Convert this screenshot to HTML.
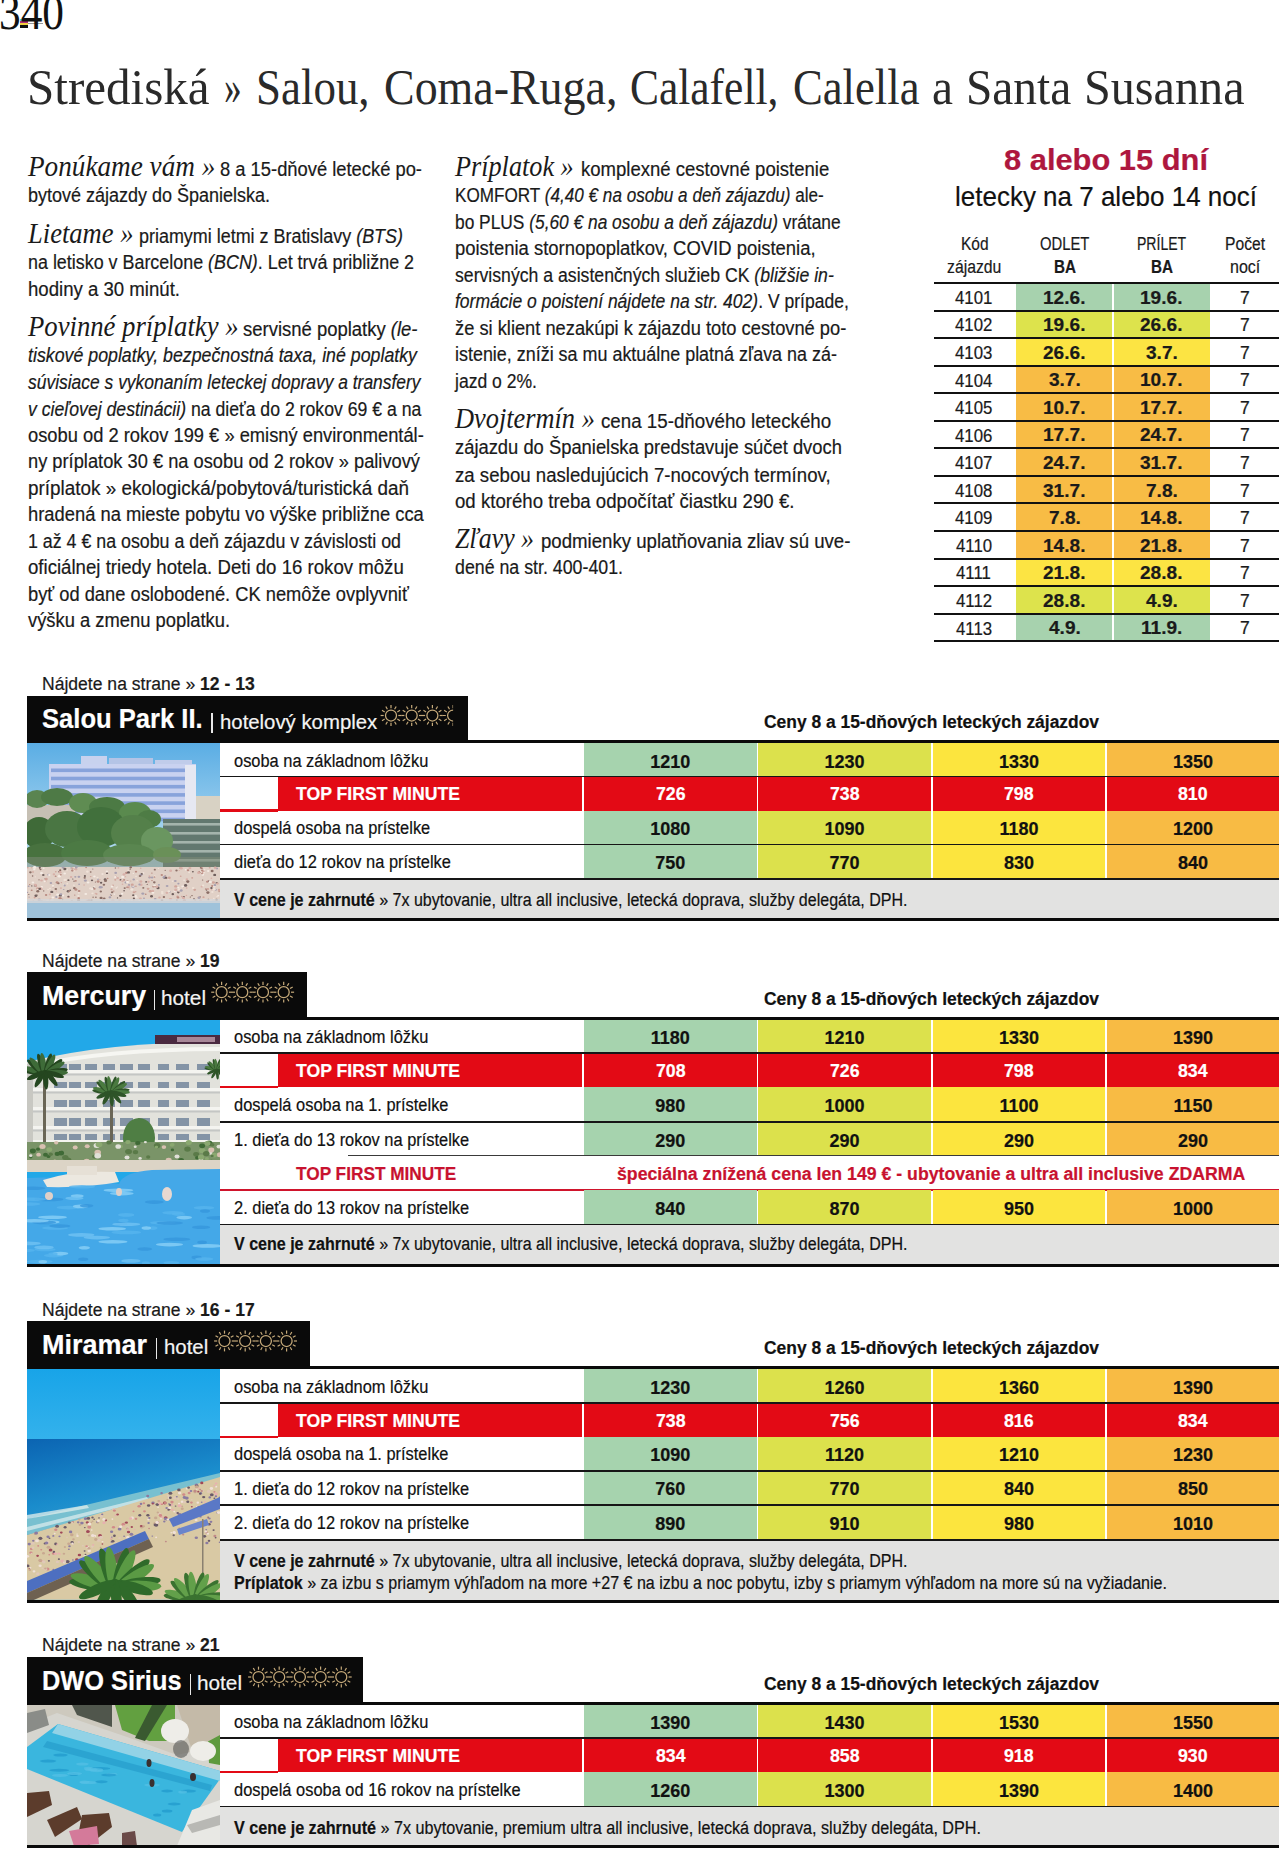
<!DOCTYPE html>
<html><head><meta charset="utf-8"><title>Strediská</title>
<style>
html,body{margin:0;padding:0;background:#fff;overflow:hidden;}
body{width:1280px;height:1849px;position:relative;overflow:hidden;}
.t{position:absolute;white-space:nowrap;line-height:0;-webkit-text-stroke:0.2px currentColor;}
.hd{font-family:"Liberation Serif",serif;font-style:italic;font-size:30px;-webkit-text-stroke:0;}
i{font-style:italic;}
</style></head><body>
<div style="position:absolute;left:20px;top:19px;width:8px;height:2px;background:#5ac8f0;"></div>
<div style="position:absolute;left:20px;top:21px;width:8px;height:2px;background:#b0307a;"></div>
<div style="position:absolute;left:20px;top:23px;width:8px;height:2px;background:#f0d040;"></div>
<div style="position:absolute;left:20px;top:25px;width:8px;height:3px;background:#111;"></div>
<div style="position:absolute;left:28px;top:23px;width:15px;height:1px;background:#999;"></div>
<div style="position:absolute;left:1016px;top:283.0px;width:96px;height:27.55px;background:#a7d2ae;"></div>
<div style="position:absolute;left:1114px;top:283.0px;width:96px;height:27.55px;background:#a7d2ae;"></div>
<div style="position:absolute;left:1016px;top:310.55px;width:96px;height:27.55px;background:#dde34c;"></div>
<div style="position:absolute;left:1114px;top:310.55px;width:96px;height:27.55px;background:#dde34c;"></div>
<div style="position:absolute;left:1016px;top:338.1px;width:96px;height:27.55px;background:#fce443;"></div>
<div style="position:absolute;left:1114px;top:338.1px;width:96px;height:27.55px;background:#fce443;"></div>
<div style="position:absolute;left:1016px;top:365.65px;width:96px;height:27.55px;background:#f8bc45;"></div>
<div style="position:absolute;left:1114px;top:365.65px;width:96px;height:27.55px;background:#f8bc45;"></div>
<div style="position:absolute;left:1016px;top:393.2px;width:96px;height:27.55px;background:#f8bc45;"></div>
<div style="position:absolute;left:1114px;top:393.2px;width:96px;height:27.55px;background:#f8bc45;"></div>
<div style="position:absolute;left:1016px;top:420.75px;width:96px;height:27.55px;background:#f8bc45;"></div>
<div style="position:absolute;left:1114px;top:420.75px;width:96px;height:27.55px;background:#f8bc45;"></div>
<div style="position:absolute;left:1016px;top:448.3px;width:96px;height:27.55px;background:#f8bc45;"></div>
<div style="position:absolute;left:1114px;top:448.3px;width:96px;height:27.55px;background:#f8bc45;"></div>
<div style="position:absolute;left:1016px;top:475.85px;width:96px;height:27.55px;background:#f8bc45;"></div>
<div style="position:absolute;left:1114px;top:475.85px;width:96px;height:27.55px;background:#f8bc45;"></div>
<div style="position:absolute;left:1016px;top:503.4px;width:96px;height:27.55px;background:#f8bc45;"></div>
<div style="position:absolute;left:1114px;top:503.4px;width:96px;height:27.55px;background:#f8bc45;"></div>
<div style="position:absolute;left:1016px;top:530.95px;width:96px;height:27.55px;background:#f8bc45;"></div>
<div style="position:absolute;left:1114px;top:530.95px;width:96px;height:27.55px;background:#f8bc45;"></div>
<div style="position:absolute;left:1016px;top:558.5px;width:96px;height:27.55px;background:#fce443;"></div>
<div style="position:absolute;left:1114px;top:558.5px;width:96px;height:27.55px;background:#fce443;"></div>
<div style="position:absolute;left:1016px;top:586.05px;width:96px;height:27.55px;background:#dde34c;"></div>
<div style="position:absolute;left:1114px;top:586.05px;width:96px;height:27.55px;background:#dde34c;"></div>
<div style="position:absolute;left:1016px;top:613.6px;width:96px;height:27.55px;background:#a7d2ae;"></div>
<div style="position:absolute;left:1114px;top:613.6px;width:96px;height:27.55px;background:#a7d2ae;"></div>
<div style="position:absolute;left:934px;top:282.0px;width:345px;height:2px;background:#111;"></div>
<div style="position:absolute;left:934px;top:309.55px;width:345px;height:2px;background:#111;"></div>
<div style="position:absolute;left:934px;top:337.1px;width:345px;height:2px;background:#111;"></div>
<div style="position:absolute;left:934px;top:364.65px;width:345px;height:2px;background:#111;"></div>
<div style="position:absolute;left:934px;top:392.2px;width:345px;height:2px;background:#111;"></div>
<div style="position:absolute;left:934px;top:419.75px;width:345px;height:2px;background:#111;"></div>
<div style="position:absolute;left:934px;top:447.3px;width:345px;height:2px;background:#111;"></div>
<div style="position:absolute;left:934px;top:474.85px;width:345px;height:2px;background:#111;"></div>
<div style="position:absolute;left:934px;top:502.4px;width:345px;height:2px;background:#111;"></div>
<div style="position:absolute;left:934px;top:529.95px;width:345px;height:2px;background:#111;"></div>
<div style="position:absolute;left:934px;top:557.5px;width:345px;height:2px;background:#111;"></div>
<div style="position:absolute;left:934px;top:585.05px;width:345px;height:2px;background:#111;"></div>
<div style="position:absolute;left:934px;top:612.6px;width:345px;height:2px;background:#111;"></div>
<div style="position:absolute;left:934px;top:640.1500000000001px;width:345px;height:2px;background:#111;"></div>
<div style="position:absolute;left:27px;top:695.5px;width:441.4px;height:47.5px;background:#0a0a0a;"></div>
<div style="position:absolute;left:27px;top:740px;width:1252px;height:3px;background:#0a0a0a;"></div>
<div style="position:absolute;left:211.3px;top:712.9px;width:1.4px;height:20.6px;background:#e8e8e8;"></div>
<svg style="position:absolute;left:0;top:0;overflow:visible" width="1" height="1"><circle cx="391.0" cy="715.5" r="5.5" fill="none" stroke="#c6aa7a" stroke-width="1.25"/><line x1="398.3" y1="715.5" x2="401.4" y2="715.5" stroke="#c6aa7a" stroke-width="1.2" stroke-linecap="butt"/><line x1="397.3" y1="719.1" x2="400.0" y2="720.7" stroke="#c6aa7a" stroke-width="1.2" stroke-linecap="butt"/><line x1="394.6" y1="721.8" x2="396.2" y2="724.5" stroke="#c6aa7a" stroke-width="1.2" stroke-linecap="butt"/><line x1="391.0" y1="722.8" x2="391.0" y2="725.9" stroke="#c6aa7a" stroke-width="1.2" stroke-linecap="butt"/><line x1="387.4" y1="721.8" x2="385.8" y2="724.5" stroke="#c6aa7a" stroke-width="1.2" stroke-linecap="butt"/><line x1="384.7" y1="719.1" x2="382.0" y2="720.7" stroke="#c6aa7a" stroke-width="1.2" stroke-linecap="butt"/><line x1="383.7" y1="715.5" x2="380.6" y2="715.5" stroke="#c6aa7a" stroke-width="1.2" stroke-linecap="butt"/><line x1="384.7" y1="711.9" x2="382.0" y2="710.3" stroke="#c6aa7a" stroke-width="1.2" stroke-linecap="butt"/><line x1="387.4" y1="709.2" x2="385.8" y2="706.5" stroke="#c6aa7a" stroke-width="1.2" stroke-linecap="butt"/><line x1="391.0" y1="708.2" x2="391.0" y2="705.1" stroke="#c6aa7a" stroke-width="1.2" stroke-linecap="butt"/><line x1="394.6" y1="709.2" x2="396.2" y2="706.5" stroke="#c6aa7a" stroke-width="1.2" stroke-linecap="butt"/><line x1="397.3" y1="711.9" x2="400.0" y2="710.3" stroke="#c6aa7a" stroke-width="1.2" stroke-linecap="butt"/><circle cx="411.7" cy="715.5" r="5.5" fill="none" stroke="#c6aa7a" stroke-width="1.25"/><line x1="419.0" y1="715.5" x2="422.1" y2="715.5" stroke="#c6aa7a" stroke-width="1.2" stroke-linecap="butt"/><line x1="418.0" y1="719.1" x2="420.7" y2="720.7" stroke="#c6aa7a" stroke-width="1.2" stroke-linecap="butt"/><line x1="415.3" y1="721.8" x2="416.9" y2="724.5" stroke="#c6aa7a" stroke-width="1.2" stroke-linecap="butt"/><line x1="411.7" y1="722.8" x2="411.7" y2="725.9" stroke="#c6aa7a" stroke-width="1.2" stroke-linecap="butt"/><line x1="408.1" y1="721.8" x2="406.5" y2="724.5" stroke="#c6aa7a" stroke-width="1.2" stroke-linecap="butt"/><line x1="405.4" y1="719.1" x2="402.7" y2="720.7" stroke="#c6aa7a" stroke-width="1.2" stroke-linecap="butt"/><line x1="404.4" y1="715.5" x2="401.3" y2="715.5" stroke="#c6aa7a" stroke-width="1.2" stroke-linecap="butt"/><line x1="405.4" y1="711.9" x2="402.7" y2="710.3" stroke="#c6aa7a" stroke-width="1.2" stroke-linecap="butt"/><line x1="408.1" y1="709.2" x2="406.5" y2="706.5" stroke="#c6aa7a" stroke-width="1.2" stroke-linecap="butt"/><line x1="411.7" y1="708.2" x2="411.7" y2="705.1" stroke="#c6aa7a" stroke-width="1.2" stroke-linecap="butt"/><line x1="415.3" y1="709.2" x2="416.9" y2="706.5" stroke="#c6aa7a" stroke-width="1.2" stroke-linecap="butt"/><line x1="418.0" y1="711.9" x2="420.7" y2="710.3" stroke="#c6aa7a" stroke-width="1.2" stroke-linecap="butt"/><circle cx="432.4" cy="715.5" r="5.5" fill="none" stroke="#c6aa7a" stroke-width="1.25"/><line x1="439.7" y1="715.5" x2="442.8" y2="715.5" stroke="#c6aa7a" stroke-width="1.2" stroke-linecap="butt"/><line x1="438.7" y1="719.1" x2="441.4" y2="720.7" stroke="#c6aa7a" stroke-width="1.2" stroke-linecap="butt"/><line x1="436.0" y1="721.8" x2="437.6" y2="724.5" stroke="#c6aa7a" stroke-width="1.2" stroke-linecap="butt"/><line x1="432.4" y1="722.8" x2="432.4" y2="725.9" stroke="#c6aa7a" stroke-width="1.2" stroke-linecap="butt"/><line x1="428.8" y1="721.8" x2="427.2" y2="724.5" stroke="#c6aa7a" stroke-width="1.2" stroke-linecap="butt"/><line x1="426.1" y1="719.1" x2="423.4" y2="720.7" stroke="#c6aa7a" stroke-width="1.2" stroke-linecap="butt"/><line x1="425.1" y1="715.5" x2="422.0" y2="715.5" stroke="#c6aa7a" stroke-width="1.2" stroke-linecap="butt"/><line x1="426.1" y1="711.9" x2="423.4" y2="710.3" stroke="#c6aa7a" stroke-width="1.2" stroke-linecap="butt"/><line x1="428.8" y1="709.2" x2="427.2" y2="706.5" stroke="#c6aa7a" stroke-width="1.2" stroke-linecap="butt"/><line x1="432.4" y1="708.2" x2="432.4" y2="705.1" stroke="#c6aa7a" stroke-width="1.2" stroke-linecap="butt"/><line x1="436.0" y1="709.2" x2="437.6" y2="706.5" stroke="#c6aa7a" stroke-width="1.2" stroke-linecap="butt"/><line x1="438.7" y1="711.9" x2="441.4" y2="710.3" stroke="#c6aa7a" stroke-width="1.2" stroke-linecap="butt"/><clipPath id="hc715"><rect x="442.1" y="704.5" width="11" height="22"/></clipPath><g clip-path="url(#hc715)"><circle cx="453.1" cy="715.5" r="5.5" fill="none" stroke="#c6aa7a" stroke-width="1.25"/><line x1="460.4" y1="715.5" x2="463.5" y2="715.5" stroke="#c6aa7a" stroke-width="1.2" stroke-linecap="butt"/><line x1="459.4" y1="719.1" x2="462.1" y2="720.7" stroke="#c6aa7a" stroke-width="1.2" stroke-linecap="butt"/><line x1="456.8" y1="721.8" x2="458.3" y2="724.5" stroke="#c6aa7a" stroke-width="1.2" stroke-linecap="butt"/><line x1="453.1" y1="722.8" x2="453.1" y2="725.9" stroke="#c6aa7a" stroke-width="1.2" stroke-linecap="butt"/><line x1="449.5" y1="721.8" x2="447.9" y2="724.5" stroke="#c6aa7a" stroke-width="1.2" stroke-linecap="butt"/><line x1="446.8" y1="719.1" x2="444.1" y2="720.7" stroke="#c6aa7a" stroke-width="1.2" stroke-linecap="butt"/><line x1="445.8" y1="715.5" x2="442.7" y2="715.5" stroke="#c6aa7a" stroke-width="1.2" stroke-linecap="butt"/><line x1="446.8" y1="711.9" x2="444.1" y2="710.3" stroke="#c6aa7a" stroke-width="1.2" stroke-linecap="butt"/><line x1="449.5" y1="709.2" x2="447.9" y2="706.5" stroke="#c6aa7a" stroke-width="1.2" stroke-linecap="butt"/><line x1="453.1" y1="708.2" x2="453.1" y2="705.1" stroke="#c6aa7a" stroke-width="1.2" stroke-linecap="butt"/><line x1="456.8" y1="709.2" x2="458.3" y2="706.5" stroke="#c6aa7a" stroke-width="1.2" stroke-linecap="butt"/><line x1="459.4" y1="711.9" x2="462.1" y2="710.3" stroke="#c6aa7a" stroke-width="1.2" stroke-linecap="butt"/></g></svg>
<svg style="position:absolute;left:27px;top:743px" width="193" height="175" viewBox="0 0 193 175" preserveAspectRatio="none"><defs><linearGradient id="sk1" x1="0" y1="0" x2="0" y2="1"><stop offset="0" stop-color="#5aade4"/><stop offset="0.45" stop-color="#9ccfee"/><stop offset="0.8" stop-color="#c4e2f2"/></linearGradient></defs><rect width="193" height="175" fill="url(#sk1)"/><rect x="169" y="53" width="24" height="24" fill="#d8d2c4"/><rect x="54" y="13" width="26" height="9" fill="#c8d2ee"/><rect x="82" y="15" width="44" height="7" fill="#b4c4e6"/><rect x="128" y="17" width="37" height="5" fill="#c0ccea"/><rect x="22" y="21" width="147" height="56" fill="#c9d2f0"/><rect x="24" y="25.5" width="140" height="3.6" fill="#6c8fd2" opacity="0.7"/><rect x="24" y="33.7" width="140" height="3.6" fill="#6c8fd2" opacity="0.7"/><rect x="24" y="41.9" width="140" height="3.6" fill="#6c8fd2" opacity="0.7"/><rect x="24" y="50.1" width="140" height="3.6" fill="#6c8fd2" opacity="0.7"/><rect x="24" y="58.3" width="140" height="3.6" fill="#6c8fd2" opacity="0.7"/><rect x="24" y="66.5" width="140" height="3.6" fill="#6c8fd2" opacity="0.7"/><rect x="24" y="74.7" width="140" height="3.6" fill="#6c8fd2" opacity="0.7"/><rect x="158" y="22" width="11" height="55" fill="#e6e8f2"/><rect x="136" y="76" width="57" height="50" fill="#62786f"/><rect x="136" y="80.0" width="57" height="2.6" fill="#a4b4ac"/><rect x="136" y="89.0" width="57" height="2.6" fill="#a4b4ac"/><rect x="136" y="98.0" width="57" height="2.6" fill="#a4b4ac"/><rect x="136" y="107.0" width="57" height="2.6" fill="#a4b4ac"/><rect x="136" y="116.0" width="57" height="2.6" fill="#a4b4ac"/><rect x="0" y="62" width="48" height="22" fill="#c6c0b4"/><ellipse cx="10" cy="56" rx="12" ry="9" fill="#5a8450"/><ellipse cx="30" cy="54" rx="16" ry="9" fill="#4e7a46"/><ellipse cx="56" cy="60" rx="14" ry="10" fill="#5f8c52"/><ellipse cx="80" cy="64" rx="18" ry="10" fill="#4c7a44"/><ellipse cx="108" cy="70" rx="16" ry="11" fill="#5a8a4e"/><ellipse cx="122" cy="76" rx="12" ry="9" fill="#4e7c45"/><ellipse cx="12" cy="90" rx="16" ry="16" fill="#3f6a38"/><ellipse cx="40" cy="86" rx="22" ry="18" fill="#4a7643"/><ellipse cx="74" cy="84" rx="24" ry="20" fill="#41703c"/><ellipse cx="106" cy="90" rx="22" ry="18" fill="#54804a"/><ellipse cx="130" cy="98" rx="16" ry="14" fill="#6a9660"/><ellipse cx="18" cy="112" rx="22" ry="12" fill="#48723f"/><ellipse cx="60" cy="110" rx="26" ry="13" fill="#4c7a44"/><ellipse cx="102" cy="112" rx="26" ry="11" fill="#5a8650"/><ellipse cx="140" cy="112" rx="14" ry="8" fill="#6a9058"/><rect x="0" y="114" width="193" height="11" fill="#7c8874" opacity="0.55"/><rect x="0" y="124" width="193" height="36" fill="#e0d0c6"/><ellipse cx="25.9" cy="154.5" rx="1.4" ry="1.1" fill="#f4ebe4" opacity="1.0"/><ellipse cx="22.8" cy="151.4" rx="1.1" ry="0.9" fill="#d8b0a8" opacity="1.0"/><ellipse cx="152.2" cy="127.4" rx="0.6" ry="0.5" fill="#d8b0a8" opacity="1.0"/><ellipse cx="83.5" cy="151.4" rx="0.6" ry="0.5" fill="#a8a0b0" opacity="1.0"/><ellipse cx="51.4" cy="152.9" rx="1.2" ry="1.0" fill="#efe2d8" opacity="1.0"/><ellipse cx="174.0" cy="125.1" rx="0.6" ry="0.5" fill="#b88a80" opacity="1.0"/><ellipse cx="181.3" cy="137.7" rx="0.8" ry="0.7" fill="#d8b0a8" opacity="1.0"/><ellipse cx="140.1" cy="143.0" rx="1.4" ry="1.1" fill="#a8a0b0" opacity="1.0"/><ellipse cx="106.7" cy="136.4" rx="1.3" ry="1.0" fill="#a8a0b0" opacity="1.0"/><ellipse cx="183.8" cy="157.4" rx="1.0" ry="0.8" fill="#efe2d8" opacity="1.0"/><ellipse cx="35.9" cy="159.7" rx="1.5" ry="1.2" fill="#efe2d8" opacity="1.0"/><ellipse cx="143.4" cy="156.2" rx="1.6" ry="1.3" fill="#d8b0a8" opacity="1.0"/><ellipse cx="98.0" cy="156.8" rx="0.8" ry="0.6" fill="#f4ebe4" opacity="1.0"/><ellipse cx="113.4" cy="155.8" rx="1.4" ry="1.2" fill="#d8b0a8" opacity="1.0"/><ellipse cx="113.7" cy="125.2" rx="0.8" ry="0.7" fill="#d8b0a8" opacity="1.0"/><ellipse cx="80.0" cy="130.2" rx="1.1" ry="0.9" fill="#6e5e5c" opacity="1.0"/><ellipse cx="16.7" cy="147.9" rx="0.7" ry="0.6" fill="#8a6e66" opacity="1.0"/><ellipse cx="100.5" cy="138.2" rx="1.1" ry="0.9" fill="#b88a80" opacity="1.0"/><ellipse cx="90.6" cy="135.1" rx="1.4" ry="1.2" fill="#d8b0a8" opacity="1.0"/><ellipse cx="124.9" cy="130.1" rx="0.8" ry="0.7" fill="#b88a80" opacity="1.0"/><ellipse cx="148.7" cy="143.4" rx="1.5" ry="1.2" fill="#cfa49a" opacity="1.0"/><ellipse cx="78.1" cy="136.4" rx="1.4" ry="1.2" fill="#6e5e5c" opacity="1.0"/><ellipse cx="88.6" cy="133.7" rx="1.1" ry="0.9" fill="#b88a80" opacity="1.0"/><ellipse cx="74.1" cy="154.9" rx="1.6" ry="1.2" fill="#8a6e66" opacity="1.0"/><ellipse cx="100.1" cy="144.2" rx="1.0" ry="0.8" fill="#b88a80" opacity="1.0"/><ellipse cx="92.9" cy="137.1" rx="1.2" ry="0.9" fill="#d8b0a8" opacity="1.0"/><ellipse cx="93.6" cy="136.8" rx="0.9" ry="0.8" fill="#6e5e5c" opacity="1.0"/><ellipse cx="88.4" cy="125.0" rx="0.8" ry="0.7" fill="#8a6e66" opacity="1.0"/><ellipse cx="106.3" cy="130.5" rx="0.7" ry="0.6" fill="#f4ebe4" opacity="1.0"/><ellipse cx="6.3" cy="158.0" rx="0.7" ry="0.5" fill="#b88a80" opacity="1.0"/><ellipse cx="87.4" cy="151.1" rx="0.9" ry="0.7" fill="#f4ebe4" opacity="1.0"/><ellipse cx="21.1" cy="146.5" rx="0.9" ry="0.8" fill="#efe2d8" opacity="1.0"/><ellipse cx="32.3" cy="133.2" rx="1.6" ry="1.2" fill="#f4ebe4" opacity="1.0"/><ellipse cx="125.1" cy="134.6" rx="1.3" ry="1.0" fill="#a8a0b0" opacity="1.0"/><ellipse cx="91.4" cy="124.9" rx="1.0" ry="0.8" fill="#d8b0a8" opacity="1.0"/><ellipse cx="153.7" cy="133.3" rx="0.9" ry="0.7" fill="#cfa49a" opacity="1.0"/><ellipse cx="186.4" cy="139.5" rx="1.6" ry="1.3" fill="#cfa49a" opacity="1.0"/><ellipse cx="3.4" cy="129.3" rx="1.3" ry="1.1" fill="#8a6e66" opacity="1.0"/><ellipse cx="86.0" cy="142.2" rx="1.0" ry="0.8" fill="#cfa49a" opacity="1.0"/><ellipse cx="188.6" cy="146.7" rx="1.3" ry="1.0" fill="#a8a0b0" opacity="1.0"/><ellipse cx="43.1" cy="147.3" rx="1.0" ry="0.8" fill="#6e5e5c" opacity="1.0"/><ellipse cx="127.3" cy="139.3" rx="1.3" ry="1.1" fill="#8a6e66" opacity="1.0"/><ellipse cx="186.8" cy="155.5" rx="0.9" ry="0.7" fill="#efe2d8" opacity="1.0"/><ellipse cx="59.9" cy="157.8" rx="1.3" ry="1.1" fill="#d8b0a8" opacity="1.0"/><ellipse cx="109.0" cy="128.7" rx="1.2" ry="0.9" fill="#b88a80" opacity="1.0"/><ellipse cx="114.0" cy="131.8" rx="1.5" ry="1.2" fill="#a8a0b0" opacity="1.0"/><ellipse cx="33.1" cy="155.2" rx="1.6" ry="1.3" fill="#b88a80" opacity="1.0"/><ellipse cx="72.9" cy="136.5" rx="0.8" ry="0.6" fill="#d8b0a8" opacity="1.0"/><ellipse cx="114.1" cy="141.7" rx="1.5" ry="1.2" fill="#d8b0a8" opacity="1.0"/><ellipse cx="57.1" cy="142.0" rx="0.9" ry="0.7" fill="#d8b0a8" opacity="1.0"/><ellipse cx="173.6" cy="124.7" rx="0.8" ry="0.6" fill="#6e5e5c" opacity="1.0"/><ellipse cx="156.5" cy="144.3" rx="0.7" ry="0.6" fill="#d8b0a8" opacity="1.0"/><ellipse cx="41.1" cy="148.3" rx="1.4" ry="1.2" fill="#6e5e5c" opacity="1.0"/><ellipse cx="176.5" cy="154.2" rx="1.1" ry="0.9" fill="#cfa49a" opacity="1.0"/><ellipse cx="12.6" cy="125.5" rx="0.7" ry="0.6" fill="#8a6e66" opacity="1.0"/><ellipse cx="175.8" cy="131.7" rx="1.4" ry="1.1" fill="#f4ebe4" opacity="1.0"/><ellipse cx="71.0" cy="136.3" rx="0.9" ry="0.7" fill="#a8a0b0" opacity="1.0"/><ellipse cx="26.1" cy="143.8" rx="0.7" ry="0.6" fill="#b88a80" opacity="1.0"/><ellipse cx="78.5" cy="137.7" rx="1.6" ry="1.3" fill="#8a6e66" opacity="1.0"/><ellipse cx="159.9" cy="136.3" rx="1.2" ry="1.0" fill="#d8b0a8" opacity="1.0"/><ellipse cx="14.8" cy="143.8" rx="1.2" ry="0.9" fill="#f4ebe4" opacity="1.0"/><ellipse cx="70.4" cy="134.6" rx="1.1" ry="0.9" fill="#efe2d8" opacity="1.0"/><ellipse cx="88.3" cy="134.0" rx="1.4" ry="1.1" fill="#f4ebe4" opacity="1.0"/><ellipse cx="2.4" cy="148.1" rx="0.7" ry="0.6" fill="#efe2d8" opacity="1.0"/><ellipse cx="159.4" cy="152.4" rx="0.8" ry="0.6" fill="#d8b0a8" opacity="1.0"/><ellipse cx="31.3" cy="140.2" rx="1.3" ry="1.0" fill="#8a6e66" opacity="1.0"/><ellipse cx="143.6" cy="127.7" rx="1.5" ry="1.2" fill="#d8b0a8" opacity="1.0"/><ellipse cx="155.7" cy="143.5" rx="1.4" ry="1.1" fill="#f4ebe4" opacity="1.0"/><ellipse cx="137.3" cy="135.3" rx="0.8" ry="0.6" fill="#6e5e5c" opacity="1.0"/><ellipse cx="7.6" cy="124.4" rx="1.6" ry="1.3" fill="#f4ebe4" opacity="1.0"/><ellipse cx="140.2" cy="135.5" rx="1.0" ry="0.8" fill="#d8b0a8" opacity="1.0"/><ellipse cx="12.2" cy="156.9" rx="1.6" ry="1.3" fill="#a8a0b0" opacity="1.0"/><ellipse cx="21.5" cy="131.7" rx="1.2" ry="1.0" fill="#a8a0b0" opacity="1.0"/><ellipse cx="127.7" cy="133.3" rx="1.1" ry="0.9" fill="#f4ebe4" opacity="1.0"/><ellipse cx="38.4" cy="137.0" rx="1.4" ry="1.1" fill="#efe2d8" opacity="1.0"/><ellipse cx="189.8" cy="140.1" rx="1.3" ry="1.0" fill="#6e5e5c" opacity="1.0"/><ellipse cx="181.6" cy="138.1" rx="0.9" ry="0.7" fill="#6e5e5c" opacity="1.0"/><ellipse cx="36.1" cy="152.5" rx="1.2" ry="0.9" fill="#f4ebe4" opacity="1.0"/><ellipse cx="47.4" cy="127.6" rx="1.2" ry="1.0" fill="#efe2d8" opacity="1.0"/><ellipse cx="47.3" cy="124.7" rx="0.8" ry="0.7" fill="#efe2d8" opacity="1.0"/><ellipse cx="51.7" cy="155.2" rx="1.3" ry="1.1" fill="#b88a80" opacity="1.0"/><ellipse cx="122.6" cy="134.5" rx="1.4" ry="1.1" fill="#a8a0b0" opacity="1.0"/><ellipse cx="90.5" cy="154.9" rx="0.7" ry="0.6" fill="#6e5e5c" opacity="1.0"/><ellipse cx="14.9" cy="158.2" rx="0.8" ry="0.6" fill="#8a6e66" opacity="1.0"/><ellipse cx="190.1" cy="153.6" rx="0.9" ry="0.7" fill="#efe2d8" opacity="1.0"/><ellipse cx="136.9" cy="154.0" rx="1.2" ry="1.0" fill="#8a6e66" opacity="1.0"/><ellipse cx="172.5" cy="129.1" rx="1.5" ry="1.2" fill="#b88a80" opacity="1.0"/><ellipse cx="150.5" cy="153.6" rx="1.2" ry="1.0" fill="#cfa49a" opacity="1.0"/><ellipse cx="34.4" cy="139.6" rx="0.8" ry="0.6" fill="#cfa49a" opacity="1.0"/><ellipse cx="48.7" cy="126.3" rx="1.6" ry="1.3" fill="#d8b0a8" opacity="1.0"/><ellipse cx="106.0" cy="143.5" rx="1.5" ry="1.2" fill="#a8a0b0" opacity="1.0"/><ellipse cx="2.1" cy="154.1" rx="0.8" ry="0.6" fill="#a8a0b0" opacity="1.0"/><ellipse cx="4.7" cy="147.3" rx="1.0" ry="0.8" fill="#b88a80" opacity="1.0"/><ellipse cx="12.0" cy="136.8" rx="0.7" ry="0.6" fill="#8a6e66" opacity="1.0"/><ellipse cx="26.7" cy="159.4" rx="0.9" ry="0.7" fill="#d8b0a8" opacity="1.0"/><ellipse cx="33.2" cy="127.2" rx="1.1" ry="0.9" fill="#8a6e66" opacity="1.0"/><ellipse cx="102.0" cy="142.0" rx="1.2" ry="1.0" fill="#a8a0b0" opacity="1.0"/><ellipse cx="179.5" cy="147.0" rx="0.8" ry="0.7" fill="#6e5e5c" opacity="1.0"/><ellipse cx="95.5" cy="141.2" rx="0.8" ry="0.7" fill="#d8b0a8" opacity="1.0"/><ellipse cx="65.0" cy="146.0" rx="1.3" ry="1.1" fill="#f4ebe4" opacity="1.0"/><ellipse cx="187.7" cy="131.9" rx="1.5" ry="1.2" fill="#6e5e5c" opacity="1.0"/><ellipse cx="30.8" cy="151.6" rx="1.5" ry="1.2" fill="#f4ebe4" opacity="1.0"/><ellipse cx="57.7" cy="134.8" rx="1.2" ry="0.9" fill="#8a6e66" opacity="1.0"/><ellipse cx="135.3" cy="150.5" rx="1.2" ry="1.0" fill="#efe2d8" opacity="1.0"/><ellipse cx="173.0" cy="158.6" rx="1.2" ry="0.9" fill="#8a6e66" opacity="1.0"/><ellipse cx="30.1" cy="139.4" rx="1.5" ry="1.2" fill="#b88a80" opacity="1.0"/><ellipse cx="95.5" cy="138.2" rx="1.2" ry="1.0" fill="#d8b0a8" opacity="1.0"/><ellipse cx="99.4" cy="129.9" rx="1.3" ry="1.1" fill="#b88a80" opacity="1.0"/><ellipse cx="101.2" cy="127.3" rx="0.9" ry="0.7" fill="#efe2d8" opacity="1.0"/><ellipse cx="51.6" cy="156.9" rx="1.6" ry="1.2" fill="#8a6e66" opacity="1.0"/><ellipse cx="187.1" cy="146.2" rx="1.6" ry="1.3" fill="#efe2d8" opacity="1.0"/><ellipse cx="85.9" cy="157.3" rx="1.6" ry="1.3" fill="#d8b0a8" opacity="1.0"/><ellipse cx="181.4" cy="156.5" rx="1.0" ry="0.8" fill="#6e5e5c" opacity="1.0"/><ellipse cx="84.6" cy="146.4" rx="1.1" ry="0.9" fill="#cfa49a" opacity="1.0"/><ellipse cx="23.0" cy="145.6" rx="1.0" ry="0.8" fill="#efe2d8" opacity="1.0"/><ellipse cx="127.5" cy="134.0" rx="1.0" ry="0.8" fill="#b88a80" opacity="1.0"/><ellipse cx="185.2" cy="143.0" rx="1.2" ry="0.9" fill="#b88a80" opacity="1.0"/><ellipse cx="121.1" cy="145.8" rx="1.4" ry="1.1" fill="#cfa49a" opacity="1.0"/><ellipse cx="33.4" cy="129.3" rx="0.8" ry="0.6" fill="#f4ebe4" opacity="1.0"/><ellipse cx="113.0" cy="133.0" rx="1.3" ry="1.0" fill="#8a6e66" opacity="1.0"/><ellipse cx="105.3" cy="141.7" rx="1.5" ry="1.2" fill="#cfa49a" opacity="1.0"/><ellipse cx="110.1" cy="137.8" rx="0.9" ry="0.7" fill="#efe2d8" opacity="1.0"/><ellipse cx="174.5" cy="124.9" rx="1.2" ry="0.9" fill="#b88a80" opacity="1.0"/><ellipse cx="105.2" cy="158.7" rx="1.4" ry="1.1" fill="#8a6e66" opacity="1.0"/><ellipse cx="14.5" cy="137.5" rx="1.4" ry="1.1" fill="#d8b0a8" opacity="1.0"/><ellipse cx="97.1" cy="136.8" rx="1.1" ry="0.9" fill="#b88a80" opacity="1.0"/><ellipse cx="23.9" cy="149.8" rx="1.0" ry="0.8" fill="#d8b0a8" opacity="1.0"/><ellipse cx="65.5" cy="150.3" rx="1.2" ry="0.9" fill="#efe2d8" opacity="1.0"/><ellipse cx="125.0" cy="137.6" rx="0.8" ry="0.6" fill="#b88a80" opacity="1.0"/><ellipse cx="192.0" cy="146.9" rx="1.3" ry="1.1" fill="#cfa49a" opacity="1.0"/><ellipse cx="190.5" cy="140.6" rx="1.4" ry="1.1" fill="#d8b0a8" opacity="1.0"/><ellipse cx="180.9" cy="149.6" rx="1.6" ry="1.3" fill="#8a6e66" opacity="1.0"/><ellipse cx="86.7" cy="148.1" rx="0.8" ry="0.6" fill="#b88a80" opacity="1.0"/><ellipse cx="131.0" cy="144.9" rx="1.6" ry="1.3" fill="#6e5e5c" opacity="1.0"/><ellipse cx="166.2" cy="145.0" rx="1.3" ry="1.1" fill="#efe2d8" opacity="1.0"/><ellipse cx="95.1" cy="150.8" rx="1.2" ry="1.0" fill="#f4ebe4" opacity="1.0"/><ellipse cx="121.5" cy="138.7" rx="1.2" ry="1.0" fill="#d8b0a8" opacity="1.0"/><ellipse cx="151.0" cy="154.5" rx="1.4" ry="1.1" fill="#b88a80" opacity="1.0"/><ellipse cx="67.4" cy="133.5" rx="1.3" ry="1.0" fill="#f4ebe4" opacity="1.0"/><ellipse cx="29.3" cy="154.0" rx="1.1" ry="0.9" fill="#a8a0b0" opacity="1.0"/><ellipse cx="98.5" cy="133.7" rx="0.7" ry="0.6" fill="#d8b0a8" opacity="1.0"/><ellipse cx="13.5" cy="126.4" rx="1.0" ry="0.8" fill="#8a6e66" opacity="1.0"/><ellipse cx="97.9" cy="158.1" rx="1.3" ry="1.0" fill="#d8b0a8" opacity="1.0"/><ellipse cx="122.7" cy="133.9" rx="0.9" ry="0.7" fill="#cfa49a" opacity="1.0"/><ellipse cx="45.8" cy="136.0" rx="0.7" ry="0.5" fill="#6e5e5c" opacity="1.0"/><ellipse cx="90.3" cy="144.1" rx="0.6" ry="0.5" fill="#f4ebe4" opacity="1.0"/><ellipse cx="126.0" cy="149.7" rx="1.4" ry="1.1" fill="#f4ebe4" opacity="1.0"/><ellipse cx="68.7" cy="150.6" rx="1.0" ry="0.8" fill="#d8b0a8" opacity="1.0"/><ellipse cx="33.3" cy="152.4" rx="1.5" ry="1.2" fill="#6e5e5c" opacity="1.0"/><ellipse cx="138.2" cy="133.3" rx="1.2" ry="1.0" fill="#cfa49a" opacity="1.0"/><ellipse cx="162.9" cy="125.1" rx="1.5" ry="1.2" fill="#d8b0a8" opacity="1.0"/><ellipse cx="61.1" cy="139.5" rx="1.4" ry="1.1" fill="#f4ebe4" opacity="1.0"/><ellipse cx="36.7" cy="146.5" rx="0.8" ry="0.6" fill="#a8a0b0" opacity="1.0"/><ellipse cx="112.2" cy="157.6" rx="0.7" ry="0.6" fill="#f4ebe4" opacity="1.0"/><ellipse cx="88.7" cy="129.9" rx="1.4" ry="1.1" fill="#a8a0b0" opacity="1.0"/><ellipse cx="69.7" cy="151.0" rx="0.8" ry="0.7" fill="#cfa49a" opacity="1.0"/><ellipse cx="138.7" cy="135.0" rx="0.7" ry="0.6" fill="#d8b0a8" opacity="1.0"/><ellipse cx="62.0" cy="157.4" rx="1.6" ry="1.2" fill="#b88a80" opacity="1.0"/><ellipse cx="10.7" cy="145.5" rx="1.5" ry="1.2" fill="#cfa49a" opacity="1.0"/><ellipse cx="131.9" cy="141.8" rx="1.1" ry="0.9" fill="#a8a0b0" opacity="1.0"/><ellipse cx="66.1" cy="154.2" rx="0.7" ry="0.6" fill="#8a6e66" opacity="1.0"/><ellipse cx="18.4" cy="138.4" rx="1.1" ry="0.9" fill="#d8b0a8" opacity="1.0"/><ellipse cx="144.9" cy="159.0" rx="0.8" ry="0.7" fill="#f4ebe4" opacity="1.0"/><ellipse cx="89.3" cy="144.9" rx="0.8" ry="0.6" fill="#f4ebe4" opacity="1.0"/><ellipse cx="63.7" cy="145.4" rx="1.5" ry="1.2" fill="#efe2d8" opacity="1.0"/><ellipse cx="8.9" cy="152.7" rx="1.5" ry="1.2" fill="#6e5e5c" opacity="1.0"/><ellipse cx="171.5" cy="154.5" rx="0.9" ry="0.7" fill="#cfa49a" opacity="1.0"/><ellipse cx="77.2" cy="155.7" rx="1.4" ry="1.1" fill="#8a6e66" opacity="1.0"/><ellipse cx="153.2" cy="125.1" rx="1.0" ry="0.8" fill="#b88a80" opacity="1.0"/><ellipse cx="109.0" cy="133.2" rx="0.7" ry="0.5" fill="#f4ebe4" opacity="1.0"/><ellipse cx="174.9" cy="125.3" rx="0.7" ry="0.5" fill="#8a6e66" opacity="1.0"/><ellipse cx="8.3" cy="133.8" rx="0.7" ry="0.6" fill="#efe2d8" opacity="1.0"/><ellipse cx="36.7" cy="142.0" rx="0.7" ry="0.6" fill="#f4ebe4" opacity="1.0"/><ellipse cx="132.5" cy="154.4" rx="1.3" ry="1.0" fill="#d8b0a8" opacity="1.0"/><ellipse cx="63.7" cy="133.6" rx="0.9" ry="0.7" fill="#cfa49a" opacity="1.0"/><ellipse cx="47.4" cy="145.2" rx="1.4" ry="1.1" fill="#8a6e66" opacity="1.0"/><ellipse cx="67.5" cy="145.8" rx="1.2" ry="0.9" fill="#b88a80" opacity="1.0"/><ellipse cx="174.7" cy="143.7" rx="1.1" ry="0.9" fill="#d8b0a8" opacity="1.0"/><ellipse cx="177.5" cy="126.5" rx="0.9" ry="0.7" fill="#efe2d8" opacity="1.0"/><ellipse cx="48.6" cy="159.2" rx="0.8" ry="0.6" fill="#cfa49a" opacity="1.0"/><ellipse cx="164.9" cy="154.7" rx="0.7" ry="0.5" fill="#efe2d8" opacity="1.0"/><ellipse cx="176.1" cy="142.5" rx="1.1" ry="0.9" fill="#efe2d8" opacity="1.0"/><ellipse cx="190.0" cy="125.4" rx="1.1" ry="0.9" fill="#a8a0b0" opacity="1.0"/><ellipse cx="128.2" cy="156.2" rx="1.4" ry="1.1" fill="#a8a0b0" opacity="1.0"/><ellipse cx="4.8" cy="142.9" rx="0.7" ry="0.6" fill="#6e5e5c" opacity="1.0"/><ellipse cx="16.6" cy="125.2" rx="1.0" ry="0.8" fill="#f4ebe4" opacity="1.0"/><ellipse cx="60.4" cy="128.7" rx="1.4" ry="1.1" fill="#efe2d8" opacity="1.0"/><ellipse cx="165.2" cy="134.9" rx="1.0" ry="0.8" fill="#cfa49a" opacity="1.0"/><ellipse cx="97.0" cy="131.4" rx="1.5" ry="1.2" fill="#d8b0a8" opacity="1.0"/><ellipse cx="184.6" cy="145.0" rx="0.7" ry="0.6" fill="#a8a0b0" opacity="1.0"/><ellipse cx="101.1" cy="144.1" rx="1.4" ry="1.2" fill="#b88a80" opacity="1.0"/><ellipse cx="173.1" cy="153.9" rx="0.9" ry="0.7" fill="#8a6e66" opacity="1.0"/><ellipse cx="38.6" cy="138.0" rx="0.9" ry="0.7" fill="#d8b0a8" opacity="1.0"/><ellipse cx="66.7" cy="144.7" rx="0.6" ry="0.5" fill="#6e5e5c" opacity="1.0"/><ellipse cx="80.6" cy="135.5" rx="0.9" ry="0.7" fill="#b88a80" opacity="1.0"/><ellipse cx="101.5" cy="129.4" rx="1.5" ry="1.2" fill="#6e5e5c" opacity="1.0"/><ellipse cx="151.4" cy="144.6" rx="1.1" ry="0.8" fill="#f4ebe4" opacity="1.0"/><ellipse cx="92.6" cy="156.9" rx="1.5" ry="1.2" fill="#d8b0a8" opacity="1.0"/><ellipse cx="157.4" cy="157.3" rx="1.5" ry="1.2" fill="#b88a80" opacity="1.0"/><ellipse cx="26.0" cy="142.9" rx="1.2" ry="0.9" fill="#f4ebe4" opacity="1.0"/><ellipse cx="151.3" cy="149.3" rx="1.3" ry="1.1" fill="#6e5e5c" opacity="1.0"/><ellipse cx="191.2" cy="152.7" rx="1.0" ry="0.8" fill="#f4ebe4" opacity="1.0"/><ellipse cx="89.7" cy="159.3" rx="1.1" ry="0.9" fill="#8a6e66" opacity="1.0"/><ellipse cx="5.6" cy="133.0" rx="0.8" ry="0.7" fill="#8a6e66" opacity="1.0"/><ellipse cx="175.0" cy="130.6" rx="1.0" ry="0.8" fill="#b88a80" opacity="1.0"/><ellipse cx="156.7" cy="159.2" rx="1.3" ry="1.0" fill="#efe2d8" opacity="1.0"/><ellipse cx="39.4" cy="126.4" rx="1.2" ry="0.9" fill="#efe2d8" opacity="1.0"/><ellipse cx="165.0" cy="152.6" rx="0.8" ry="0.7" fill="#8a6e66" opacity="1.0"/><ellipse cx="98.7" cy="139.6" rx="1.2" ry="1.0" fill="#a8a0b0" opacity="1.0"/><ellipse cx="137.1" cy="134.2" rx="1.5" ry="1.2" fill="#a8a0b0" opacity="1.0"/><ellipse cx="167.0" cy="156.1" rx="1.0" ry="0.8" fill="#6e5e5c" opacity="1.0"/><ellipse cx="105.1" cy="158.0" rx="1.4" ry="1.1" fill="#efe2d8" opacity="1.0"/><ellipse cx="157.1" cy="159.9" rx="0.9" ry="0.7" fill="#cfa49a" opacity="1.0"/><ellipse cx="1.6" cy="143.2" rx="1.0" ry="0.8" fill="#a8a0b0" opacity="1.0"/><ellipse cx="14.7" cy="146.2" rx="1.1" ry="0.9" fill="#d8b0a8" opacity="1.0"/><ellipse cx="7.7" cy="154.6" rx="1.1" ry="0.8" fill="#cfa49a" opacity="1.0"/><ellipse cx="185.4" cy="149.1" rx="1.2" ry="1.0" fill="#efe2d8" opacity="1.0"/><ellipse cx="158.6" cy="142.4" rx="1.6" ry="1.3" fill="#6e5e5c" opacity="1.0"/><ellipse cx="187.4" cy="143.5" rx="1.2" ry="0.9" fill="#f4ebe4" opacity="1.0"/><ellipse cx="101.4" cy="143.5" rx="1.4" ry="1.1" fill="#d8b0a8" opacity="1.0"/><ellipse cx="116.3" cy="144.9" rx="1.1" ry="0.8" fill="#8a6e66" opacity="1.0"/><ellipse cx="97.7" cy="145.1" rx="1.1" ry="0.9" fill="#8a6e66" opacity="1.0"/><ellipse cx="48.8" cy="124.3" rx="1.0" ry="0.8" fill="#b88a80" opacity="1.0"/><ellipse cx="71.1" cy="138.5" rx="1.5" ry="1.2" fill="#b88a80" opacity="1.0"/><ellipse cx="173.5" cy="157.3" rx="1.4" ry="1.2" fill="#d8b0a8" opacity="1.0"/><ellipse cx="51.9" cy="133.8" rx="1.4" ry="1.1" fill="#a8a0b0" opacity="1.0"/><ellipse cx="148.3" cy="138.0" rx="1.4" ry="1.1" fill="#a8a0b0" opacity="1.0"/><ellipse cx="68.4" cy="138.9" rx="0.6" ry="0.5" fill="#8a6e66" opacity="1.0"/><ellipse cx="157.1" cy="137.2" rx="0.7" ry="0.6" fill="#f4ebe4" opacity="1.0"/><ellipse cx="183.3" cy="138.9" rx="1.5" ry="1.2" fill="#f4ebe4" opacity="1.0"/><ellipse cx="142.7" cy="148.9" rx="1.0" ry="0.8" fill="#a8a0b0" opacity="1.0"/><ellipse cx="41.6" cy="153.9" rx="1.5" ry="1.2" fill="#d8b0a8" opacity="1.0"/><ellipse cx="138.2" cy="127.3" rx="0.7" ry="0.6" fill="#8a6e66" opacity="1.0"/><ellipse cx="44.2" cy="124.9" rx="0.9" ry="0.7" fill="#a8a0b0" opacity="1.0"/><ellipse cx="149.5" cy="127.6" rx="1.2" ry="1.0" fill="#8a6e66" opacity="1.0"/><ellipse cx="161.0" cy="127.2" rx="1.2" ry="1.0" fill="#b88a80" opacity="1.0"/><ellipse cx="106.1" cy="143.2" rx="0.9" ry="0.8" fill="#efe2d8" opacity="1.0"/><ellipse cx="141.8" cy="148.4" rx="1.4" ry="1.1" fill="#efe2d8" opacity="1.0"/><ellipse cx="192.1" cy="148.6" rx="0.8" ry="0.6" fill="#b88a80" opacity="1.0"/><ellipse cx="151.8" cy="148.4" rx="0.7" ry="0.5" fill="#d8b0a8" opacity="1.0"/><ellipse cx="23.9" cy="140.1" rx="1.3" ry="1.0" fill="#a8a0b0" opacity="1.0"/><ellipse cx="174.7" cy="128.2" rx="1.5" ry="1.2" fill="#efe2d8" opacity="1.0"/><ellipse cx="28.8" cy="146.1" rx="1.3" ry="1.0" fill="#8a6e66" opacity="1.0"/><ellipse cx="100.5" cy="139.0" rx="1.5" ry="1.2" fill="#f4ebe4" opacity="1.0"/><ellipse cx="167.7" cy="146.8" rx="1.4" ry="1.1" fill="#cfa49a" opacity="1.0"/><ellipse cx="152.2" cy="146.4" rx="1.5" ry="1.2" fill="#efe2d8" opacity="1.0"/><ellipse cx="1.7" cy="159.6" rx="1.3" ry="1.0" fill="#f4ebe4" opacity="1.0"/><ellipse cx="10.9" cy="146.5" rx="0.9" ry="0.7" fill="#efe2d8" opacity="1.0"/><ellipse cx="44.1" cy="133.9" rx="1.3" ry="1.0" fill="#d8b0a8" opacity="1.0"/><ellipse cx="28.6" cy="133.2" rx="1.0" ry="0.8" fill="#b88a80" opacity="1.0"/><ellipse cx="102.8" cy="145.9" rx="0.7" ry="0.6" fill="#d8b0a8" opacity="1.0"/><ellipse cx="52.1" cy="141.3" rx="0.9" ry="0.7" fill="#a8a0b0" opacity="1.0"/><ellipse cx="41.4" cy="137.2" rx="1.1" ry="0.9" fill="#6e5e5c" opacity="1.0"/><ellipse cx="34.0" cy="151.3" rx="1.3" ry="1.1" fill="#a8a0b0" opacity="1.0"/><ellipse cx="103.2" cy="126.1" rx="0.9" ry="0.7" fill="#8a6e66" opacity="1.0"/><ellipse cx="124.5" cy="153.2" rx="1.5" ry="1.2" fill="#6e5e5c" opacity="1.0"/><ellipse cx="120.2" cy="141.3" rx="0.7" ry="0.6" fill="#8a6e66" opacity="1.0"/><ellipse cx="134.8" cy="132.1" rx="1.2" ry="1.0" fill="#b88a80" opacity="1.0"/><ellipse cx="108.7" cy="148.7" rx="0.8" ry="0.7" fill="#cfa49a" opacity="1.0"/><ellipse cx="97.1" cy="147.8" rx="0.9" ry="0.7" fill="#6e5e5c" opacity="1.0"/><ellipse cx="0.8" cy="124.7" rx="0.9" ry="0.7" fill="#cfa49a" opacity="1.0"/><ellipse cx="16.3" cy="132.1" rx="1.3" ry="1.0" fill="#6e5e5c" opacity="1.0"/><ellipse cx="51.9" cy="149.9" rx="1.0" ry="0.8" fill="#efe2d8" opacity="1.0"/><ellipse cx="63.7" cy="129.0" rx="0.9" ry="0.7" fill="#8a6e66" opacity="1.0"/><ellipse cx="131.5" cy="125.5" rx="0.7" ry="0.5" fill="#efe2d8" opacity="1.0"/><ellipse cx="57.9" cy="133.0" rx="1.1" ry="0.9" fill="#6e5e5c" opacity="1.0"/><ellipse cx="6.0" cy="129.0" rx="1.0" ry="0.8" fill="#cfa49a" opacity="1.0"/><ellipse cx="18.1" cy="135.8" rx="0.6" ry="0.5" fill="#6e5e5c" opacity="1.0"/><ellipse cx="185.1" cy="128.0" rx="1.5" ry="1.2" fill="#8a6e66" opacity="1.0"/><ellipse cx="117.0" cy="155.3" rx="1.0" ry="0.8" fill="#a8a0b0" opacity="1.0"/><ellipse cx="108.9" cy="143.3" rx="1.0" ry="0.8" fill="#cfa49a" opacity="1.0"/><ellipse cx="122.1" cy="143.8" rx="0.7" ry="0.5" fill="#efe2d8" opacity="1.0"/><ellipse cx="33.8" cy="131.7" rx="1.0" ry="0.8" fill="#b88a80" opacity="1.0"/><ellipse cx="48.3" cy="133.8" rx="1.1" ry="0.9" fill="#a8a0b0" opacity="1.0"/><ellipse cx="24.3" cy="149.5" rx="1.3" ry="1.1" fill="#efe2d8" opacity="1.0"/><ellipse cx="126.3" cy="143.6" rx="1.1" ry="0.9" fill="#b88a80" opacity="1.0"/><ellipse cx="119.5" cy="140.0" rx="0.7" ry="0.6" fill="#efe2d8" opacity="1.0"/><ellipse cx="176.3" cy="129.1" rx="1.5" ry="1.2" fill="#cfa49a" opacity="1.0"/><ellipse cx="93.4" cy="152.8" rx="1.4" ry="1.1" fill="#6e5e5c" opacity="1.0"/><ellipse cx="171.5" cy="129.8" rx="1.4" ry="1.2" fill="#d8b0a8" opacity="1.0"/><ellipse cx="160.8" cy="138.6" rx="1.6" ry="1.3" fill="#8a6e66" opacity="1.0"/><ellipse cx="52.1" cy="148.0" rx="1.4" ry="1.1" fill="#b88a80" opacity="1.0"/><ellipse cx="103.7" cy="124.3" rx="1.4" ry="1.1" fill="#8a6e66" opacity="1.0"/><ellipse cx="73.2" cy="144.2" rx="1.5" ry="1.2" fill="#a8a0b0" opacity="1.0"/><ellipse cx="5.9" cy="139.6" rx="1.3" ry="1.0" fill="#f4ebe4" opacity="1.0"/><ellipse cx="180.2" cy="138.7" rx="1.2" ry="1.0" fill="#b88a80" opacity="1.0"/><ellipse cx="19.1" cy="152.0" rx="1.2" ry="1.0" fill="#b88a80" opacity="1.0"/><ellipse cx="156.8" cy="153.9" rx="1.2" ry="0.9" fill="#6e5e5c" opacity="1.0"/><ellipse cx="106.3" cy="152.2" rx="1.2" ry="0.9" fill="#6e5e5c" opacity="1.0"/><ellipse cx="154.8" cy="153.5" rx="0.8" ry="0.7" fill="#cfa49a" opacity="1.0"/><ellipse cx="20.4" cy="158.3" rx="1.5" ry="1.2" fill="#efe2d8" opacity="1.0"/><ellipse cx="149.9" cy="157.0" rx="0.9" ry="0.7" fill="#6e5e5c" opacity="1.0"/><ellipse cx="48.9" cy="146.5" rx="1.5" ry="1.2" fill="#b88a80" opacity="1.0"/><ellipse cx="119.1" cy="138.9" rx="1.0" ry="0.8" fill="#6e5e5c" opacity="1.0"/><ellipse cx="85.1" cy="149.2" rx="1.2" ry="1.0" fill="#8a6e66" opacity="1.0"/><ellipse cx="10.8" cy="148.2" rx="1.5" ry="1.2" fill="#8a6e66" opacity="1.0"/><ellipse cx="104.8" cy="146.5" rx="1.5" ry="1.2" fill="#efe2d8" opacity="1.0"/><ellipse cx="188.2" cy="124.8" rx="1.5" ry="1.2" fill="#d8b0a8" opacity="1.0"/><ellipse cx="121.9" cy="158.3" rx="1.0" ry="0.8" fill="#cfa49a" opacity="1.0"/><ellipse cx="19.2" cy="136.1" rx="1.6" ry="1.3" fill="#cfa49a" opacity="1.0"/><ellipse cx="151.4" cy="140.6" rx="1.1" ry="0.9" fill="#a8a0b0" opacity="1.0"/><ellipse cx="125.7" cy="147.9" rx="1.5" ry="1.2" fill="#d8b0a8" opacity="1.0"/><ellipse cx="85.0" cy="143.5" rx="1.2" ry="0.9" fill="#f4ebe4" opacity="1.0"/><ellipse cx="162.1" cy="129.4" rx="1.0" ry="0.8" fill="#efe2d8" opacity="1.0"/><ellipse cx="154.2" cy="147.5" rx="1.5" ry="1.2" fill="#a8a0b0" opacity="1.0"/><ellipse cx="147.9" cy="148.0" rx="1.4" ry="1.1" fill="#f4ebe4" opacity="1.0"/><ellipse cx="177.2" cy="129.6" rx="1.1" ry="0.9" fill="#efe2d8" opacity="1.0"/><ellipse cx="182.7" cy="124.7" rx="1.0" ry="0.8" fill="#cfa49a" opacity="1.0"/><ellipse cx="103.8" cy="138.1" rx="0.6" ry="0.5" fill="#cfa49a" opacity="1.0"/><ellipse cx="189.6" cy="156.7" rx="1.3" ry="1.0" fill="#6e5e5c" opacity="1.0"/><ellipse cx="127.8" cy="126.7" rx="1.1" ry="0.9" fill="#8a6e66" opacity="1.0"/><ellipse cx="33.9" cy="145.1" rx="1.1" ry="0.9" fill="#d8b0a8" opacity="1.0"/><ellipse cx="45.5" cy="125.5" rx="1.1" ry="0.9" fill="#cfa49a" opacity="1.0"/><ellipse cx="135.2" cy="148.9" rx="1.3" ry="1.0" fill="#efe2d8" opacity="1.0"/><ellipse cx="47.8" cy="152.1" rx="0.7" ry="0.6" fill="#b88a80" opacity="1.0"/><ellipse cx="74.7" cy="144.2" rx="1.2" ry="1.0" fill="#a8a0b0" opacity="1.0"/><ellipse cx="8.7" cy="142.7" rx="1.4" ry="1.1" fill="#b88a80" opacity="1.0"/><ellipse cx="184.4" cy="135.2" rx="0.9" ry="0.7" fill="#d8b0a8" opacity="1.0"/><ellipse cx="32.2" cy="128.8" rx="1.2" ry="0.9" fill="#6e5e5c" opacity="1.0"/><ellipse cx="148.7" cy="146.9" rx="1.6" ry="1.3" fill="#d8b0a8" opacity="1.0"/><ellipse cx="106.9" cy="149.2" rx="1.3" ry="1.0" fill="#cfa49a" opacity="1.0"/><ellipse cx="95.6" cy="134.0" rx="1.5" ry="1.2" fill="#f4ebe4" opacity="1.0"/><ellipse cx="109.4" cy="154.4" rx="1.4" ry="1.1" fill="#efe2d8" opacity="1.0"/><ellipse cx="141.1" cy="136.1" rx="0.7" ry="0.6" fill="#f4ebe4" opacity="1.0"/><ellipse cx="48.7" cy="137.8" rx="1.2" ry="0.9" fill="#b88a80" opacity="1.0"/><ellipse cx="28.8" cy="128.7" rx="0.9" ry="0.7" fill="#cfa49a" opacity="1.0"/><ellipse cx="13.6" cy="144.9" rx="1.2" ry="1.0" fill="#d8b0a8" opacity="1.0"/><ellipse cx="138.2" cy="132.6" rx="0.7" ry="0.6" fill="#a8a0b0" opacity="1.0"/><ellipse cx="75.5" cy="131.1" rx="1.2" ry="1.0" fill="#efe2d8" opacity="1.0"/><ellipse cx="29.5" cy="148.0" rx="0.6" ry="0.5" fill="#d8b0a8" opacity="1.0"/><ellipse cx="73.8" cy="148.6" rx="1.2" ry="1.0" fill="#8a6e66" opacity="1.0"/><ellipse cx="129.8" cy="143.7" rx="1.5" ry="1.2" fill="#d8b0a8" opacity="1.0"/><ellipse cx="26.9" cy="131.3" rx="1.3" ry="1.1" fill="#d8b0a8" opacity="1.0"/><ellipse cx="68.9" cy="154.2" rx="0.8" ry="0.7" fill="#8a6e66" opacity="1.0"/><ellipse cx="67.1" cy="143.3" rx="0.7" ry="0.6" fill="#f4ebe4" opacity="1.0"/><ellipse cx="40.3" cy="140.7" rx="0.9" ry="0.7" fill="#efe2d8" opacity="1.0"/><ellipse cx="118.7" cy="151.2" rx="0.9" ry="0.7" fill="#b88a80" opacity="1.0"/><ellipse cx="10.0" cy="152.1" rx="0.8" ry="0.6" fill="#8a6e66" opacity="1.0"/><ellipse cx="184.6" cy="146.7" rx="0.7" ry="0.6" fill="#d8b0a8" opacity="1.0"/><ellipse cx="122.3" cy="132.9" rx="0.8" ry="0.6" fill="#d8b0a8" opacity="1.0"/><ellipse cx="23.5" cy="156.6" rx="1.3" ry="1.0" fill="#d8b0a8" opacity="1.0"/><ellipse cx="127.5" cy="142.6" rx="1.4" ry="1.1" fill="#f4ebe4" opacity="1.0"/><ellipse cx="139.9" cy="149.8" rx="1.4" ry="1.1" fill="#d8b0a8" opacity="1.0"/><ellipse cx="128.0" cy="143.6" rx="0.8" ry="0.7" fill="#b88a80" opacity="1.0"/><ellipse cx="123.2" cy="148.2" rx="1.5" ry="1.2" fill="#cfa49a" opacity="1.0"/><ellipse cx="165.1" cy="158.8" rx="1.4" ry="1.1" fill="#d8b0a8" opacity="1.0"/><ellipse cx="76.9" cy="141.8" rx="1.3" ry="1.0" fill="#8a6e66" opacity="1.0"/><ellipse cx="36.0" cy="124.6" rx="1.4" ry="1.1" fill="#a8a0b0" opacity="1.0"/><ellipse cx="41.4" cy="153.6" rx="1.1" ry="0.9" fill="#6e5e5c" opacity="1.0"/><ellipse cx="175.2" cy="127.4" rx="1.3" ry="1.0" fill="#b88a80" opacity="1.0"/><ellipse cx="163.4" cy="154.0" rx="0.8" ry="0.6" fill="#8a6e66" opacity="1.0"/><ellipse cx="114.9" cy="130.8" rx="1.1" ry="0.9" fill="#6e5e5c" opacity="1.0"/><ellipse cx="38.0" cy="137.0" rx="1.5" ry="1.2" fill="#efe2d8" opacity="1.0"/><ellipse cx="65.8" cy="125.9" rx="0.6" ry="0.5" fill="#8a6e66" opacity="1.0"/><ellipse cx="172.0" cy="154.7" rx="1.5" ry="1.2" fill="#a8a0b0" opacity="1.0"/><ellipse cx="8.3" cy="142.0" rx="1.6" ry="1.3" fill="#d8b0a8" opacity="1.0"/><ellipse cx="17.8" cy="138.4" rx="1.1" ry="0.9" fill="#f4ebe4" opacity="1.0"/><ellipse cx="76.1" cy="156.6" rx="1.1" ry="0.9" fill="#b88a80" opacity="1.0"/><ellipse cx="106.6" cy="156.8" rx="1.1" ry="0.9" fill="#d8b0a8" opacity="1.0"/><ellipse cx="58.8" cy="151.0" rx="1.4" ry="1.1" fill="#f4ebe4" opacity="1.0"/><ellipse cx="12.7" cy="145.9" rx="1.4" ry="1.1" fill="#6e5e5c" opacity="1.0"/><ellipse cx="80.1" cy="160.0" rx="1.4" ry="1.1" fill="#efe2d8" opacity="1.0"/><ellipse cx="7.1" cy="143.1" rx="0.7" ry="0.6" fill="#6e5e5c" opacity="1.0"/><ellipse cx="65.0" cy="137.3" rx="1.2" ry="0.9" fill="#6e5e5c" opacity="1.0"/><ellipse cx="112.5" cy="141.5" rx="1.2" ry="1.0" fill="#a8a0b0" opacity="1.0"/><ellipse cx="64.6" cy="157.1" rx="1.1" ry="0.9" fill="#8a6e66" opacity="1.0"/><ellipse cx="175.6" cy="137.0" rx="0.7" ry="0.6" fill="#8a6e66" opacity="1.0"/><ellipse cx="113.8" cy="138.5" rx="1.5" ry="1.2" fill="#d8b0a8" opacity="1.0"/><ellipse cx="158.5" cy="159.8" rx="1.5" ry="1.2" fill="#6e5e5c" opacity="1.0"/><ellipse cx="7.3" cy="126.3" rx="1.2" ry="1.0" fill="#f4ebe4" opacity="1.0"/><ellipse cx="145.6" cy="138.3" rx="0.9" ry="0.7" fill="#efe2d8" opacity="1.0"/><ellipse cx="14.5" cy="130.1" rx="1.5" ry="1.2" fill="#f4ebe4" opacity="1.0"/><ellipse cx="79.9" cy="128.5" rx="1.2" ry="0.9" fill="#f4ebe4" opacity="1.0"/><ellipse cx="45.3" cy="127.6" rx="1.3" ry="1.1" fill="#b88a80" opacity="1.0"/><ellipse cx="142.3" cy="134.8" rx="1.5" ry="1.2" fill="#cfa49a" opacity="1.0"/><ellipse cx="158.6" cy="126.7" rx="0.9" ry="0.7" fill="#f4ebe4" opacity="1.0"/><ellipse cx="165.9" cy="128.8" rx="1.0" ry="0.8" fill="#6e5e5c" opacity="1.0"/><ellipse cx="154.2" cy="125.3" rx="1.6" ry="1.3" fill="#d8b0a8" opacity="1.0"/><ellipse cx="144.7" cy="155.9" rx="0.6" ry="0.5" fill="#d8b0a8" opacity="1.0"/><ellipse cx="35.6" cy="156.5" rx="0.8" ry="0.7" fill="#8a6e66" opacity="1.0"/><ellipse cx="187.9" cy="142.2" rx="1.3" ry="1.1" fill="#a8a0b0" opacity="1.0"/><ellipse cx="37.9" cy="126.0" rx="1.6" ry="1.2" fill="#6e5e5c" opacity="1.0"/><ellipse cx="178.9" cy="146.1" rx="1.0" ry="0.8" fill="#b88a80" opacity="1.0"/><ellipse cx="2.7" cy="141.6" rx="0.8" ry="0.6" fill="#b88a80" opacity="1.0"/><ellipse cx="1.8" cy="151.5" rx="0.7" ry="0.5" fill="#8a6e66" opacity="1.0"/><ellipse cx="6.8" cy="143.0" rx="0.8" ry="0.6" fill="#f4ebe4" opacity="1.0"/><ellipse cx="46.9" cy="142.2" rx="0.9" ry="0.7" fill="#efe2d8" opacity="1.0"/><ellipse cx="37.7" cy="130.5" rx="1.3" ry="1.0" fill="#f4ebe4" opacity="1.0"/><ellipse cx="184.4" cy="144.9" rx="1.2" ry="1.0" fill="#6e5e5c" opacity="1.0"/><ellipse cx="4.5" cy="124.7" rx="0.7" ry="0.6" fill="#d8b0a8" opacity="1.0"/><ellipse cx="159.7" cy="145.0" rx="0.9" ry="0.8" fill="#d8b0a8" opacity="1.0"/><ellipse cx="37.7" cy="142.5" rx="1.1" ry="0.9" fill="#a8a0b0" opacity="1.0"/><ellipse cx="115.8" cy="150.6" rx="1.5" ry="1.2" fill="#a8a0b0" opacity="1.0"/><ellipse cx="116.5" cy="130.0" rx="0.9" ry="0.7" fill="#f4ebe4" opacity="1.0"/><ellipse cx="108.7" cy="153.0" rx="1.2" ry="1.0" fill="#f4ebe4" opacity="1.0"/><ellipse cx="49.3" cy="124.5" rx="1.4" ry="1.1" fill="#a8a0b0" opacity="1.0"/><ellipse cx="88.3" cy="136.8" rx="1.1" ry="0.9" fill="#cfa49a" opacity="1.0"/><ellipse cx="135.0" cy="157.3" rx="1.3" ry="1.0" fill="#8a6e66" opacity="1.0"/><ellipse cx="74.1" cy="139.7" rx="1.2" ry="1.0" fill="#6e5e5c" opacity="1.0"/><ellipse cx="168.2" cy="157.0" rx="0.9" ry="0.7" fill="#b88a80" opacity="1.0"/><ellipse cx="59.1" cy="124.5" rx="0.9" ry="0.8" fill="#b88a80" opacity="1.0"/><ellipse cx="40.3" cy="126.9" rx="0.7" ry="0.6" fill="#efe2d8" opacity="1.0"/><ellipse cx="24.8" cy="148.9" rx="1.6" ry="1.2" fill="#6e5e5c" opacity="1.0"/><ellipse cx="44.9" cy="158.6" rx="1.3" ry="1.0" fill="#8a6e66" opacity="1.0"/><ellipse cx="145.8" cy="151.2" rx="1.3" ry="1.1" fill="#6e5e5c" opacity="1.0"/><ellipse cx="58.4" cy="137.6" rx="1.5" ry="1.2" fill="#a8a0b0" opacity="1.0"/><ellipse cx="156.5" cy="154.9" rx="1.5" ry="1.2" fill="#d8b0a8" opacity="1.0"/><ellipse cx="180.9" cy="145.9" rx="1.2" ry="1.0" fill="#cfa49a" opacity="1.0"/><ellipse cx="47.0" cy="138.2" rx="0.8" ry="0.6" fill="#8a6e66" opacity="1.0"/><ellipse cx="139.0" cy="134.8" rx="1.3" ry="1.1" fill="#6e5e5c" opacity="1.0"/><ellipse cx="0.3" cy="149.4" rx="0.9" ry="0.7" fill="#a8a0b0" opacity="1.0"/><ellipse cx="33.0" cy="129.3" rx="1.6" ry="1.3" fill="#d8b0a8" opacity="1.0"/><ellipse cx="106.9" cy="155.5" rx="1.1" ry="0.9" fill="#6e5e5c" opacity="1.0"/><ellipse cx="181.2" cy="128.0" rx="1.2" ry="1.0" fill="#f4ebe4" opacity="1.0"/><ellipse cx="82.9" cy="154.3" rx="1.4" ry="1.1" fill="#a8a0b0" opacity="1.0"/><ellipse cx="22.2" cy="131.9" rx="1.2" ry="1.0" fill="#f4ebe4" opacity="1.0"/><ellipse cx="84.3" cy="152.2" rx="0.7" ry="0.5" fill="#8a6e66" opacity="1.0"/><ellipse cx="25.0" cy="157.2" rx="1.6" ry="1.3" fill="#efe2d8" opacity="1.0"/><ellipse cx="42.1" cy="148.2" rx="1.0" ry="0.8" fill="#b88a80" opacity="1.0"/><ellipse cx="12.8" cy="124.3" rx="1.1" ry="0.9" fill="#6e5e5c" opacity="1.0"/><rect x="0" y="158" width="193" height="17" fill="#9fc2da"/><rect x="0" y="156" width="193" height="4" fill="#d4d6d8" opacity="0.8"/></svg>
<div style="position:absolute;left:584px;top:743px;width:172.5px;height:33.5px;background:#a6d3ae;"></div>
<div style="position:absolute;left:758px;top:743px;width:173px;height:33.5px;background:#dce14c;"></div>
<div style="position:absolute;left:933px;top:743px;width:172px;height:33.5px;background:#fce53e;"></div>
<div style="position:absolute;left:1107px;top:743px;width:172px;height:33.5px;background:#f8bb44;"></div>
<div style="position:absolute;left:277.5px;top:776.5px;width:304.5px;height:34.0px;background:#e30a15;"></div>
<div style="position:absolute;left:584px;top:776.5px;width:172.5px;height:34.0px;background:#e30a15;"></div>
<div style="position:absolute;left:758px;top:776.5px;width:173px;height:34.0px;background:#e30a15;"></div>
<div style="position:absolute;left:933px;top:776.5px;width:172px;height:34.0px;background:#e30a15;"></div>
<div style="position:absolute;left:1107px;top:776.5px;width:172px;height:34.0px;background:#e30a15;"></div>
<div style="position:absolute;left:220px;top:809.4px;width:58px;height:2.2px;background:#e30a15;"></div>
<div style="position:absolute;left:584px;top:810.5px;width:172.5px;height:34.0px;background:#a6d3ae;"></div>
<div style="position:absolute;left:758px;top:810.5px;width:173px;height:34.0px;background:#dce14c;"></div>
<div style="position:absolute;left:933px;top:810.5px;width:172px;height:34.0px;background:#fce53e;"></div>
<div style="position:absolute;left:1107px;top:810.5px;width:172px;height:34.0px;background:#f8bb44;"></div>
<div style="position:absolute;left:584px;top:844.5px;width:172.5px;height:34.700000000000045px;background:#a6d3ae;"></div>
<div style="position:absolute;left:758px;top:844.5px;width:173px;height:34.700000000000045px;background:#dce14c;"></div>
<div style="position:absolute;left:933px;top:844.5px;width:172px;height:34.700000000000045px;background:#fce53e;"></div>
<div style="position:absolute;left:1107px;top:844.5px;width:172px;height:34.700000000000045px;background:#f8bb44;"></div>
<div style="position:absolute;left:220px;top:775.6px;width:1059px;height:1.8px;background:#161616;"></div>
<div style="position:absolute;left:584px;top:810.5px;width:695px;height:0.01px;background:#000;"></div>
<div style="position:absolute;left:220px;top:843.6px;width:1059px;height:1.8px;background:#161616;"></div>
<div style="position:absolute;left:220px;top:878.3px;width:1059px;height:1.8px;background:#161616;"></div>
<div style="position:absolute;left:220px;top:880.1px;width:1059px;height:37.899999999999956px;background:#e2e2e1;"></div>
<div style="position:absolute;left:27px;top:918px;width:1252px;height:2.5px;background:#0a0a0a;"></div>
<div style="position:absolute;left:27px;top:972.2px;width:279.8px;height:47.299999999999955px;background:#0a0a0a;"></div>
<div style="position:absolute;left:27px;top:1016.5px;width:1252px;height:3px;background:#0a0a0a;"></div>
<div style="position:absolute;left:154px;top:989.6px;width:1.4px;height:20.6px;background:#e8e8e8;"></div>
<svg style="position:absolute;left:0;top:0;overflow:visible" width="1" height="1"><circle cx="221.6" cy="992.2" r="5.5" fill="none" stroke="#c6aa7a" stroke-width="1.25"/><line x1="228.9" y1="992.2" x2="232.0" y2="992.2" stroke="#c6aa7a" stroke-width="1.2" stroke-linecap="butt"/><line x1="227.9" y1="995.9" x2="230.6" y2="997.4" stroke="#c6aa7a" stroke-width="1.2" stroke-linecap="butt"/><line x1="225.2" y1="998.5" x2="226.8" y2="1001.2" stroke="#c6aa7a" stroke-width="1.2" stroke-linecap="butt"/><line x1="221.6" y1="999.5" x2="221.6" y2="1002.6" stroke="#c6aa7a" stroke-width="1.2" stroke-linecap="butt"/><line x1="217.9" y1="998.5" x2="216.4" y2="1001.2" stroke="#c6aa7a" stroke-width="1.2" stroke-linecap="butt"/><line x1="215.3" y1="995.9" x2="212.6" y2="997.4" stroke="#c6aa7a" stroke-width="1.2" stroke-linecap="butt"/><line x1="214.3" y1="992.2" x2="211.2" y2="992.2" stroke="#c6aa7a" stroke-width="1.2" stroke-linecap="butt"/><line x1="215.3" y1="988.6" x2="212.6" y2="987.0" stroke="#c6aa7a" stroke-width="1.2" stroke-linecap="butt"/><line x1="217.9" y1="985.9" x2="216.4" y2="983.2" stroke="#c6aa7a" stroke-width="1.2" stroke-linecap="butt"/><line x1="221.6" y1="984.9" x2="221.6" y2="981.8" stroke="#c6aa7a" stroke-width="1.2" stroke-linecap="butt"/><line x1="225.2" y1="985.9" x2="226.8" y2="983.2" stroke="#c6aa7a" stroke-width="1.2" stroke-linecap="butt"/><line x1="227.9" y1="988.6" x2="230.6" y2="987.0" stroke="#c6aa7a" stroke-width="1.2" stroke-linecap="butt"/><circle cx="242.3" cy="992.2" r="5.5" fill="none" stroke="#c6aa7a" stroke-width="1.25"/><line x1="249.6" y1="992.2" x2="252.7" y2="992.2" stroke="#c6aa7a" stroke-width="1.2" stroke-linecap="butt"/><line x1="248.6" y1="995.9" x2="251.3" y2="997.4" stroke="#c6aa7a" stroke-width="1.2" stroke-linecap="butt"/><line x1="245.9" y1="998.5" x2="247.5" y2="1001.2" stroke="#c6aa7a" stroke-width="1.2" stroke-linecap="butt"/><line x1="242.3" y1="999.5" x2="242.3" y2="1002.6" stroke="#c6aa7a" stroke-width="1.2" stroke-linecap="butt"/><line x1="238.6" y1="998.5" x2="237.1" y2="1001.2" stroke="#c6aa7a" stroke-width="1.2" stroke-linecap="butt"/><line x1="236.0" y1="995.9" x2="233.3" y2="997.4" stroke="#c6aa7a" stroke-width="1.2" stroke-linecap="butt"/><line x1="235.0" y1="992.2" x2="231.9" y2="992.2" stroke="#c6aa7a" stroke-width="1.2" stroke-linecap="butt"/><line x1="236.0" y1="988.6" x2="233.3" y2="987.0" stroke="#c6aa7a" stroke-width="1.2" stroke-linecap="butt"/><line x1="238.6" y1="985.9" x2="237.1" y2="983.2" stroke="#c6aa7a" stroke-width="1.2" stroke-linecap="butt"/><line x1="242.3" y1="984.9" x2="242.3" y2="981.8" stroke="#c6aa7a" stroke-width="1.2" stroke-linecap="butt"/><line x1="245.9" y1="985.9" x2="247.5" y2="983.2" stroke="#c6aa7a" stroke-width="1.2" stroke-linecap="butt"/><line x1="248.6" y1="988.6" x2="251.3" y2="987.0" stroke="#c6aa7a" stroke-width="1.2" stroke-linecap="butt"/><circle cx="263.0" cy="992.2" r="5.5" fill="none" stroke="#c6aa7a" stroke-width="1.25"/><line x1="270.3" y1="992.2" x2="273.4" y2="992.2" stroke="#c6aa7a" stroke-width="1.2" stroke-linecap="butt"/><line x1="269.3" y1="995.9" x2="272.0" y2="997.4" stroke="#c6aa7a" stroke-width="1.2" stroke-linecap="butt"/><line x1="266.6" y1="998.5" x2="268.2" y2="1001.2" stroke="#c6aa7a" stroke-width="1.2" stroke-linecap="butt"/><line x1="263.0" y1="999.5" x2="263.0" y2="1002.6" stroke="#c6aa7a" stroke-width="1.2" stroke-linecap="butt"/><line x1="259.4" y1="998.5" x2="257.8" y2="1001.2" stroke="#c6aa7a" stroke-width="1.2" stroke-linecap="butt"/><line x1="256.7" y1="995.9" x2="254.0" y2="997.4" stroke="#c6aa7a" stroke-width="1.2" stroke-linecap="butt"/><line x1="255.7" y1="992.2" x2="252.6" y2="992.2" stroke="#c6aa7a" stroke-width="1.2" stroke-linecap="butt"/><line x1="256.7" y1="988.6" x2="254.0" y2="987.0" stroke="#c6aa7a" stroke-width="1.2" stroke-linecap="butt"/><line x1="259.4" y1="985.9" x2="257.8" y2="983.2" stroke="#c6aa7a" stroke-width="1.2" stroke-linecap="butt"/><line x1="263.0" y1="984.9" x2="263.0" y2="981.8" stroke="#c6aa7a" stroke-width="1.2" stroke-linecap="butt"/><line x1="266.6" y1="985.9" x2="268.2" y2="983.2" stroke="#c6aa7a" stroke-width="1.2" stroke-linecap="butt"/><line x1="269.3" y1="988.6" x2="272.0" y2="987.0" stroke="#c6aa7a" stroke-width="1.2" stroke-linecap="butt"/><circle cx="283.7" cy="992.2" r="5.5" fill="none" stroke="#c6aa7a" stroke-width="1.25"/><line x1="291.0" y1="992.2" x2="294.1" y2="992.2" stroke="#c6aa7a" stroke-width="1.2" stroke-linecap="butt"/><line x1="290.0" y1="995.9" x2="292.7" y2="997.4" stroke="#c6aa7a" stroke-width="1.2" stroke-linecap="butt"/><line x1="287.3" y1="998.5" x2="288.9" y2="1001.2" stroke="#c6aa7a" stroke-width="1.2" stroke-linecap="butt"/><line x1="283.7" y1="999.5" x2="283.7" y2="1002.6" stroke="#c6aa7a" stroke-width="1.2" stroke-linecap="butt"/><line x1="280.1" y1="998.5" x2="278.5" y2="1001.2" stroke="#c6aa7a" stroke-width="1.2" stroke-linecap="butt"/><line x1="277.4" y1="995.9" x2="274.7" y2="997.4" stroke="#c6aa7a" stroke-width="1.2" stroke-linecap="butt"/><line x1="276.4" y1="992.2" x2="273.3" y2="992.2" stroke="#c6aa7a" stroke-width="1.2" stroke-linecap="butt"/><line x1="277.4" y1="988.6" x2="274.7" y2="987.0" stroke="#c6aa7a" stroke-width="1.2" stroke-linecap="butt"/><line x1="280.1" y1="985.9" x2="278.5" y2="983.2" stroke="#c6aa7a" stroke-width="1.2" stroke-linecap="butt"/><line x1="283.7" y1="984.9" x2="283.7" y2="981.8" stroke="#c6aa7a" stroke-width="1.2" stroke-linecap="butt"/><line x1="287.3" y1="985.9" x2="288.9" y2="983.2" stroke="#c6aa7a" stroke-width="1.2" stroke-linecap="butt"/><line x1="290.0" y1="988.6" x2="292.7" y2="987.0" stroke="#c6aa7a" stroke-width="1.2" stroke-linecap="butt"/></svg>
<svg style="position:absolute;left:27px;top:1019.5px" width="193" height="244.9000000000001" viewBox="0 0 193 244.9000000000001" preserveAspectRatio="none"><rect width="193" height="244.9000000000001" fill="#22a8e8"/><path d="M0 42 Q80 22 193 22 L193 145 L0 145 Z" fill="#e2e2dc"/><path d="M0 45 Q80 27 193 27 L193 31 Q80 31 0 49 Z" fill="#f6f6f2"/><rect x="27" y="44" width="13" height="6" fill="#8494a6"/><rect x="27" y="62" width="13" height="6" fill="#8494a6"/><rect x="27" y="80" width="13" height="7" fill="#8494a6"/><rect x="27" y="98" width="13" height="8" fill="#8494a6"/><rect x="27" y="114" width="13" height="6" fill="#8494a6"/><rect x="42" y="44" width="12" height="6" fill="#8494a6"/><rect x="42" y="62" width="12" height="6" fill="#8494a6"/><rect x="42" y="80" width="12" height="7" fill="#8494a6"/><rect x="42" y="98" width="12" height="8" fill="#8494a6"/><rect x="42" y="114" width="12" height="6" fill="#8494a6"/><rect x="58" y="44" width="12" height="6" fill="#8494a6"/><rect x="58" y="62" width="12" height="6" fill="#8494a6"/><rect x="58" y="80" width="12" height="7" fill="#8494a6"/><rect x="58" y="98" width="12" height="8" fill="#8494a6"/><rect x="58" y="114" width="12" height="6" fill="#8494a6"/><rect x="76" y="44" width="12" height="6" fill="#8494a6"/><rect x="76" y="62" width="12" height="6" fill="#8494a6"/><rect x="76" y="80" width="12" height="7" fill="#8494a6"/><rect x="76" y="98" width="12" height="8" fill="#8494a6"/><rect x="76" y="114" width="12" height="6" fill="#8494a6"/><rect x="93" y="44" width="13" height="6" fill="#8494a6"/><rect x="93" y="62" width="13" height="6" fill="#8494a6"/><rect x="93" y="80" width="13" height="7" fill="#8494a6"/><rect x="93" y="98" width="13" height="8" fill="#8494a6"/><rect x="93" y="114" width="13" height="6" fill="#8494a6"/><rect x="111" y="44" width="12" height="6" fill="#8494a6"/><rect x="111" y="62" width="12" height="6" fill="#8494a6"/><rect x="111" y="80" width="12" height="7" fill="#8494a6"/><rect x="111" y="98" width="12" height="8" fill="#8494a6"/><rect x="111" y="114" width="12" height="6" fill="#8494a6"/><rect x="131" y="44" width="11" height="6" fill="#8494a6"/><rect x="131" y="62" width="11" height="6" fill="#8494a6"/><rect x="131" y="80" width="11" height="7" fill="#8494a6"/><rect x="131" y="98" width="11" height="8" fill="#8494a6"/><rect x="131" y="114" width="11" height="6" fill="#8494a6"/><rect x="149" y="44" width="13" height="6" fill="#8494a6"/><rect x="149" y="62" width="13" height="6" fill="#8494a6"/><rect x="149" y="80" width="13" height="7" fill="#8494a6"/><rect x="149" y="98" width="13" height="8" fill="#8494a6"/><rect x="149" y="114" width="13" height="6" fill="#8494a6"/><rect x="170" y="44" width="13" height="6" fill="#8494a6"/><rect x="170" y="62" width="13" height="6" fill="#8494a6"/><rect x="170" y="80" width="13" height="7" fill="#8494a6"/><rect x="170" y="98" width="13" height="8" fill="#8494a6"/><rect x="170" y="114" width="13" height="6" fill="#8494a6"/><rect x="0" y="50" width="193" height="3.5" fill="#f4f4f0"/><rect x="0" y="53.5" width="193" height="2" fill="#c4c6c4"/><rect x="0" y="68" width="193" height="3.5" fill="#f4f4f0"/><rect x="0" y="71.5" width="193" height="2" fill="#c4c6c4"/><rect x="0" y="87" width="193" height="3.5" fill="#f4f4f0"/><rect x="0" y="90.5" width="193" height="2" fill="#c4c6c4"/><rect x="0" y="106" width="193" height="3.5" fill="#f4f4f0"/><rect x="0" y="109.5" width="193" height="2" fill="#c4c6c4"/><rect x="0" y="120" width="193" height="3.5" fill="#f4f4f0"/><rect x="0" y="123.5" width="193" height="2" fill="#c4c6c4"/><rect x="0" y="44" width="6" height="100" fill="#c8c8c2"/><rect x="128" y="15" width="65" height="9" fill="#4a2a40"/><rect x="150" y="17" width="38" height="5" fill="#a88898"/><rect x="16" y="50" width="3" height="78" fill="#6a6656"/><ellipse cx="7.1" cy="51.7" rx="12.1" ry="2.9" transform="rotate(-173 7.1 51.7)" fill="#24461f"/><ellipse cx="7.4" cy="50.5" rx="12.1" ry="2.9" transform="rotate(-164 7.4 50.5)" fill="#3e6b38"/><ellipse cx="9.5" cy="47.7" rx="12.1" ry="2.9" transform="rotate(-140 9.5 47.7)" fill="#24461f"/><ellipse cx="10.8" cy="46.8" rx="12.1" ry="2.9" transform="rotate(-131 10.8 46.8)" fill="#3e6b38"/><ellipse cx="14.7" cy="45.3" rx="12.1" ry="2.9" transform="rotate(-108 14.7 45.3)" fill="#24461f"/><ellipse cx="16.4" cy="45.0" rx="12.1" ry="2.9" transform="rotate(-98 16.4 45.0)" fill="#3e6b38"/><ellipse cx="20.9" cy="45.2" rx="12.1" ry="2.9" transform="rotate(-75 20.9 45.2)" fill="#24461f"/><ellipse cx="22.6" cy="45.6" rx="12.1" ry="2.9" transform="rotate(-65 22.6 45.6)" fill="#3e6b38"/><ellipse cx="26.1" cy="47.5" rx="12.1" ry="2.9" transform="rotate(-42 26.1 47.5)" fill="#24461f"/><ellipse cx="27.3" cy="48.5" rx="12.1" ry="2.9" transform="rotate(-33 27.3 48.5)" fill="#3e6b38"/><ellipse cx="28.8" cy="51.4" rx="12.1" ry="2.9" transform="rotate(-9 28.8 51.4)" fill="#24461f"/><ellipse cx="29.0" cy="52.6" rx="12.1" ry="2.9" transform="rotate(-0 29.0 52.6)" fill="#3e6b38"/><ellipse cx="27.5" cy="54.3" rx="9.9" ry="2.6" transform="rotate(17 27.5 54.3)" fill="#24461f"/><ellipse cx="24.2" cy="58.0" rx="9.9" ry="2.6" transform="rotate(52 24.2 58.0)" fill="#24461f"/><ellipse cx="18.7" cy="59.7" rx="9.9" ry="2.6" transform="rotate(86 18.7 59.7)" fill="#24461f"/><ellipse cx="13.0" cy="58.6" rx="9.9" ry="2.6" transform="rotate(120 13.0 58.6)" fill="#24461f"/><ellipse cx="9.0" cy="55.3" rx="9.9" ry="2.6" transform="rotate(155 9.0 55.3)" fill="#24461f"/><rect x="83" y="72" width="3" height="55" fill="#6a6656"/><ellipse cx="75.1" cy="71.4" rx="9.9" ry="2.3" transform="rotate(-173 75.1 71.4)" fill="#2e5428"/><ellipse cx="75.4" cy="70.4" rx="9.9" ry="2.3" transform="rotate(-164 75.4 70.4)" fill="#4a7a40"/><ellipse cx="77.1" cy="68.1" rx="9.9" ry="2.3" transform="rotate(-140 77.1 68.1)" fill="#2e5428"/><ellipse cx="78.1" cy="67.4" rx="9.9" ry="2.3" transform="rotate(-131 78.1 67.4)" fill="#4a7a40"/><ellipse cx="81.3" cy="66.2" rx="9.9" ry="2.3" transform="rotate(-108 81.3 66.2)" fill="#2e5428"/><ellipse cx="82.7" cy="65.9" rx="9.9" ry="2.3" transform="rotate(-98 82.7 65.9)" fill="#4a7a40"/><ellipse cx="86.3" cy="66.1" rx="9.9" ry="2.3" transform="rotate(-75 86.3 66.1)" fill="#2e5428"/><ellipse cx="87.7" cy="66.4" rx="9.9" ry="2.3" transform="rotate(-65 87.7 66.4)" fill="#4a7a40"/><ellipse cx="90.7" cy="67.9" rx="9.9" ry="2.3" transform="rotate(-42 90.7 67.9)" fill="#2e5428"/><ellipse cx="91.6" cy="68.8" rx="9.9" ry="2.3" transform="rotate(-33 91.6 68.8)" fill="#4a7a40"/><ellipse cx="92.9" cy="71.1" rx="9.9" ry="2.3" transform="rotate(-9 92.9 71.1)" fill="#2e5428"/><ellipse cx="93.0" cy="72.2" rx="9.9" ry="2.3" transform="rotate(-0 93.0 72.2)" fill="#4a7a40"/><ellipse cx="91.7" cy="73.9" rx="8.1" ry="2.2" transform="rotate(17 91.7 73.9)" fill="#2e5428"/><ellipse cx="89.0" cy="76.9" rx="8.1" ry="2.2" transform="rotate(52 89.0 76.9)" fill="#2e5428"/><ellipse cx="84.6" cy="78.3" rx="8.1" ry="2.2" transform="rotate(86 84.6 78.3)" fill="#2e5428"/><ellipse cx="79.9" cy="77.4" rx="8.1" ry="2.2" transform="rotate(120 79.9 77.4)" fill="#2e5428"/><ellipse cx="76.7" cy="74.7" rx="8.1" ry="2.2" transform="rotate(155 76.7 74.7)" fill="#2e5428"/><ellipse cx="112" cy="118" rx="16" ry="20" fill="#4f7e44"/><ellipse cx="184.0" cy="48.9" rx="6.6" ry="1.6" transform="rotate(-173 184.0 48.9)" fill="#2e5428"/><ellipse cx="184.2" cy="48.3" rx="6.6" ry="1.6" transform="rotate(-164 184.2 48.3)" fill="#4a7a40"/><ellipse cx="185.4" cy="46.8" rx="6.6" ry="1.6" transform="rotate(-140 185.4 46.8)" fill="#2e5428"/><ellipse cx="186.1" cy="46.3" rx="6.6" ry="1.6" transform="rotate(-131 186.1 46.3)" fill="#4a7a40"/><ellipse cx="188.2" cy="45.4" rx="6.6" ry="1.6" transform="rotate(-108 188.2 45.4)" fill="#2e5428"/><ellipse cx="189.1" cy="45.3" rx="6.6" ry="1.6" transform="rotate(-98 189.1 45.3)" fill="#4a7a40"/><ellipse cx="191.6" cy="45.4" rx="6.6" ry="1.6" transform="rotate(-75 191.6 45.4)" fill="#2e5428"/><ellipse cx="192.5" cy="45.6" rx="6.6" ry="1.6" transform="rotate(-65 192.5 45.6)" fill="#4a7a40"/><ellipse cx="194.4" cy="46.6" rx="6.6" ry="1.6" transform="rotate(-42 194.4 46.6)" fill="#2e5428"/><ellipse cx="195.0" cy="47.2" rx="6.6" ry="1.6" transform="rotate(-33 195.0 47.2)" fill="#4a7a40"/><ellipse cx="195.9" cy="48.7" rx="6.6" ry="1.6" transform="rotate(-9 195.9 48.7)" fill="#2e5428"/><ellipse cx="196.0" cy="49.4" rx="6.6" ry="1.6" transform="rotate(-0 196.0 49.4)" fill="#4a7a40"/><ellipse cx="195.2" cy="51.2" rx="5.4" ry="1.4" transform="rotate(17 195.2 51.2)" fill="#2e5428"/><ellipse cx="193.4" cy="53.3" rx="5.4" ry="1.4" transform="rotate(52 193.4 53.3)" fill="#2e5428"/><ellipse cx="190.4" cy="54.2" rx="5.4" ry="1.4" transform="rotate(86 190.4 54.2)" fill="#2e5428"/><ellipse cx="187.3" cy="53.6" rx="5.4" ry="1.4" transform="rotate(120 187.3 53.6)" fill="#2e5428"/><ellipse cx="185.1" cy="51.8" rx="5.4" ry="1.4" transform="rotate(155 185.1 51.8)" fill="#2e5428"/><rect x="0" y="122" width="193" height="20" fill="#7a9468"/><ellipse cx="184.5" cy="141.0" rx="1.6" ry="1.3" fill="#3f6a36" opacity="1.0"/><ellipse cx="69.7" cy="125.4" rx="3.1" ry="2.5" fill="#e0e0d8" opacity="1.0"/><ellipse cx="48.6" cy="126.2" rx="1.6" ry="1.3" fill="#8aa870" opacity="1.0"/><ellipse cx="192.9" cy="134.8" rx="3.1" ry="2.5" fill="#d8c0b0" opacity="1.0"/><ellipse cx="183.2" cy="132.9" rx="2.4" ry="1.9" fill="#e0e0d8" opacity="1.0"/><ellipse cx="173.9" cy="139.4" rx="2.2" ry="1.8" fill="#e0e0d8" opacity="1.0"/><ellipse cx="175.2" cy="130.5" rx="3.3" ry="2.6" fill="#8aa870" opacity="1.0"/><ellipse cx="108.2" cy="126.7" rx="1.5" ry="1.2" fill="#e0e0d8" opacity="1.0"/><ellipse cx="33.5" cy="132.2" rx="2.2" ry="1.8" fill="#d8c0b0" opacity="1.0"/><ellipse cx="130.2" cy="125.6" rx="3.3" ry="2.6" fill="#5a7a48" opacity="1.0"/><ellipse cx="141.7" cy="140.1" rx="3.0" ry="2.4" fill="#d8c0b0" opacity="1.0"/><ellipse cx="68.3" cy="141.6" rx="3.4" ry="2.7" fill="#8aa870" opacity="1.0"/><ellipse cx="184.3" cy="130.0" rx="3.0" ry="2.4" fill="#d8c0b0" opacity="1.0"/><ellipse cx="48.2" cy="127.6" rx="2.5" ry="2.0" fill="#d8c0b0" opacity="1.0"/><ellipse cx="160.5" cy="129.1" rx="3.3" ry="2.6" fill="#5a7a48" opacity="1.0"/><ellipse cx="67.7" cy="136.5" rx="2.6" ry="2.1" fill="#5a7a48" opacity="1.0"/><ellipse cx="93.9" cy="126.4" rx="2.1" ry="1.7" fill="#8aa870" opacity="1.0"/><ellipse cx="169.2" cy="134.3" rx="3.0" ry="2.4" fill="#5a7a48" opacity="1.0"/><ellipse cx="59.7" cy="141.1" rx="2.9" ry="2.3" fill="#d8c0b0" opacity="1.0"/><ellipse cx="108.5" cy="132.1" rx="2.7" ry="2.2" fill="#5a7a48" opacity="1.0"/><ellipse cx="60.2" cy="126.2" rx="2.5" ry="2.0" fill="#d8c0b0" opacity="1.0"/><ellipse cx="170.2" cy="137.7" rx="2.2" ry="1.7" fill="#3f6a36" opacity="1.0"/><ellipse cx="175.2" cy="125.8" rx="3.0" ry="2.4" fill="#3f6a36" opacity="1.0"/><ellipse cx="110.9" cy="123.0" rx="2.7" ry="2.1" fill="#3f6a36" opacity="1.0"/><ellipse cx="145.6" cy="124.7" rx="2.0" ry="1.6" fill="#8aa870" opacity="1.0"/><ellipse cx="182.1" cy="123.2" rx="3.3" ry="2.6" fill="#3f6a36" opacity="1.0"/><ellipse cx="11.0" cy="129.2" rx="2.0" ry="1.6" fill="#3f6a36" opacity="1.0"/><ellipse cx="16.0" cy="141.1" rx="1.6" ry="1.2" fill="#3f6a36" opacity="1.0"/><ellipse cx="72.0" cy="124.6" rx="3.4" ry="2.7" fill="#8aa870" opacity="1.0"/><ellipse cx="101.0" cy="122.0" rx="2.7" ry="2.1" fill="#8aa870" opacity="1.0"/><ellipse cx="29.2" cy="122.7" rx="2.2" ry="1.8" fill="#d8c0b0" opacity="1.0"/><ellipse cx="121.2" cy="137.0" rx="2.1" ry="1.7" fill="#5a7a48" opacity="1.0"/><ellipse cx="5.9" cy="131.0" rx="3.0" ry="2.4" fill="#3f6a36" opacity="1.0"/><ellipse cx="174.1" cy="137.1" rx="3.2" ry="2.6" fill="#8aa870" opacity="1.0"/><ellipse cx="91.2" cy="126.5" rx="2.8" ry="2.3" fill="#e0e0d8" opacity="1.0"/><ellipse cx="161.8" cy="122.5" rx="3.1" ry="2.5" fill="#8aa870" opacity="1.0"/><ellipse cx="100.0" cy="137.6" rx="2.5" ry="2.0" fill="#e0e0d8" opacity="1.0"/><ellipse cx="27.8" cy="141.2" rx="2.0" ry="1.6" fill="#d8c0b0" opacity="1.0"/><ellipse cx="187.3" cy="135.1" rx="2.9" ry="2.3" fill="#8aa870" opacity="1.0"/><ellipse cx="129.4" cy="127.1" rx="1.8" ry="1.4" fill="#8aa870" opacity="1.0"/><ellipse cx="18.5" cy="134.7" rx="2.5" ry="2.0" fill="#3f6a36" opacity="1.0"/><ellipse cx="191.9" cy="126.6" rx="2.4" ry="1.9" fill="#e0e0d8" opacity="1.0"/><ellipse cx="15.5" cy="126.6" rx="3.1" ry="2.5" fill="#d8c0b0" opacity="1.0"/><ellipse cx="136.9" cy="127.1" rx="2.3" ry="1.9" fill="#d8c0b0" opacity="1.0"/><ellipse cx="144.9" cy="125.0" rx="2.3" ry="1.8" fill="#8aa870" opacity="1.0"/><ellipse cx="21.5" cy="136.5" rx="2.0" ry="1.6" fill="#3f6a36" opacity="1.0"/><ellipse cx="3.8" cy="137.0" rx="1.7" ry="1.4" fill="#3f6a36" opacity="1.0"/><ellipse cx="100.5" cy="131.3" rx="2.1" ry="1.7" fill="#5a7a48" opacity="1.0"/><ellipse cx="41.0" cy="140.1" rx="3.4" ry="2.7" fill="#5a7a48" opacity="1.0"/><ellipse cx="82.1" cy="122.4" rx="2.7" ry="2.1" fill="#5a7a48" opacity="1.0"/><ellipse cx="179.3" cy="133.6" rx="3.3" ry="2.7" fill="#5a7a48" opacity="1.0"/><ellipse cx="70.7" cy="132.4" rx="3.3" ry="2.7" fill="#d8c0b0" opacity="1.0"/><ellipse cx="70.7" cy="135.8" rx="3.4" ry="2.7" fill="#e0e0d8" opacity="1.0"/><ellipse cx="3.7" cy="135.7" rx="1.7" ry="1.4" fill="#e0e0d8" opacity="1.0"/><ellipse cx="38.3" cy="137.5" rx="3.2" ry="2.5" fill="#5a7a48" opacity="1.0"/><ellipse cx="11.6" cy="134.7" rx="2.4" ry="1.9" fill="#d8c0b0" opacity="1.0"/><ellipse cx="118.4" cy="122.1" rx="1.5" ry="1.2" fill="#e0e0d8" opacity="1.0"/><ellipse cx="180.5" cy="123.5" rx="3.0" ry="2.4" fill="#8aa870" opacity="1.0"/><ellipse cx="22.3" cy="129.5" rx="2.9" ry="2.3" fill="#8aa870" opacity="1.0"/><ellipse cx="145.4" cy="129.9" rx="1.7" ry="1.4" fill="#3f6a36" opacity="1.0"/><ellipse cx="23.7" cy="134.3" rx="2.2" ry="1.7" fill="#5a7a48" opacity="1.0"/><ellipse cx="185.2" cy="135.9" rx="1.5" ry="1.2" fill="#5a7a48" opacity="1.0"/><ellipse cx="150.0" cy="136.5" rx="2.5" ry="2.0" fill="#e0e0d8" opacity="1.0"/><ellipse cx="185.2" cy="124.8" rx="2.2" ry="1.8" fill="#5a7a48" opacity="1.0"/><ellipse cx="101.6" cy="131.6" rx="3.4" ry="2.7" fill="#5a7a48" opacity="1.0"/><ellipse cx="179.9" cy="138.7" rx="2.1" ry="1.7" fill="#8aa870" opacity="1.0"/><ellipse cx="30.2" cy="133.9" rx="2.6" ry="2.1" fill="#3f6a36" opacity="1.0"/><ellipse cx="113.1" cy="138.4" rx="1.7" ry="1.4" fill="#e0e0d8" opacity="1.0"/><ellipse cx="34.0" cy="132.9" rx="3.1" ry="2.5" fill="#3f6a36" opacity="1.0"/><ellipse cx="154.1" cy="140.2" rx="2.9" ry="2.3" fill="#3f6a36" opacity="1.0"/><rect x="0" y="140" width="193" height="12" fill="#dcd4c6"/><path d="M0 158 Q40 156 92 164 Q96 152 125 150 L193 149 L193 244.9000000000001 L0 244.9000000000001 Z" fill="#44a8e8"/><path d="M16 160 Q45 150 88 152 L92 162 Q60 168 20 167 Z" fill="#ece8e0"/><rect x="40" y="146" width="30" height="9" fill="#e6e0d6"/><ellipse cx="50.2" cy="176.1" rx="6.5" ry="1.8" fill="#8ad0f6" opacity="0.8"/><ellipse cx="96.4" cy="200.6" rx="5.2" ry="1.8" fill="#56b4ee" opacity="0.8"/><ellipse cx="94.8" cy="173.6" rx="11.9" ry="1.8" fill="#8ad0f6" opacity="0.8"/><ellipse cx="22.0" cy="179.4" rx="14.4" ry="1.8" fill="#3696dc" opacity="0.8"/><ellipse cx="192.0" cy="197.9" rx="12.6" ry="1.8" fill="#3696dc" opacity="0.8"/><ellipse cx="135.9" cy="202.8" rx="12.9" ry="1.8" fill="#56b4ee" opacity="0.8"/><ellipse cx="26.6" cy="235.6" rx="9.6" ry="1.8" fill="#56b4ee" opacity="0.8"/><ellipse cx="41.5" cy="187.6" rx="12.0" ry="1.8" fill="#56b4ee" opacity="0.8"/><ellipse cx="85.9" cy="221.7" rx="14.6" ry="1.8" fill="#8ad0f6" opacity="0.8"/><ellipse cx="175.1" cy="222.3" rx="4.9" ry="1.8" fill="#3696dc" opacity="0.8"/><ellipse cx="28.1" cy="208.0" rx="13.0" ry="1.8" fill="#56b4ee" opacity="0.8"/><ellipse cx="118.9" cy="243.1" rx="4.1" ry="1.8" fill="#56b4ee" opacity="0.8"/><ellipse cx="174.1" cy="207.3" rx="9.1" ry="1.8" fill="#3696dc" opacity="0.8"/><ellipse cx="-6.5" cy="230.4" rx="14.4" ry="1.8" fill="#56b4ee" opacity="0.8"/><ellipse cx="169.6" cy="237.4" rx="5.1" ry="1.8" fill="#3696dc" opacity="0.8"/><ellipse cx="177.0" cy="187.7" rx="10.4" ry="1.8" fill="#56b4ee" opacity="0.8"/><ellipse cx="18.0" cy="229.5" rx="10.7" ry="1.8" fill="#56b4ee" opacity="0.8"/><ellipse cx="94.2" cy="204.0" rx="5.9" ry="1.8" fill="#3696dc" opacity="0.8"/><ellipse cx="144.3" cy="242.7" rx="7.9" ry="1.8" fill="#56b4ee" opacity="0.8"/><ellipse cx="125.8" cy="208.1" rx="4.7" ry="1.8" fill="#56b4ee" opacity="0.8"/><ellipse cx="177.2" cy="239.0" rx="9.1" ry="1.8" fill="#56b4ee" opacity="0.8"/><ellipse cx="6.2" cy="168.2" rx="12.3" ry="1.8" fill="#3696dc" opacity="0.8"/><ellipse cx="180.5" cy="225.9" rx="15.0" ry="1.8" fill="#8ad0f6" opacity="0.8"/><ellipse cx="149.8" cy="219.3" rx="13.5" ry="1.8" fill="#3696dc" opacity="0.8"/><ellipse cx="91.4" cy="170.3" rx="14.9" ry="1.8" fill="#8ad0f6" opacity="0.8"/><ellipse cx="47.4" cy="178.3" rx="9.1" ry="1.8" fill="#70c2f2" opacity="0.8"/><ellipse cx="99.2" cy="194.9" rx="8.2" ry="1.8" fill="#56b4ee" opacity="0.8"/><ellipse cx="127.3" cy="182.1" rx="9.5" ry="1.8" fill="#3696dc" opacity="0.8"/><ellipse cx="99.3" cy="204.2" rx="14.1" ry="1.8" fill="#70c2f2" opacity="0.8"/><ellipse cx="53.6" cy="186.4" rx="7.7" ry="1.8" fill="#8ad0f6" opacity="0.8"/><ellipse cx="69.8" cy="217.6" rx="13.2" ry="1.8" fill="#70c2f2" opacity="0.8"/><ellipse cx="32.8" cy="206.1" rx="10.6" ry="1.8" fill="#3696dc" opacity="0.8"/><ellipse cx="117.7" cy="229.0" rx="7.4" ry="1.8" fill="#3696dc" opacity="0.8"/><ellipse cx="103.9" cy="240.9" rx="9.7" ry="1.8" fill="#70c2f2" opacity="0.8"/><ellipse cx="12.7" cy="241.6" rx="13.0" ry="1.8" fill="#56b4ee" opacity="0.8"/><ellipse cx="33.4" cy="233.6" rx="7.9" ry="1.8" fill="#8ad0f6" opacity="0.8"/><ellipse cx="23.8" cy="202.1" rx="8.9" ry="1.8" fill="#8ad0f6" opacity="0.8"/><ellipse cx="17.2" cy="202.4" rx="11.9" ry="1.8" fill="#3696dc" opacity="0.8"/><ellipse cx="56.2" cy="239.3" rx="5.1" ry="1.8" fill="#3696dc" opacity="0.8"/><ellipse cx="142.7" cy="203.0" rx="13.3" ry="1.8" fill="#3696dc" opacity="0.8"/><ellipse cx="151.4" cy="194.1" rx="6.6" ry="1.8" fill="#56b4ee" opacity="0.8"/><ellipse cx="157.2" cy="197.6" rx="7.8" ry="1.8" fill="#8ad0f6" opacity="0.8"/><ellipse cx="142.5" cy="224.6" rx="13.6" ry="1.8" fill="#8ad0f6" opacity="0.8"/><ellipse cx="119.3" cy="208.0" rx="4.8" ry="1.8" fill="#8ad0f6" opacity="0.8"/><ellipse cx="25.5" cy="197.2" rx="14.5" ry="1.8" fill="#8ad0f6" opacity="0.8"/><ellipse cx="7.8" cy="200.8" rx="14.2" ry="1.8" fill="#8ad0f6" opacity="0.8"/><ellipse cx="15.8" cy="241.8" rx="4.3" ry="1.8" fill="#8ad0f6" opacity="0.8"/><ellipse cx="5.6" cy="179.2" rx="13.7" ry="1.8" fill="#56b4ee" opacity="0.8"/><ellipse cx="55.0" cy="166.7" rx="13.1" ry="1.8" fill="#56b4ee" opacity="0.8"/><ellipse cx="85.2" cy="208.7" rx="13.9" ry="1.8" fill="#8ad0f6" opacity="0.8"/><ellipse cx="178.0" cy="191.0" rx="5.0" ry="1.8" fill="#3696dc" opacity="0.8"/><ellipse cx="57.3" cy="227.8" rx="5.6" ry="1.8" fill="#8ad0f6" opacity="0.8"/><ellipse cx="59.6" cy="185.7" rx="6.7" ry="1.8" fill="#3696dc" opacity="0.8"/><ellipse cx="-0.5" cy="223.4" rx="14.3" ry="1.8" fill="#70c2f2" opacity="0.8"/><ellipse cx="26.0" cy="234.0" rx="4.7" ry="1.8" fill="#56b4ee" opacity="0.8"/><ellipse cx="17.0" cy="227.4" rx="9.8" ry="1.8" fill="#70c2f2" opacity="0.8"/><ellipse cx="145.9" cy="192.7" rx="10.7" ry="1.8" fill="#56b4ee" opacity="0.8"/><ellipse cx="1.0" cy="184.0" rx="12.4" ry="1.8" fill="#56b4ee" opacity="0.8"/><ellipse cx="54.3" cy="214.9" rx="13.2" ry="1.8" fill="#70c2f2" opacity="0.8"/><ellipse cx="99.3" cy="212.4" rx="14.8" ry="1.8" fill="#56b4ee" opacity="0.8"/><ellipse cx="140" cy="174" rx="5" ry="7" fill="#e8d8d0"/><ellipse cx="92" cy="172" rx="3" ry="4" fill="#e0d0c8"/><ellipse cx="22" cy="176" rx="4" ry="4" fill="#e0d0c8"/></svg>
<div style="position:absolute;left:584px;top:1019.5px;width:172.5px;height:33.5px;background:#a6d3ae;"></div>
<div style="position:absolute;left:758px;top:1019.5px;width:173px;height:33.5px;background:#dce14c;"></div>
<div style="position:absolute;left:933px;top:1019.5px;width:172px;height:33.5px;background:#fce53e;"></div>
<div style="position:absolute;left:1107px;top:1019.5px;width:172px;height:33.5px;background:#f8bb44;"></div>
<div style="position:absolute;left:277.5px;top:1053px;width:304.5px;height:34px;background:#e30a15;"></div>
<div style="position:absolute;left:584px;top:1053px;width:172.5px;height:34px;background:#e30a15;"></div>
<div style="position:absolute;left:758px;top:1053px;width:173px;height:34px;background:#e30a15;"></div>
<div style="position:absolute;left:933px;top:1053px;width:172px;height:34px;background:#e30a15;"></div>
<div style="position:absolute;left:1107px;top:1053px;width:172px;height:34px;background:#e30a15;"></div>
<div style="position:absolute;left:220px;top:1085.9px;width:58px;height:2.2px;background:#e30a15;"></div>
<div style="position:absolute;left:584px;top:1087px;width:172.5px;height:35px;background:#a6d3ae;"></div>
<div style="position:absolute;left:758px;top:1087px;width:173px;height:35px;background:#dce14c;"></div>
<div style="position:absolute;left:933px;top:1087px;width:172px;height:35px;background:#fce53e;"></div>
<div style="position:absolute;left:1107px;top:1087px;width:172px;height:35px;background:#f8bb44;"></div>
<div style="position:absolute;left:584px;top:1122px;width:172.5px;height:33.700000000000045px;background:#a6d3ae;"></div>
<div style="position:absolute;left:758px;top:1122px;width:173px;height:33.700000000000045px;background:#dce14c;"></div>
<div style="position:absolute;left:933px;top:1122px;width:172px;height:33.700000000000045px;background:#fce53e;"></div>
<div style="position:absolute;left:1107px;top:1122px;width:172px;height:33.700000000000045px;background:#f8bb44;"></div>
<div style="position:absolute;left:220px;top:1188.7px;width:1059px;height:2.6px;background:#d0142c;"></div>
<div style="position:absolute;left:584px;top:1190px;width:172.5px;height:34.40000000000009px;background:#a6d3ae;"></div>
<div style="position:absolute;left:758px;top:1190px;width:173px;height:34.40000000000009px;background:#dce14c;"></div>
<div style="position:absolute;left:933px;top:1190px;width:172px;height:34.40000000000009px;background:#fce53e;"></div>
<div style="position:absolute;left:1107px;top:1190px;width:172px;height:34.40000000000009px;background:#f8bb44;"></div>
<div style="position:absolute;left:220px;top:1052.1px;width:1059px;height:1.8px;background:#161616;"></div>
<div style="position:absolute;left:584px;top:1087.0px;width:695px;height:0.01px;background:#000;"></div>
<div style="position:absolute;left:220px;top:1121.1px;width:1059px;height:1.8px;background:#161616;"></div>
<div style="position:absolute;left:348px;top:1155.1px;width:931px;height:1.2px;background:#3a3a3a;"></div>
<div style="position:absolute;left:220px;top:1223.5px;width:1059px;height:1.8px;background:#161616;"></div>
<div style="position:absolute;left:220px;top:1225.3000000000002px;width:1059px;height:39.1px;background:#e2e2e1;"></div>
<div style="position:absolute;left:27px;top:1264.4px;width:1252px;height:2.5px;background:#0a0a0a;"></div>
<div style="position:absolute;left:27px;top:1321px;width:282.5px;height:48.200000000000045px;background:#0a0a0a;"></div>
<div style="position:absolute;left:27px;top:1366.2px;width:1252px;height:3px;background:#0a0a0a;"></div>
<div style="position:absolute;left:156px;top:1338.4px;width:1.4px;height:20.6px;background:#e8e8e8;"></div>
<svg style="position:absolute;left:0;top:0;overflow:visible" width="1" height="1"><circle cx="224.5" cy="1341.0" r="5.5" fill="none" stroke="#c6aa7a" stroke-width="1.25"/><line x1="231.8" y1="1341.0" x2="234.9" y2="1341.0" stroke="#c6aa7a" stroke-width="1.2" stroke-linecap="butt"/><line x1="230.8" y1="1344.7" x2="233.5" y2="1346.2" stroke="#c6aa7a" stroke-width="1.2" stroke-linecap="butt"/><line x1="228.2" y1="1347.3" x2="229.7" y2="1350.0" stroke="#c6aa7a" stroke-width="1.2" stroke-linecap="butt"/><line x1="224.5" y1="1348.3" x2="224.5" y2="1351.4" stroke="#c6aa7a" stroke-width="1.2" stroke-linecap="butt"/><line x1="220.8" y1="1347.3" x2="219.3" y2="1350.0" stroke="#c6aa7a" stroke-width="1.2" stroke-linecap="butt"/><line x1="218.2" y1="1344.7" x2="215.5" y2="1346.2" stroke="#c6aa7a" stroke-width="1.2" stroke-linecap="butt"/><line x1="217.2" y1="1341.0" x2="214.1" y2="1341.0" stroke="#c6aa7a" stroke-width="1.2" stroke-linecap="butt"/><line x1="218.2" y1="1337.3" x2="215.5" y2="1335.8" stroke="#c6aa7a" stroke-width="1.2" stroke-linecap="butt"/><line x1="220.8" y1="1334.7" x2="219.3" y2="1332.0" stroke="#c6aa7a" stroke-width="1.2" stroke-linecap="butt"/><line x1="224.5" y1="1333.7" x2="224.5" y2="1330.6" stroke="#c6aa7a" stroke-width="1.2" stroke-linecap="butt"/><line x1="228.2" y1="1334.7" x2="229.7" y2="1332.0" stroke="#c6aa7a" stroke-width="1.2" stroke-linecap="butt"/><line x1="230.8" y1="1337.3" x2="233.5" y2="1335.8" stroke="#c6aa7a" stroke-width="1.2" stroke-linecap="butt"/><circle cx="245.2" cy="1341.0" r="5.5" fill="none" stroke="#c6aa7a" stroke-width="1.25"/><line x1="252.5" y1="1341.0" x2="255.6" y2="1341.0" stroke="#c6aa7a" stroke-width="1.2" stroke-linecap="butt"/><line x1="251.5" y1="1344.7" x2="254.2" y2="1346.2" stroke="#c6aa7a" stroke-width="1.2" stroke-linecap="butt"/><line x1="248.8" y1="1347.3" x2="250.4" y2="1350.0" stroke="#c6aa7a" stroke-width="1.2" stroke-linecap="butt"/><line x1="245.2" y1="1348.3" x2="245.2" y2="1351.4" stroke="#c6aa7a" stroke-width="1.2" stroke-linecap="butt"/><line x1="241.5" y1="1347.3" x2="240.0" y2="1350.0" stroke="#c6aa7a" stroke-width="1.2" stroke-linecap="butt"/><line x1="238.9" y1="1344.7" x2="236.2" y2="1346.2" stroke="#c6aa7a" stroke-width="1.2" stroke-linecap="butt"/><line x1="237.9" y1="1341.0" x2="234.8" y2="1341.0" stroke="#c6aa7a" stroke-width="1.2" stroke-linecap="butt"/><line x1="238.9" y1="1337.3" x2="236.2" y2="1335.8" stroke="#c6aa7a" stroke-width="1.2" stroke-linecap="butt"/><line x1="241.5" y1="1334.7" x2="240.0" y2="1332.0" stroke="#c6aa7a" stroke-width="1.2" stroke-linecap="butt"/><line x1="245.2" y1="1333.7" x2="245.2" y2="1330.6" stroke="#c6aa7a" stroke-width="1.2" stroke-linecap="butt"/><line x1="248.8" y1="1334.7" x2="250.4" y2="1332.0" stroke="#c6aa7a" stroke-width="1.2" stroke-linecap="butt"/><line x1="251.5" y1="1337.3" x2="254.2" y2="1335.8" stroke="#c6aa7a" stroke-width="1.2" stroke-linecap="butt"/><circle cx="265.9" cy="1341.0" r="5.5" fill="none" stroke="#c6aa7a" stroke-width="1.25"/><line x1="273.2" y1="1341.0" x2="276.3" y2="1341.0" stroke="#c6aa7a" stroke-width="1.2" stroke-linecap="butt"/><line x1="272.2" y1="1344.7" x2="274.9" y2="1346.2" stroke="#c6aa7a" stroke-width="1.2" stroke-linecap="butt"/><line x1="269.5" y1="1347.3" x2="271.1" y2="1350.0" stroke="#c6aa7a" stroke-width="1.2" stroke-linecap="butt"/><line x1="265.9" y1="1348.3" x2="265.9" y2="1351.4" stroke="#c6aa7a" stroke-width="1.2" stroke-linecap="butt"/><line x1="262.2" y1="1347.3" x2="260.7" y2="1350.0" stroke="#c6aa7a" stroke-width="1.2" stroke-linecap="butt"/><line x1="259.6" y1="1344.7" x2="256.9" y2="1346.2" stroke="#c6aa7a" stroke-width="1.2" stroke-linecap="butt"/><line x1="258.6" y1="1341.0" x2="255.5" y2="1341.0" stroke="#c6aa7a" stroke-width="1.2" stroke-linecap="butt"/><line x1="259.6" y1="1337.3" x2="256.9" y2="1335.8" stroke="#c6aa7a" stroke-width="1.2" stroke-linecap="butt"/><line x1="262.2" y1="1334.7" x2="260.7" y2="1332.0" stroke="#c6aa7a" stroke-width="1.2" stroke-linecap="butt"/><line x1="265.9" y1="1333.7" x2="265.9" y2="1330.6" stroke="#c6aa7a" stroke-width="1.2" stroke-linecap="butt"/><line x1="269.5" y1="1334.7" x2="271.1" y2="1332.0" stroke="#c6aa7a" stroke-width="1.2" stroke-linecap="butt"/><line x1="272.2" y1="1337.3" x2="274.9" y2="1335.8" stroke="#c6aa7a" stroke-width="1.2" stroke-linecap="butt"/><circle cx="286.6" cy="1341.0" r="5.5" fill="none" stroke="#c6aa7a" stroke-width="1.25"/><line x1="293.9" y1="1341.0" x2="297.0" y2="1341.0" stroke="#c6aa7a" stroke-width="1.2" stroke-linecap="butt"/><line x1="292.9" y1="1344.7" x2="295.6" y2="1346.2" stroke="#c6aa7a" stroke-width="1.2" stroke-linecap="butt"/><line x1="290.2" y1="1347.3" x2="291.8" y2="1350.0" stroke="#c6aa7a" stroke-width="1.2" stroke-linecap="butt"/><line x1="286.6" y1="1348.3" x2="286.6" y2="1351.4" stroke="#c6aa7a" stroke-width="1.2" stroke-linecap="butt"/><line x1="283.0" y1="1347.3" x2="281.4" y2="1350.0" stroke="#c6aa7a" stroke-width="1.2" stroke-linecap="butt"/><line x1="280.3" y1="1344.7" x2="277.6" y2="1346.2" stroke="#c6aa7a" stroke-width="1.2" stroke-linecap="butt"/><line x1="279.3" y1="1341.0" x2="276.2" y2="1341.0" stroke="#c6aa7a" stroke-width="1.2" stroke-linecap="butt"/><line x1="280.3" y1="1337.3" x2="277.6" y2="1335.8" stroke="#c6aa7a" stroke-width="1.2" stroke-linecap="butt"/><line x1="283.0" y1="1334.7" x2="281.4" y2="1332.0" stroke="#c6aa7a" stroke-width="1.2" stroke-linecap="butt"/><line x1="286.6" y1="1333.7" x2="286.6" y2="1330.6" stroke="#c6aa7a" stroke-width="1.2" stroke-linecap="butt"/><line x1="290.2" y1="1334.7" x2="291.8" y2="1332.0" stroke="#c6aa7a" stroke-width="1.2" stroke-linecap="butt"/><line x1="292.9" y1="1337.3" x2="295.6" y2="1335.8" stroke="#c6aa7a" stroke-width="1.2" stroke-linecap="butt"/></svg>
<svg style="position:absolute;left:27px;top:1369.2px" width="193" height="230.79999999999995" viewBox="0 0 193 230.79999999999995" preserveAspectRatio="none"><defs><linearGradient id="sea3" x1="0" y1="0" x2="0.25" y2="1"><stop offset="0" stop-color="#0b64b2"/><stop offset="0.4" stop-color="#1a8ccc"/><stop offset="1" stop-color="#5ab6d6"/></linearGradient></defs><defs><linearGradient id="sky3" x1="0" y1="0" x2="0" y2="1"><stop offset="0" stop-color="#18a4e8"/><stop offset="1" stop-color="#34b2ec"/></linearGradient></defs><rect width="193" height="71" fill="url(#sky3)"/><rect y="70" width="193" height="160.79999999999995" fill="url(#sea3)"/><path d="M0 150 L193 104 L193 110 L0 166 Z" fill="#78c0d0"/><path d="M0 146 L60 136 L62 139 L0 150 Z" fill="#d8eaea" opacity="0.8"/><path d="M0 158 L120 128 L122 131 L0 162 Z" fill="#e0eeee" opacity="0.7"/><path d="M0 166 L193 108 L193 230.79999999999995 L0 230.79999999999995 Z" fill="#d9c9a4"/><ellipse cx="45.9" cy="174.9" rx="1.2" ry="1.0" fill="#e0c8b8" opacity="1.0"/><ellipse cx="169.6" cy="120.0" rx="1.0" ry="0.8" fill="#f0e0d8" opacity="1.0"/><ellipse cx="49.8" cy="190.7" rx="1.7" ry="1.4" fill="#a04858" opacity="1.0"/><ellipse cx="134.8" cy="148.1" rx="1.5" ry="1.2" fill="#e8b0b0" opacity="1.0"/><ellipse cx="137.8" cy="134.0" rx="1.8" ry="1.4" fill="#a04858" opacity="1.0"/><ellipse cx="138.7" cy="148.7" rx="1.9" ry="1.5" fill="#a04858" opacity="1.0"/><ellipse cx="38.1" cy="158.2" rx="1.5" ry="1.2" fill="#6a5a68" opacity="1.0"/><ellipse cx="65.6" cy="152.3" rx="1.0" ry="0.8" fill="#c8a890" opacity="1.0"/><ellipse cx="52.4" cy="186.0" rx="1.7" ry="1.3" fill="#a04858" opacity="1.0"/><ellipse cx="58.5" cy="149.7" rx="1.7" ry="1.4" fill="#8a7aa0" opacity="1.0"/><ellipse cx="3.9" cy="183.7" rx="1.6" ry="1.2" fill="#d08a88" opacity="1.0"/><ellipse cx="122.3" cy="148.9" rx="1.2" ry="1.0" fill="#8a7aa0" opacity="1.0"/><ellipse cx="117.5" cy="142.3" rx="1.4" ry="1.1" fill="#d08a88" opacity="1.0"/><ellipse cx="57.6" cy="182.0" rx="1.0" ry="0.8" fill="#6a5a68" opacity="1.0"/><ellipse cx="60.3" cy="153.4" rx="1.5" ry="1.2" fill="#a04858" opacity="1.0"/><ellipse cx="151.9" cy="120.9" rx="1.8" ry="1.4" fill="#6a5a68" opacity="1.0"/><ellipse cx="155.1" cy="137.4" rx="1.0" ry="0.8" fill="#c8a890" opacity="1.0"/><ellipse cx="130.3" cy="135.6" rx="1.8" ry="1.4" fill="#6a5a68" opacity="1.0"/><ellipse cx="15.4" cy="199.3" rx="1.1" ry="0.8" fill="#e0c8b8" opacity="1.0"/><ellipse cx="16.5" cy="184.2" rx="1.5" ry="1.2" fill="#c8a890" opacity="1.0"/><ellipse cx="52.3" cy="150.6" rx="1.3" ry="1.0" fill="#c8a890" opacity="1.0"/><ellipse cx="187.4" cy="122.8" rx="1.1" ry="0.9" fill="#d08a88" opacity="1.0"/><ellipse cx="2.5" cy="199.7" rx="1.0" ry="0.8" fill="#a04858" opacity="1.0"/><ellipse cx="176.2" cy="122.0" rx="1.0" ry="0.8" fill="#e0c8b8" opacity="1.0"/><ellipse cx="171.3" cy="122.7" rx="1.1" ry="0.9" fill="#a04858" opacity="1.0"/><ellipse cx="51.8" cy="172.9" rx="1.3" ry="1.0" fill="#e0c8b8" opacity="1.0"/><ellipse cx="75.2" cy="145.4" rx="1.1" ry="0.9" fill="#8a7aa0" opacity="1.0"/><ellipse cx="0.7" cy="196.9" rx="1.8" ry="1.4" fill="#6a5a68" opacity="1.0"/><ellipse cx="8.3" cy="164.7" rx="1.6" ry="1.3" fill="#c8a890" opacity="1.0"/><ellipse cx="168.0" cy="122.9" rx="1.6" ry="1.3" fill="#c8a890" opacity="1.0"/><ellipse cx="162.4" cy="122.9" rx="1.8" ry="1.5" fill="#e0c8b8" opacity="1.0"/><ellipse cx="7.0" cy="202.4" rx="1.4" ry="1.1" fill="#f0e0d8" opacity="1.0"/><ellipse cx="20.6" cy="200.1" rx="1.9" ry="1.5" fill="#d08a88" opacity="1.0"/><ellipse cx="30.1" cy="157.3" rx="1.9" ry="1.5" fill="#6a5a68" opacity="1.0"/><ellipse cx="18.5" cy="200.0" rx="1.9" ry="1.5" fill="#e0c8b8" opacity="1.0"/><ellipse cx="26.3" cy="200.5" rx="1.0" ry="0.8" fill="#8a7aa0" opacity="1.0"/><ellipse cx="155.2" cy="132.7" rx="1.5" ry="1.2" fill="#f0e0d8" opacity="1.0"/><ellipse cx="164.8" cy="137.8" rx="1.0" ry="0.8" fill="#a04858" opacity="1.0"/><ellipse cx="26.5" cy="184.5" rx="1.6" ry="1.3" fill="#d08a88" opacity="1.0"/><ellipse cx="160.9" cy="143.9" rx="1.2" ry="1.0" fill="#8a7aa0" opacity="1.0"/><ellipse cx="84.2" cy="167.8" rx="1.1" ry="0.8" fill="#e0c8b8" opacity="1.0"/><ellipse cx="75.4" cy="175.0" rx="0.9" ry="0.8" fill="#a04858" opacity="1.0"/><ellipse cx="84.6" cy="172.9" rx="1.1" ry="0.9" fill="#8a7aa0" opacity="1.0"/><ellipse cx="130.9" cy="153.3" rx="1.3" ry="1.1" fill="#a04858" opacity="1.0"/><ellipse cx="65.3" cy="177.6" rx="1.4" ry="1.1" fill="#e0c8b8" opacity="1.0"/><ellipse cx="140.9" cy="126.4" rx="1.2" ry="1.0" fill="#e0c8b8" opacity="1.0"/><ellipse cx="88.3" cy="146.4" rx="1.0" ry="0.8" fill="#e8b0b0" opacity="1.0"/><ellipse cx="26.3" cy="166.9" rx="1.1" ry="0.9" fill="#8a7aa0" opacity="1.0"/><ellipse cx="13.4" cy="169.3" rx="2.0" ry="1.6" fill="#6a5a68" opacity="1.0"/><ellipse cx="140.4" cy="130.7" rx="1.0" ry="0.8" fill="#c8a890" opacity="1.0"/><ellipse cx="129.3" cy="156.1" rx="2.0" ry="1.6" fill="#6a5a68" opacity="1.0"/><ellipse cx="132.5" cy="144.8" rx="1.8" ry="1.5" fill="#e0c8b8" opacity="1.0"/><ellipse cx="145.9" cy="136.8" rx="1.0" ry="0.8" fill="#e0c8b8" opacity="1.0"/><ellipse cx="65.5" cy="148.4" rx="1.2" ry="1.0" fill="#6a5a68" opacity="1.0"/><ellipse cx="134.9" cy="135.2" rx="1.2" ry="0.9" fill="#d08a88" opacity="1.0"/><ellipse cx="164.4" cy="133.6" rx="1.4" ry="1.1" fill="#d08a88" opacity="1.0"/><ellipse cx="70.8" cy="153.6" rx="1.4" ry="1.1" fill="#c8a890" opacity="1.0"/><ellipse cx="27.7" cy="164.6" rx="1.0" ry="0.8" fill="#f0e0d8" opacity="1.0"/><ellipse cx="4.3" cy="179.9" rx="1.4" ry="1.1" fill="#d08a88" opacity="1.0"/><ellipse cx="26.9" cy="182.9" rx="1.3" ry="1.1" fill="#6a5a68" opacity="1.0"/><ellipse cx="86.5" cy="158.2" rx="1.6" ry="1.3" fill="#d08a88" opacity="1.0"/><ellipse cx="170.4" cy="137.7" rx="1.3" ry="1.0" fill="#f0e0d8" opacity="1.0"/><ellipse cx="31.8" cy="184.6" rx="1.2" ry="1.0" fill="#e8b0b0" opacity="1.0"/><ellipse cx="97.1" cy="167.3" rx="1.0" ry="0.8" fill="#8a7aa0" opacity="1.0"/><ellipse cx="164.0" cy="122.1" rx="1.3" ry="1.0" fill="#8a7aa0" opacity="1.0"/><ellipse cx="84.6" cy="162.7" rx="1.6" ry="1.3" fill="#8a7aa0" opacity="1.0"/><ellipse cx="64.4" cy="153.5" rx="0.9" ry="0.7" fill="#c8a890" opacity="1.0"/><ellipse cx="40.6" cy="192.6" rx="2.0" ry="1.6" fill="#6a5a68" opacity="1.0"/><ellipse cx="42.5" cy="177.2" rx="1.3" ry="1.0" fill="#8a7aa0" opacity="1.0"/><ellipse cx="186.5" cy="132.5" rx="1.9" ry="1.5" fill="#e8b0b0" opacity="1.0"/><ellipse cx="21.0" cy="167.7" rx="1.6" ry="1.3" fill="#8a7aa0" opacity="1.0"/><ellipse cx="150.1" cy="143.9" rx="1.9" ry="1.5" fill="#e0c8b8" opacity="1.0"/><ellipse cx="157.3" cy="133.3" rx="1.4" ry="1.2" fill="#e0c8b8" opacity="1.0"/><ellipse cx="57.8" cy="187.0" rx="1.2" ry="1.0" fill="#f0e0d8" opacity="1.0"/><ellipse cx="116.9" cy="134.3" rx="1.2" ry="1.0" fill="#d08a88" opacity="1.0"/><ellipse cx="64.7" cy="161.0" rx="0.9" ry="0.7" fill="#f0e0d8" opacity="1.0"/><ellipse cx="36.9" cy="184.7" rx="1.3" ry="1.0" fill="#c8a890" opacity="1.0"/><ellipse cx="40.0" cy="168.5" rx="0.8" ry="0.7" fill="#e0c8b8" opacity="1.0"/><ellipse cx="57.8" cy="158.6" rx="0.9" ry="0.7" fill="#6a5a68" opacity="1.0"/><ellipse cx="54.9" cy="154.1" rx="1.8" ry="1.4" fill="#8a7aa0" opacity="1.0"/><ellipse cx="86.9" cy="140.2" rx="1.6" ry="1.3" fill="#e0c8b8" opacity="1.0"/><ellipse cx="106.5" cy="142.4" rx="1.0" ry="0.8" fill="#d08a88" opacity="1.0"/><ellipse cx="99.4" cy="153.6" rx="1.6" ry="1.2" fill="#a04858" opacity="1.0"/><ellipse cx="35.3" cy="192.1" rx="2.0" ry="1.6" fill="#e8b0b0" opacity="1.0"/><ellipse cx="78.8" cy="151.3" rx="1.3" ry="1.1" fill="#a04858" opacity="1.0"/><ellipse cx="100.7" cy="158.7" rx="1.8" ry="1.5" fill="#e0c8b8" opacity="1.0"/><ellipse cx="5.9" cy="178.7" rx="1.5" ry="1.2" fill="#e0c8b8" opacity="1.0"/><ellipse cx="145.5" cy="140.9" rx="1.3" ry="1.1" fill="#e8b0b0" opacity="1.0"/><ellipse cx="71.7" cy="171.3" rx="1.9" ry="1.5" fill="#e0c8b8" opacity="1.0"/><ellipse cx="189.2" cy="117.7" rx="1.1" ry="0.9" fill="#f0e0d8" opacity="1.0"/><ellipse cx="22.2" cy="185.8" rx="0.9" ry="0.8" fill="#d08a88" opacity="1.0"/><ellipse cx="55.9" cy="176.8" rx="1.0" ry="0.8" fill="#e0c8b8" opacity="1.0"/><ellipse cx="184.8" cy="125.7" rx="1.9" ry="1.5" fill="#6a5a68" opacity="1.0"/><ellipse cx="120.9" cy="146.3" rx="1.6" ry="1.3" fill="#6a5a68" opacity="1.0"/><ellipse cx="89.6" cy="174.2" rx="1.3" ry="1.1" fill="#e0c8b8" opacity="1.0"/><ellipse cx="160.8" cy="132.7" rx="1.5" ry="1.2" fill="#6a5a68" opacity="1.0"/><ellipse cx="162.1" cy="124.0" rx="1.5" ry="1.2" fill="#d08a88" opacity="1.0"/><ellipse cx="17.9" cy="174.5" rx="1.3" ry="1.1" fill="#6a5a68" opacity="1.0"/><ellipse cx="114.0" cy="134.9" rx="1.3" ry="1.1" fill="#8a7aa0" opacity="1.0"/><ellipse cx="139.6" cy="150.3" rx="1.6" ry="1.3" fill="#8a7aa0" opacity="1.0"/><ellipse cx="87.4" cy="166.8" rx="1.4" ry="1.2" fill="#6a5a68" opacity="1.0"/><ellipse cx="137.3" cy="152.5" rx="1.2" ry="0.9" fill="#8a7aa0" opacity="1.0"/><ellipse cx="77.0" cy="153.8" rx="1.6" ry="1.3" fill="#e8b0b0" opacity="1.0"/><ellipse cx="42.4" cy="153.6" rx="1.5" ry="1.2" fill="#6a5a68" opacity="1.0"/><ellipse cx="170.8" cy="133.7" rx="1.3" ry="1.1" fill="#f0e0d8" opacity="1.0"/><ellipse cx="5.7" cy="174.3" rx="1.9" ry="1.5" fill="#e0c8b8" opacity="1.0"/><ellipse cx="73.0" cy="166.5" rx="1.9" ry="1.5" fill="#a04858" opacity="1.0"/><ellipse cx="73.9" cy="168.3" rx="2.0" ry="1.6" fill="#e0c8b8" opacity="1.0"/><ellipse cx="52.9" cy="155.8" rx="1.4" ry="1.1" fill="#c8a890" opacity="1.0"/><ellipse cx="169.4" cy="115.9" rx="1.9" ry="1.5" fill="#8a7aa0" opacity="1.0"/><ellipse cx="92.6" cy="159.9" rx="1.9" ry="1.5" fill="#8a7aa0" opacity="1.0"/><ellipse cx="10.0" cy="171.7" rx="1.9" ry="1.5" fill="#f0e0d8" opacity="1.0"/><ellipse cx="44.8" cy="165.7" rx="1.8" ry="1.5" fill="#c8a890" opacity="1.0"/><ellipse cx="173.7" cy="124.3" rx="1.4" ry="1.2" fill="#8a7aa0" opacity="1.0"/><ellipse cx="101.5" cy="163.0" rx="1.7" ry="1.3" fill="#a04858" opacity="1.0"/><ellipse cx="164.8" cy="130.6" rx="0.9" ry="0.7" fill="#e0c8b8" opacity="1.0"/><ellipse cx="96.3" cy="155.3" rx="1.8" ry="1.5" fill="#d08a88" opacity="1.0"/><ellipse cx="45.7" cy="153.1" rx="1.1" ry="0.9" fill="#a04858" opacity="1.0"/><ellipse cx="134.0" cy="149.8" rx="0.9" ry="0.7" fill="#f0e0d8" opacity="1.0"/><ellipse cx="32.5" cy="167.4" rx="1.1" ry="0.8" fill="#8a7aa0" opacity="1.0"/><ellipse cx="10.8" cy="204.8" rx="1.8" ry="1.5" fill="#e0c8b8" opacity="1.0"/><ellipse cx="100.3" cy="159.6" rx="1.4" ry="1.1" fill="#c8a890" opacity="1.0"/><ellipse cx="138.4" cy="149.7" rx="1.7" ry="1.3" fill="#8a7aa0" opacity="1.0"/><ellipse cx="20.8" cy="173.0" rx="1.8" ry="1.5" fill="#e0c8b8" opacity="1.0"/><ellipse cx="130.8" cy="143.5" rx="1.2" ry="1.0" fill="#c8a890" opacity="1.0"/><ellipse cx="67.7" cy="166.9" rx="1.5" ry="1.2" fill="#f0e0d8" opacity="1.0"/><ellipse cx="104.4" cy="165.2" rx="1.9" ry="1.5" fill="#8a7aa0" opacity="1.0"/><ellipse cx="19.5" cy="174.1" rx="1.9" ry="1.5" fill="#8a7aa0" opacity="1.0"/><ellipse cx="181.7" cy="122.4" rx="1.9" ry="1.6" fill="#e0c8b8" opacity="1.0"/><ellipse cx="67.1" cy="150.2" rx="0.9" ry="0.7" fill="#6a5a68" opacity="1.0"/><ellipse cx="144.8" cy="135.7" rx="1.3" ry="1.1" fill="#e8b0b0" opacity="1.0"/><ellipse cx="31.9" cy="190.1" rx="1.1" ry="0.9" fill="#6a5a68" opacity="1.0"/><ellipse cx="155.2" cy="139.7" rx="1.5" ry="1.2" fill="#c8a890" opacity="1.0"/><ellipse cx="152.6" cy="124.1" rx="1.7" ry="1.3" fill="#f0e0d8" opacity="1.0"/><ellipse cx="177.8" cy="132.9" rx="1.0" ry="0.8" fill="#e8b0b0" opacity="1.0"/><ellipse cx="28.8" cy="174.9" rx="1.6" ry="1.3" fill="#6a5a68" opacity="1.0"/><ellipse cx="15.4" cy="191.7" rx="0.9" ry="0.7" fill="#e8b0b0" opacity="1.0"/><ellipse cx="13.5" cy="191.9" rx="1.3" ry="1.0" fill="#d08a88" opacity="1.0"/><ellipse cx="6.3" cy="171.7" rx="1.2" ry="1.0" fill="#8a7aa0" opacity="1.0"/><ellipse cx="60.9" cy="178.5" rx="1.5" ry="1.2" fill="#f0e0d8" opacity="1.0"/><ellipse cx="37.9" cy="178.0" rx="1.1" ry="0.9" fill="#c8a890" opacity="1.0"/><ellipse cx="100.7" cy="160.5" rx="1.2" ry="0.9" fill="#e8b0b0" opacity="1.0"/><ellipse cx="34.3" cy="163.6" rx="1.4" ry="1.1" fill="#a04858" opacity="1.0"/><ellipse cx="192.9" cy="123.0" rx="1.4" ry="1.1" fill="#e0c8b8" opacity="1.0"/><ellipse cx="4.4" cy="184.4" rx="0.9" ry="0.7" fill="#e0c8b8" opacity="1.0"/><ellipse cx="174.8" cy="113.9" rx="1.6" ry="1.3" fill="#a04858" opacity="1.0"/><ellipse cx="59.6" cy="177.3" rx="1.3" ry="1.0" fill="#d08a88" opacity="1.0"/><ellipse cx="21.9" cy="191.8" rx="1.1" ry="0.9" fill="#6a5a68" opacity="1.0"/><ellipse cx="13.2" cy="191.2" rx="1.9" ry="1.5" fill="#c8a890" opacity="1.0"/><ellipse cx="128.7" cy="148.9" rx="1.7" ry="1.4" fill="#c8a890" opacity="1.0"/><ellipse cx="142.4" cy="139.7" rx="1.4" ry="1.1" fill="#a04858" opacity="1.0"/><ellipse cx="50.5" cy="166.9" rx="1.3" ry="1.0" fill="#f0e0d8" opacity="1.0"/><ellipse cx="74.4" cy="147.3" rx="1.6" ry="1.3" fill="#e0c8b8" opacity="1.0"/><ellipse cx="109.0" cy="149.8" rx="1.3" ry="1.1" fill="#d08a88" opacity="1.0"/><ellipse cx="75.5" cy="172.7" rx="1.0" ry="0.8" fill="#f0e0d8" opacity="1.0"/><ellipse cx="116.7" cy="157.3" rx="1.4" ry="1.1" fill="#c8a890" opacity="1.0"/><ellipse cx="11.2" cy="176.9" rx="1.0" ry="0.8" fill="#d08a88" opacity="1.0"/><ellipse cx="189.0" cy="125.0" rx="1.7" ry="1.4" fill="#e8b0b0" opacity="1.0"/><ellipse cx="23.6" cy="181.1" rx="1.9" ry="1.5" fill="#a04858" opacity="1.0"/><ellipse cx="30.4" cy="192.9" rx="1.6" ry="1.2" fill="#e0c8b8" opacity="1.0"/><ellipse cx="60.9" cy="162.5" rx="1.9" ry="1.5" fill="#a04858" opacity="1.0"/><ellipse cx="66.2" cy="175.9" rx="1.1" ry="0.8" fill="#e8b0b0" opacity="1.0"/><ellipse cx="171.3" cy="138.0" rx="1.1" ry="0.9" fill="#8a7aa0" opacity="1.0"/><ellipse cx="41.7" cy="174.7" rx="1.5" ry="1.2" fill="#c8a890" opacity="1.0"/><ellipse cx="0.3" cy="187.3" rx="1.8" ry="1.4" fill="#f0e0d8" opacity="1.0"/><ellipse cx="76.9" cy="150.4" rx="1.6" ry="1.3" fill="#f0e0d8" opacity="1.0"/><ellipse cx="104.8" cy="158.0" rx="1.2" ry="1.0" fill="#a04858" opacity="1.0"/><ellipse cx="164.8" cy="142.2" rx="1.8" ry="1.5" fill="#f0e0d8" opacity="1.0"/><ellipse cx="69.8" cy="153.0" rx="0.8" ry="0.7" fill="#8a7aa0" opacity="1.0"/><ellipse cx="92.5" cy="169.0" rx="1.3" ry="1.1" fill="#e0c8b8" opacity="1.0"/><ellipse cx="45.1" cy="173.4" rx="1.6" ry="1.3" fill="#6a5a68" opacity="1.0"/><ellipse cx="189.1" cy="114.5" rx="1.3" ry="1.0" fill="#e8b0b0" opacity="1.0"/><ellipse cx="67.3" cy="167.6" rx="0.8" ry="0.6" fill="#e0c8b8" opacity="1.0"/><ellipse cx="172.0" cy="119.2" rx="0.9" ry="0.7" fill="#e8b0b0" opacity="1.0"/><ellipse cx="41.9" cy="180.2" rx="1.0" ry="0.8" fill="#8a7aa0" opacity="1.0"/><ellipse cx="85.9" cy="172.2" rx="1.6" ry="1.3" fill="#6a5a68" opacity="1.0"/><ellipse cx="58.5" cy="185.4" rx="0.9" ry="0.7" fill="#6a5a68" opacity="1.0"/><ellipse cx="105.1" cy="149.0" rx="1.8" ry="1.4" fill="#f0e0d8" opacity="1.0"/><ellipse cx="61.4" cy="149.4" rx="1.7" ry="1.4" fill="#6a5a68" opacity="1.0"/><ellipse cx="114.7" cy="157.8" rx="2.0" ry="1.6" fill="#c8a890" opacity="1.0"/><ellipse cx="10.6" cy="186.8" rx="1.4" ry="1.1" fill="#a04858" opacity="1.0"/><ellipse cx="100.9" cy="168.4" rx="1.8" ry="1.4" fill="#f0e0d8" opacity="1.0"/><ellipse cx="16.8" cy="193.0" rx="1.8" ry="1.4" fill="#e0c8b8" opacity="1.0"/><ellipse cx="45.9" cy="191.0" rx="0.9" ry="0.8" fill="#8a7aa0" opacity="1.0"/><ellipse cx="84.8" cy="168.1" rx="0.9" ry="0.7" fill="#8a7aa0" opacity="1.0"/><ellipse cx="151.1" cy="130.0" rx="1.4" ry="1.1" fill="#e0c8b8" opacity="1.0"/><ellipse cx="169.8" cy="117.1" rx="1.8" ry="1.4" fill="#6a5a68" opacity="1.0"/><ellipse cx="112.1" cy="137.3" rx="1.7" ry="1.3" fill="#d08a88" opacity="1.0"/><ellipse cx="2.2" cy="175.1" rx="1.6" ry="1.3" fill="#8a7aa0" opacity="1.0"/><ellipse cx="28.8" cy="160.7" rx="1.6" ry="1.3" fill="#d08a88" opacity="1.0"/><ellipse cx="89.5" cy="157.6" rx="0.8" ry="0.7" fill="#e8b0b0" opacity="1.0"/><ellipse cx="18.4" cy="199.5" rx="1.3" ry="1.0" fill="#c8a890" opacity="1.0"/><ellipse cx="51.2" cy="153.3" rx="1.3" ry="1.1" fill="#8a7aa0" opacity="1.0"/><ellipse cx="68.8" cy="170.5" rx="1.7" ry="1.4" fill="#c8a890" opacity="1.0"/><ellipse cx="71.4" cy="151.7" rx="1.5" ry="1.2" fill="#f0e0d8" opacity="1.0"/><ellipse cx="73.6" cy="178.5" rx="0.9" ry="0.7" fill="#c8a890" opacity="1.0"/><ellipse cx="126.0" cy="133.9" rx="1.7" ry="1.4" fill="#8a7aa0" opacity="1.0"/><ellipse cx="127.9" cy="154.5" rx="1.5" ry="1.2" fill="#c8a890" opacity="1.0"/><ellipse cx="62.2" cy="182.0" rx="1.8" ry="1.4" fill="#f0e0d8" opacity="1.0"/><ellipse cx="37.3" cy="193.4" rx="1.3" ry="1.0" fill="#f0e0d8" opacity="1.0"/><ellipse cx="125.8" cy="134.6" rx="1.1" ry="0.9" fill="#a04858" opacity="1.0"/><ellipse cx="21.5" cy="178.2" rx="1.9" ry="1.5" fill="#c8a890" opacity="1.0"/><ellipse cx="112.8" cy="146.2" rx="1.5" ry="1.2" fill="#6a5a68" opacity="1.0"/><ellipse cx="143.4" cy="124.2" rx="1.9" ry="1.5" fill="#6a5a68" opacity="1.0"/><ellipse cx="187.5" cy="116.7" rx="1.1" ry="0.9" fill="#e8b0b0" opacity="1.0"/><ellipse cx="45.3" cy="174.4" rx="1.1" ry="0.9" fill="#f0e0d8" opacity="1.0"/><ellipse cx="62.2" cy="158.1" rx="2.0" ry="1.6" fill="#d08a88" opacity="1.0"/><ellipse cx="28.5" cy="184.8" rx="1.6" ry="1.3" fill="#e8b0b0" opacity="1.0"/><ellipse cx="147.8" cy="128.8" rx="2.0" ry="1.6" fill="#e0c8b8" opacity="1.0"/><ellipse cx="62.5" cy="155.0" rx="1.9" ry="1.5" fill="#f0e0d8" opacity="1.0"/><ellipse cx="13.1" cy="196.7" rx="1.6" ry="1.3" fill="#f0e0d8" opacity="1.0"/><ellipse cx="93.6" cy="157.7" rx="1.6" ry="1.3" fill="#f0e0d8" opacity="1.0"/><ellipse cx="33.2" cy="185.1" rx="0.8" ry="0.7" fill="#e8b0b0" opacity="1.0"/><ellipse cx="148.6" cy="137.1" rx="0.9" ry="0.7" fill="#6a5a68" opacity="1.0"/><ellipse cx="107.6" cy="160.4" rx="0.8" ry="0.7" fill="#e8b0b0" opacity="1.0"/><ellipse cx="84.5" cy="169.8" rx="1.1" ry="0.9" fill="#c8a890" opacity="1.0"/><ellipse cx="30.1" cy="175.3" rx="1.0" ry="0.8" fill="#e8b0b0" opacity="1.0"/><ellipse cx="61.9" cy="179.2" rx="1.5" ry="1.2" fill="#c8a890" opacity="1.0"/><ellipse cx="132.9" cy="134.2" rx="1.6" ry="1.3" fill="#e8b0b0" opacity="1.0"/><ellipse cx="131.7" cy="132.0" rx="1.4" ry="1.1" fill="#c8a890" opacity="1.0"/><ellipse cx="156.8" cy="125.6" rx="1.6" ry="1.3" fill="#d08a88" opacity="1.0"/><ellipse cx="46.5" cy="170.3" rx="1.3" ry="1.1" fill="#c8a890" opacity="1.0"/><ellipse cx="114.2" cy="157.0" rx="1.3" ry="1.1" fill="#a04858" opacity="1.0"/><ellipse cx="152.5" cy="145.3" rx="1.7" ry="1.3" fill="#8a7aa0" opacity="1.0"/><ellipse cx="169.7" cy="117.8" rx="2.0" ry="1.6" fill="#c8a890" opacity="1.0"/><ellipse cx="50.1" cy="165.1" rx="0.9" ry="0.7" fill="#f0e0d8" opacity="1.0"/><ellipse cx="138.1" cy="134.0" rx="1.3" ry="1.1" fill="#d08a88" opacity="1.0"/><ellipse cx="14.2" cy="180.8" rx="1.0" ry="0.8" fill="#d08a88" opacity="1.0"/><ellipse cx="2.8" cy="200.9" rx="1.3" ry="1.0" fill="#c8a890" opacity="1.0"/><ellipse cx="142.1" cy="150.7" rx="0.8" ry="0.7" fill="#8a7aa0" opacity="1.0"/><ellipse cx="145.0" cy="133.1" rx="1.7" ry="1.3" fill="#d08a88" opacity="1.0"/><ellipse cx="62.1" cy="166.5" rx="1.4" ry="1.1" fill="#c8a890" opacity="1.0"/><ellipse cx="173.2" cy="124.8" rx="1.3" ry="1.0" fill="#6a5a68" opacity="1.0"/><ellipse cx="84.0" cy="169.5" rx="0.9" ry="0.7" fill="#e8b0b0" opacity="1.0"/><ellipse cx="133.4" cy="146.5" rx="1.7" ry="1.4" fill="#d08a88" opacity="1.0"/><ellipse cx="65.7" cy="166.5" rx="1.8" ry="1.5" fill="#f0e0d8" opacity="1.0"/><ellipse cx="159.8" cy="129.1" rx="1.9" ry="1.6" fill="#8a7aa0" opacity="1.0"/><ellipse cx="72.0" cy="148.9" rx="0.9" ry="0.7" fill="#6a5a68" opacity="1.0"/><ellipse cx="85.4" cy="150.1" rx="1.0" ry="0.8" fill="#f0e0d8" opacity="1.0"/><ellipse cx="90.6" cy="145.5" rx="1.4" ry="1.1" fill="#a04858" opacity="1.0"/><ellipse cx="97.0" cy="156.9" rx="1.0" ry="0.8" fill="#e8b0b0" opacity="1.0"/><ellipse cx="188.9" cy="127.2" rx="1.2" ry="1.0" fill="#8a7aa0" opacity="1.0"/><ellipse cx="9.2" cy="163.9" rx="1.9" ry="1.5" fill="#8a7aa0" opacity="1.0"/><ellipse cx="103.7" cy="149.4" rx="1.5" ry="1.2" fill="#e8b0b0" opacity="1.0"/><ellipse cx="37.6" cy="192.5" rx="1.5" ry="1.2" fill="#e0c8b8" opacity="1.0"/><ellipse cx="43.6" cy="162.9" rx="1.7" ry="1.3" fill="#8a7aa0" opacity="1.0"/><ellipse cx="22.5" cy="169.2" rx="1.0" ry="0.8" fill="#6a5a68" opacity="1.0"/><ellipse cx="45.4" cy="153.5" rx="1.1" ry="0.9" fill="#e0c8b8" opacity="1.0"/><ellipse cx="152.6" cy="136.7" rx="2.0" ry="1.6" fill="#e8b0b0" opacity="1.0"/><ellipse cx="87.4" cy="141.6" rx="1.5" ry="1.2" fill="#d08a88" opacity="1.0"/><ellipse cx="3.4" cy="198.9" rx="1.0" ry="0.8" fill="#f0e0d8" opacity="1.0"/><ellipse cx="179.4" cy="163.4" rx="1.4" ry="1.1" fill="#c08a88" opacity="1.0"/><ellipse cx="174.4" cy="154.8" rx="1.5" ry="1.2" fill="#6a5a68" opacity="1.0"/><ellipse cx="151.9" cy="149.6" rx="1.2" ry="0.9" fill="#c08a88" opacity="1.0"/><ellipse cx="122.1" cy="159.5" rx="0.9" ry="0.8" fill="#c08a88" opacity="1.0"/><ellipse cx="188.6" cy="168.7" rx="1.0" ry="0.8" fill="#6a5a68" opacity="1.0"/><ellipse cx="154.8" cy="160.1" rx="0.9" ry="0.7" fill="#c08a88" opacity="1.0"/><ellipse cx="121.6" cy="154.1" rx="1.2" ry="1.0" fill="#8a7aa0" opacity="1.0"/><ellipse cx="171.0" cy="143.9" rx="1.2" ry="0.9" fill="#c08a88" opacity="1.0"/><ellipse cx="181.1" cy="148.2" rx="0.9" ry="0.7" fill="#6a5a68" opacity="1.0"/><ellipse cx="131.1" cy="138.2" rx="0.9" ry="0.7" fill="#f0e0d8" opacity="1.0"/><ellipse cx="121.3" cy="150.6" rx="1.1" ry="0.9" fill="#f0e0d8" opacity="1.0"/><ellipse cx="180.6" cy="148.9" rx="0.9" ry="0.7" fill="#c08a88" opacity="1.0"/><ellipse cx="177.4" cy="167.3" rx="1.8" ry="1.4" fill="#6a5a68" opacity="1.0"/><ellipse cx="169.3" cy="168.7" rx="1.7" ry="1.3" fill="#8a7aa0" opacity="1.0"/><ellipse cx="142.2" cy="128.7" rx="1.3" ry="1.1" fill="#f0e0d8" opacity="1.0"/><ellipse cx="182.0" cy="171.8" rx="1.3" ry="1.1" fill="#6a5a68" opacity="1.0"/><ellipse cx="147.3" cy="142.6" rx="1.1" ry="0.9" fill="#f0e0d8" opacity="1.0"/><ellipse cx="173.5" cy="147.7" rx="1.2" ry="0.9" fill="#8a7aa0" opacity="1.0"/><ellipse cx="151.3" cy="149.6" rx="1.5" ry="1.2" fill="#8a7aa0" opacity="1.0"/><ellipse cx="140.8" cy="150.6" rx="1.3" ry="1.0" fill="#f0e0d8" opacity="1.0"/><ellipse cx="182.8" cy="128.4" rx="1.4" ry="1.1" fill="#8a7aa0" opacity="1.0"/><ellipse cx="147.5" cy="164.2" rx="1.1" ry="0.9" fill="#f0e0d8" opacity="1.0"/><ellipse cx="176.7" cy="128.1" rx="1.6" ry="1.2" fill="#6a5a68" opacity="1.0"/><ellipse cx="182.2" cy="155.3" rx="1.6" ry="1.3" fill="#6a5a68" opacity="1.0"/><ellipse cx="187.9" cy="133.7" rx="1.6" ry="1.3" fill="#f0e0d8" opacity="1.0"/><ellipse cx="168.0" cy="122.0" rx="1.6" ry="1.3" fill="#c08a88" opacity="1.0"/><ellipse cx="150.7" cy="144.0" rx="1.3" ry="1.0" fill="#6a5a68" opacity="1.0"/><ellipse cx="174.7" cy="122.0" rx="1.2" ry="0.9" fill="#c08a88" opacity="1.0"/><ellipse cx="179.9" cy="174.0" rx="1.6" ry="1.3" fill="#8a7aa0" opacity="1.0"/><ellipse cx="144.3" cy="163.8" rx="0.9" ry="0.7" fill="#f0e0d8" opacity="1.0"/><ellipse cx="165.9" cy="142.2" rx="1.7" ry="1.4" fill="#c08a88" opacity="1.0"/><ellipse cx="184.0" cy="152.8" rx="1.4" ry="1.1" fill="#8a7aa0" opacity="1.0"/><ellipse cx="187.9" cy="166.9" rx="1.5" ry="1.2" fill="#c08a88" opacity="1.0"/><ellipse cx="142.6" cy="139.0" rx="1.7" ry="1.3" fill="#f0e0d8" opacity="1.0"/><ellipse cx="142.0" cy="135.0" rx="1.0" ry="0.8" fill="#8a7aa0" opacity="1.0"/><ellipse cx="128.2" cy="155.9" rx="1.6" ry="1.3" fill="#6a5a68" opacity="1.0"/><ellipse cx="147.2" cy="163.3" rx="1.6" ry="1.3" fill="#f0e0d8" opacity="1.0"/><ellipse cx="178.5" cy="137.3" rx="1.7" ry="1.3" fill="#6a5a68" opacity="1.0"/><ellipse cx="157.1" cy="158.6" rx="0.9" ry="0.7" fill="#c08a88" opacity="1.0"/><ellipse cx="193.0" cy="128.5" rx="1.4" ry="1.1" fill="#8a7aa0" opacity="1.0"/><ellipse cx="167.5" cy="141.6" rx="1.0" ry="0.8" fill="#8a7aa0" opacity="1.0"/><ellipse cx="149.8" cy="127.8" rx="1.0" ry="0.8" fill="#8a7aa0" opacity="1.0"/><ellipse cx="143.3" cy="128.7" rx="1.5" ry="1.2" fill="#6a5a68" opacity="1.0"/><ellipse cx="139.6" cy="139.0" rx="1.2" ry="0.9" fill="#8a7aa0" opacity="1.0"/><ellipse cx="182.4" cy="149.4" rx="1.3" ry="1.0" fill="#8a7aa0" opacity="1.0"/><ellipse cx="190.3" cy="143.8" rx="1.1" ry="0.8" fill="#8a7aa0" opacity="1.0"/><ellipse cx="156.2" cy="165.6" rx="1.1" ry="0.9" fill="#c08a88" opacity="1.0"/><ellipse cx="152.2" cy="159.2" rx="0.9" ry="0.7" fill="#c08a88" opacity="1.0"/><ellipse cx="191.6" cy="143.6" rx="1.8" ry="1.4" fill="#f0e0d8" opacity="1.0"/><ellipse cx="179.2" cy="160.8" rx="0.9" ry="0.7" fill="#8a7aa0" opacity="1.0"/><ellipse cx="178.8" cy="162.6" rx="1.3" ry="1.1" fill="#f0e0d8" opacity="1.0"/><ellipse cx="172.3" cy="154.3" rx="1.7" ry="1.3" fill="#c08a88" opacity="1.0"/><ellipse cx="120.7" cy="127.0" rx="1.5" ry="1.2" fill="#8a7aa0" opacity="1.0"/><ellipse cx="146.7" cy="166.3" rx="1.2" ry="1.0" fill="#6a5a68" opacity="1.0"/><ellipse cx="143.0" cy="135.9" rx="1.2" ry="0.9" fill="#6a5a68" opacity="1.0"/><ellipse cx="185.8" cy="133.8" rx="1.3" ry="1.0" fill="#c08a88" opacity="1.0"/><ellipse cx="180.9" cy="164.7" rx="1.2" ry="1.0" fill="#f0e0d8" opacity="1.0"/><ellipse cx="138.9" cy="172.6" rx="1.0" ry="0.8" fill="#c08a88" opacity="1.0"/><ellipse cx="159.8" cy="119.7" rx="1.1" ry="0.9" fill="#f0e0d8" opacity="1.0"/><ellipse cx="184.4" cy="119.5" rx="1.7" ry="1.4" fill="#f0e0d8" opacity="1.0"/><ellipse cx="134.6" cy="124.2" rx="1.3" ry="1.1" fill="#8a7aa0" opacity="1.0"/><ellipse cx="125.3" cy="167.1" rx="0.9" ry="0.7" fill="#8a7aa0" opacity="1.0"/><ellipse cx="152.0" cy="134.6" rx="1.0" ry="0.8" fill="#f0e0d8" opacity="1.0"/><ellipse cx="169.1" cy="151.1" rx="1.5" ry="1.2" fill="#f0e0d8" opacity="1.0"/><ellipse cx="192.6" cy="173.3" rx="0.9" ry="0.7" fill="#8a7aa0" opacity="1.0"/><ellipse cx="161.6" cy="118.7" rx="1.4" ry="1.1" fill="#6a5a68" opacity="1.0"/><ellipse cx="130.2" cy="153.5" rx="1.8" ry="1.4" fill="#f0e0d8" opacity="1.0"/><ellipse cx="129.1" cy="168.4" rx="1.0" ry="0.8" fill="#f0e0d8" opacity="1.0"/><ellipse cx="121.6" cy="136.5" rx="1.7" ry="1.3" fill="#6a5a68" opacity="1.0"/><ellipse cx="174.7" cy="133.3" rx="0.9" ry="0.7" fill="#8a7aa0" opacity="1.0"/><ellipse cx="141.6" cy="140.7" rx="1.3" ry="1.0" fill="#6a5a68" opacity="1.0"/><ellipse cx="173.1" cy="120.5" rx="1.0" ry="0.8" fill="#c08a88" opacity="1.0"/><ellipse cx="157.4" cy="128.5" rx="1.7" ry="1.4" fill="#8a7aa0" opacity="1.0"/><ellipse cx="187.4" cy="129.3" rx="1.0" ry="0.8" fill="#6a5a68" opacity="1.0"/><ellipse cx="186.6" cy="161.1" rx="1.1" ry="0.9" fill="#6a5a68" opacity="1.0"/><path d="M0 212 L118 162 L122 170 L0 224 Z" fill="#4d6fc0"/><path d="M142 150 L193 128 L193 140 L146 158 Z" fill="#5a78c6"/><path d="M150 160 L180 150 L182 156 L152 166 Z" fill="#6a84cc"/><path d="M0 224 L122 170 L126 178 L0 234 Z" fill="#4a3e36" opacity="0.75"/><rect x="175" y="150" width="1.5" height="60" fill="#8a8070"/><ellipse cx="66.2" cy="215.4" rx="24.2" ry="5.7" transform="rotate(-173 66.2 215.4)" fill="#2f6a2a"/><ellipse cx="66.9" cy="212.9" rx="24.2" ry="5.7" transform="rotate(-164 66.9 212.9)" fill="#5a9a44"/><ellipse cx="71.0" cy="207.5" rx="24.2" ry="5.7" transform="rotate(-140 71.0 207.5)" fill="#2f6a2a"/><ellipse cx="73.6" cy="205.6" rx="24.2" ry="5.7" transform="rotate(-131 73.6 205.6)" fill="#5a9a44"/><ellipse cx="81.3" cy="202.6" rx="24.2" ry="5.7" transform="rotate(-108 81.3 202.6)" fill="#2f6a2a"/><ellipse cx="84.9" cy="202.0" rx="24.2" ry="5.7" transform="rotate(-98 84.9 202.0)" fill="#5a9a44"/><ellipse cx="93.7" cy="202.4" rx="24.2" ry="5.7" transform="rotate(-75 93.7 202.4)" fill="#2f6a2a"/><ellipse cx="97.1" cy="203.3" rx="24.2" ry="5.7" transform="rotate(-65 97.1 203.3)" fill="#5a9a44"/><ellipse cx="104.3" cy="206.9" rx="24.2" ry="5.7" transform="rotate(-42 104.3 206.9)" fill="#2f6a2a"/><ellipse cx="106.5" cy="209.0" rx="24.2" ry="5.7" transform="rotate(-33 106.5 209.0)" fill="#5a9a44"/><ellipse cx="109.7" cy="214.7" rx="24.2" ry="5.7" transform="rotate(-9 109.7 214.7)" fill="#2f6a2a"/><ellipse cx="110.0" cy="217.3" rx="24.2" ry="5.7" transform="rotate(-0 110.0 217.3)" fill="#5a9a44"/><ellipse cx="106.9" cy="218.6" rx="19.8" ry="5.3" transform="rotate(17 106.9 218.6)" fill="#2f6a2a"/><ellipse cx="100.3" cy="226.1" rx="19.8" ry="5.3" transform="rotate(52 100.3 226.1)" fill="#2f6a2a"/><ellipse cx="89.4" cy="229.4" rx="19.8" ry="5.3" transform="rotate(86 89.4 229.4)" fill="#2f6a2a"/><ellipse cx="78.0" cy="227.3" rx="19.8" ry="5.3" transform="rotate(120 78.0 227.3)" fill="#2f6a2a"/><ellipse cx="70.1" cy="220.6" rx="19.8" ry="5.3" transform="rotate(155 70.1 220.6)" fill="#2f6a2a"/><ellipse cx="153.1" cy="228.3" rx="16.5" ry="3.9" transform="rotate(-173 153.1 228.3)" fill="#3a7230"/><ellipse cx="153.6" cy="226.6" rx="16.5" ry="3.9" transform="rotate(-164 153.6 226.6)" fill="#62a04a"/><ellipse cx="156.4" cy="222.9" rx="16.5" ry="3.9" transform="rotate(-140 156.4 222.9)" fill="#3a7230"/><ellipse cx="158.2" cy="221.7" rx="16.5" ry="3.9" transform="rotate(-131 158.2 221.7)" fill="#62a04a"/><ellipse cx="163.4" cy="219.6" rx="16.5" ry="3.9" transform="rotate(-108 163.4 219.6)" fill="#3a7230"/><ellipse cx="165.9" cy="219.2" rx="16.5" ry="3.9" transform="rotate(-98 165.9 219.2)" fill="#62a04a"/><ellipse cx="171.9" cy="219.5" rx="16.5" ry="3.9" transform="rotate(-75 171.9 219.5)" fill="#3a7230"/><ellipse cx="174.2" cy="220.0" rx="16.5" ry="3.9" transform="rotate(-65 174.2 220.0)" fill="#62a04a"/><ellipse cx="179.1" cy="222.5" rx="16.5" ry="3.9" transform="rotate(-42 179.1 222.5)" fill="#3a7230"/><ellipse cx="180.6" cy="223.9" rx="16.5" ry="3.9" transform="rotate(-33 180.6 223.9)" fill="#62a04a"/><ellipse cx="182.8" cy="227.9" rx="16.5" ry="3.9" transform="rotate(-9 182.8 227.9)" fill="#3a7230"/><ellipse cx="183.0" cy="229.6" rx="16.5" ry="3.9" transform="rotate(-0 183.0 229.6)" fill="#62a04a"/><ellipse cx="180.9" cy="231.1" rx="13.5" ry="3.6" transform="rotate(17 180.9 231.1)" fill="#3a7230"/><ellipse cx="176.4" cy="236.2" rx="13.5" ry="3.6" transform="rotate(52 176.4 236.2)" fill="#3a7230"/><ellipse cx="169.0" cy="238.5" rx="13.5" ry="3.6" transform="rotate(86 169.0 238.5)" fill="#3a7230"/><ellipse cx="161.2" cy="237.1" rx="13.5" ry="3.6" transform="rotate(120 161.2 237.1)" fill="#3a7230"/><ellipse cx="155.8" cy="232.5" rx="13.5" ry="3.6" transform="rotate(155 155.8 232.5)" fill="#3a7230"/></svg>
<div style="position:absolute;left:584px;top:1369.2px;width:172.5px;height:33.59999999999991px;background:#a6d3ae;"></div>
<div style="position:absolute;left:758px;top:1369.2px;width:173px;height:33.59999999999991px;background:#dce14c;"></div>
<div style="position:absolute;left:933px;top:1369.2px;width:172px;height:33.59999999999991px;background:#fce53e;"></div>
<div style="position:absolute;left:1107px;top:1369.2px;width:172px;height:33.59999999999991px;background:#f8bb44;"></div>
<div style="position:absolute;left:277.5px;top:1402.8px;width:304.5px;height:33.799999999999955px;background:#e30a15;"></div>
<div style="position:absolute;left:584px;top:1402.8px;width:172.5px;height:33.799999999999955px;background:#e30a15;"></div>
<div style="position:absolute;left:758px;top:1402.8px;width:173px;height:33.799999999999955px;background:#e30a15;"></div>
<div style="position:absolute;left:933px;top:1402.8px;width:172px;height:33.799999999999955px;background:#e30a15;"></div>
<div style="position:absolute;left:1107px;top:1402.8px;width:172px;height:33.799999999999955px;background:#e30a15;"></div>
<div style="position:absolute;left:220px;top:1435.5px;width:58px;height:2.2px;background:#e30a15;"></div>
<div style="position:absolute;left:584px;top:1436.6px;width:172.5px;height:34.30000000000018px;background:#a6d3ae;"></div>
<div style="position:absolute;left:758px;top:1436.6px;width:173px;height:34.30000000000018px;background:#dce14c;"></div>
<div style="position:absolute;left:933px;top:1436.6px;width:172px;height:34.30000000000018px;background:#fce53e;"></div>
<div style="position:absolute;left:1107px;top:1436.6px;width:172px;height:34.30000000000018px;background:#f8bb44;"></div>
<div style="position:absolute;left:584px;top:1470.9px;width:172.5px;height:34.399999999999864px;background:#a6d3ae;"></div>
<div style="position:absolute;left:758px;top:1470.9px;width:173px;height:34.399999999999864px;background:#dce14c;"></div>
<div style="position:absolute;left:933px;top:1470.9px;width:172px;height:34.399999999999864px;background:#fce53e;"></div>
<div style="position:absolute;left:1107px;top:1470.9px;width:172px;height:34.399999999999864px;background:#f8bb44;"></div>
<div style="position:absolute;left:584px;top:1505.3px;width:172.5px;height:34.5px;background:#a6d3ae;"></div>
<div style="position:absolute;left:758px;top:1505.3px;width:173px;height:34.5px;background:#dce14c;"></div>
<div style="position:absolute;left:933px;top:1505.3px;width:172px;height:34.5px;background:#fce53e;"></div>
<div style="position:absolute;left:1107px;top:1505.3px;width:172px;height:34.5px;background:#f8bb44;"></div>
<div style="position:absolute;left:220px;top:1401.9px;width:1059px;height:1.8px;background:#161616;"></div>
<div style="position:absolute;left:584px;top:1436.6px;width:695px;height:0.01px;background:#000;"></div>
<div style="position:absolute;left:220px;top:1470.0px;width:1059px;height:1.8px;background:#161616;"></div>
<div style="position:absolute;left:220px;top:1504.4px;width:1059px;height:1.8px;background:#161616;"></div>
<div style="position:absolute;left:220px;top:1538.9px;width:1059px;height:1.8px;background:#161616;"></div>
<div style="position:absolute;left:220px;top:1540.7px;width:1059px;height:59.30000000000005px;background:#e2e2e1;"></div>
<div style="position:absolute;left:27px;top:1600px;width:1252px;height:2.5px;background:#0a0a0a;"></div>
<div style="position:absolute;left:27px;top:1657px;width:336px;height:47.5px;background:#0a0a0a;"></div>
<div style="position:absolute;left:27px;top:1701.5px;width:1252px;height:3px;background:#0a0a0a;"></div>
<div style="position:absolute;left:190px;top:1674.4px;width:1.4px;height:20.6px;background:#e8e8e8;"></div>
<svg style="position:absolute;left:0;top:0;overflow:visible" width="1" height="1"><circle cx="258.5" cy="1677.0" r="5.5" fill="none" stroke="#c6aa7a" stroke-width="1.25"/><line x1="265.8" y1="1677.0" x2="268.9" y2="1677.0" stroke="#c6aa7a" stroke-width="1.2" stroke-linecap="butt"/><line x1="264.8" y1="1680.7" x2="267.5" y2="1682.2" stroke="#c6aa7a" stroke-width="1.2" stroke-linecap="butt"/><line x1="262.1" y1="1683.3" x2="263.7" y2="1686.0" stroke="#c6aa7a" stroke-width="1.2" stroke-linecap="butt"/><line x1="258.5" y1="1684.3" x2="258.5" y2="1687.4" stroke="#c6aa7a" stroke-width="1.2" stroke-linecap="butt"/><line x1="254.8" y1="1683.3" x2="253.3" y2="1686.0" stroke="#c6aa7a" stroke-width="1.2" stroke-linecap="butt"/><line x1="252.2" y1="1680.7" x2="249.5" y2="1682.2" stroke="#c6aa7a" stroke-width="1.2" stroke-linecap="butt"/><line x1="251.2" y1="1677.0" x2="248.1" y2="1677.0" stroke="#c6aa7a" stroke-width="1.2" stroke-linecap="butt"/><line x1="252.2" y1="1673.3" x2="249.5" y2="1671.8" stroke="#c6aa7a" stroke-width="1.2" stroke-linecap="butt"/><line x1="254.8" y1="1670.7" x2="253.3" y2="1668.0" stroke="#c6aa7a" stroke-width="1.2" stroke-linecap="butt"/><line x1="258.5" y1="1669.7" x2="258.5" y2="1666.6" stroke="#c6aa7a" stroke-width="1.2" stroke-linecap="butt"/><line x1="262.1" y1="1670.7" x2="263.7" y2="1668.0" stroke="#c6aa7a" stroke-width="1.2" stroke-linecap="butt"/><line x1="264.8" y1="1673.3" x2="267.5" y2="1671.8" stroke="#c6aa7a" stroke-width="1.2" stroke-linecap="butt"/><circle cx="279.2" cy="1677.0" r="5.5" fill="none" stroke="#c6aa7a" stroke-width="1.25"/><line x1="286.5" y1="1677.0" x2="289.6" y2="1677.0" stroke="#c6aa7a" stroke-width="1.2" stroke-linecap="butt"/><line x1="285.5" y1="1680.7" x2="288.2" y2="1682.2" stroke="#c6aa7a" stroke-width="1.2" stroke-linecap="butt"/><line x1="282.8" y1="1683.3" x2="284.4" y2="1686.0" stroke="#c6aa7a" stroke-width="1.2" stroke-linecap="butt"/><line x1="279.2" y1="1684.3" x2="279.2" y2="1687.4" stroke="#c6aa7a" stroke-width="1.2" stroke-linecap="butt"/><line x1="275.6" y1="1683.3" x2="274.0" y2="1686.0" stroke="#c6aa7a" stroke-width="1.2" stroke-linecap="butt"/><line x1="272.9" y1="1680.7" x2="270.2" y2="1682.2" stroke="#c6aa7a" stroke-width="1.2" stroke-linecap="butt"/><line x1="271.9" y1="1677.0" x2="268.8" y2="1677.0" stroke="#c6aa7a" stroke-width="1.2" stroke-linecap="butt"/><line x1="272.9" y1="1673.3" x2="270.2" y2="1671.8" stroke="#c6aa7a" stroke-width="1.2" stroke-linecap="butt"/><line x1="275.6" y1="1670.7" x2="274.0" y2="1668.0" stroke="#c6aa7a" stroke-width="1.2" stroke-linecap="butt"/><line x1="279.2" y1="1669.7" x2="279.2" y2="1666.6" stroke="#c6aa7a" stroke-width="1.2" stroke-linecap="butt"/><line x1="282.8" y1="1670.7" x2="284.4" y2="1668.0" stroke="#c6aa7a" stroke-width="1.2" stroke-linecap="butt"/><line x1="285.5" y1="1673.3" x2="288.2" y2="1671.8" stroke="#c6aa7a" stroke-width="1.2" stroke-linecap="butt"/><circle cx="299.9" cy="1677.0" r="5.5" fill="none" stroke="#c6aa7a" stroke-width="1.25"/><line x1="307.2" y1="1677.0" x2="310.3" y2="1677.0" stroke="#c6aa7a" stroke-width="1.2" stroke-linecap="butt"/><line x1="306.2" y1="1680.7" x2="308.9" y2="1682.2" stroke="#c6aa7a" stroke-width="1.2" stroke-linecap="butt"/><line x1="303.5" y1="1683.3" x2="305.1" y2="1686.0" stroke="#c6aa7a" stroke-width="1.2" stroke-linecap="butt"/><line x1="299.9" y1="1684.3" x2="299.9" y2="1687.4" stroke="#c6aa7a" stroke-width="1.2" stroke-linecap="butt"/><line x1="296.2" y1="1683.3" x2="294.7" y2="1686.0" stroke="#c6aa7a" stroke-width="1.2" stroke-linecap="butt"/><line x1="293.6" y1="1680.7" x2="290.9" y2="1682.2" stroke="#c6aa7a" stroke-width="1.2" stroke-linecap="butt"/><line x1="292.6" y1="1677.0" x2="289.5" y2="1677.0" stroke="#c6aa7a" stroke-width="1.2" stroke-linecap="butt"/><line x1="293.6" y1="1673.3" x2="290.9" y2="1671.8" stroke="#c6aa7a" stroke-width="1.2" stroke-linecap="butt"/><line x1="296.2" y1="1670.7" x2="294.7" y2="1668.0" stroke="#c6aa7a" stroke-width="1.2" stroke-linecap="butt"/><line x1="299.9" y1="1669.7" x2="299.9" y2="1666.6" stroke="#c6aa7a" stroke-width="1.2" stroke-linecap="butt"/><line x1="303.5" y1="1670.7" x2="305.1" y2="1668.0" stroke="#c6aa7a" stroke-width="1.2" stroke-linecap="butt"/><line x1="306.2" y1="1673.3" x2="308.9" y2="1671.8" stroke="#c6aa7a" stroke-width="1.2" stroke-linecap="butt"/><circle cx="320.6" cy="1677.0" r="5.5" fill="none" stroke="#c6aa7a" stroke-width="1.25"/><line x1="327.9" y1="1677.0" x2="331.0" y2="1677.0" stroke="#c6aa7a" stroke-width="1.2" stroke-linecap="butt"/><line x1="326.9" y1="1680.7" x2="329.6" y2="1682.2" stroke="#c6aa7a" stroke-width="1.2" stroke-linecap="butt"/><line x1="324.2" y1="1683.3" x2="325.8" y2="1686.0" stroke="#c6aa7a" stroke-width="1.2" stroke-linecap="butt"/><line x1="320.6" y1="1684.3" x2="320.6" y2="1687.4" stroke="#c6aa7a" stroke-width="1.2" stroke-linecap="butt"/><line x1="317.0" y1="1683.3" x2="315.4" y2="1686.0" stroke="#c6aa7a" stroke-width="1.2" stroke-linecap="butt"/><line x1="314.3" y1="1680.7" x2="311.6" y2="1682.2" stroke="#c6aa7a" stroke-width="1.2" stroke-linecap="butt"/><line x1="313.3" y1="1677.0" x2="310.2" y2="1677.0" stroke="#c6aa7a" stroke-width="1.2" stroke-linecap="butt"/><line x1="314.3" y1="1673.3" x2="311.6" y2="1671.8" stroke="#c6aa7a" stroke-width="1.2" stroke-linecap="butt"/><line x1="317.0" y1="1670.7" x2="315.4" y2="1668.0" stroke="#c6aa7a" stroke-width="1.2" stroke-linecap="butt"/><line x1="320.6" y1="1669.7" x2="320.6" y2="1666.6" stroke="#c6aa7a" stroke-width="1.2" stroke-linecap="butt"/><line x1="324.2" y1="1670.7" x2="325.8" y2="1668.0" stroke="#c6aa7a" stroke-width="1.2" stroke-linecap="butt"/><line x1="326.9" y1="1673.3" x2="329.6" y2="1671.8" stroke="#c6aa7a" stroke-width="1.2" stroke-linecap="butt"/><circle cx="341.3" cy="1677.0" r="5.5" fill="none" stroke="#c6aa7a" stroke-width="1.25"/><line x1="348.6" y1="1677.0" x2="351.7" y2="1677.0" stroke="#c6aa7a" stroke-width="1.2" stroke-linecap="butt"/><line x1="347.6" y1="1680.7" x2="350.3" y2="1682.2" stroke="#c6aa7a" stroke-width="1.2" stroke-linecap="butt"/><line x1="344.9" y1="1683.3" x2="346.5" y2="1686.0" stroke="#c6aa7a" stroke-width="1.2" stroke-linecap="butt"/><line x1="341.3" y1="1684.3" x2="341.3" y2="1687.4" stroke="#c6aa7a" stroke-width="1.2" stroke-linecap="butt"/><line x1="337.7" y1="1683.3" x2="336.1" y2="1686.0" stroke="#c6aa7a" stroke-width="1.2" stroke-linecap="butt"/><line x1="335.0" y1="1680.7" x2="332.3" y2="1682.2" stroke="#c6aa7a" stroke-width="1.2" stroke-linecap="butt"/><line x1="334.0" y1="1677.0" x2="330.9" y2="1677.0" stroke="#c6aa7a" stroke-width="1.2" stroke-linecap="butt"/><line x1="335.0" y1="1673.3" x2="332.3" y2="1671.8" stroke="#c6aa7a" stroke-width="1.2" stroke-linecap="butt"/><line x1="337.7" y1="1670.7" x2="336.1" y2="1668.0" stroke="#c6aa7a" stroke-width="1.2" stroke-linecap="butt"/><line x1="341.3" y1="1669.7" x2="341.3" y2="1666.6" stroke="#c6aa7a" stroke-width="1.2" stroke-linecap="butt"/><line x1="344.9" y1="1670.7" x2="346.5" y2="1668.0" stroke="#c6aa7a" stroke-width="1.2" stroke-linecap="butt"/><line x1="347.6" y1="1673.3" x2="350.3" y2="1671.8" stroke="#c6aa7a" stroke-width="1.2" stroke-linecap="butt"/></svg>
<svg style="position:absolute;left:27px;top:1704.5px" width="193" height="140.79999999999995" viewBox="0 0 193 140.79999999999995" preserveAspectRatio="none"><rect width="193" height="140.79999999999995" fill="#d6d5cf"/><path d="M0 0 L193 0 L193 40 L150 50 L100 32 L30 8 L0 20 Z" fill="#cdc9be"/><path d="M88 0 L148 0 L148 36 L122 36 L95 25 Z" fill="#62a040"/><path d="M125 0 L140 0 L118 36 L108 33 Z" fill="#3a5a30"/><path d="M45 0 L85 0 L85 22 L50 10 Z" fill="#50564c"/><path d="M0 8 L18 4 L22 20 L0 28 Z" fill="#8a8c88"/><path d="M180 22 L193 18 L193 60 L182 58 Z" fill="#5e9a3e"/><path d="M150 0 L193 0 L193 30 L165 45 Z" fill="#c4baa8"/><ellipse cx="148" cy="26" rx="14" ry="12" fill="#eeede8"/><ellipse cx="176" cy="46" rx="13" ry="10" fill="#eeede8"/><ellipse cx="154" cy="44" rx="8" ry="9" fill="#4a4a48" opacity="0.55"/><path d="M0 42 L31 19 L193 66 L193 74 L155 127 L0 64 Z" fill="#3ab6de"/><path d="M31 19 L193 66 L193 76 L25 28 Z" fill="#92d2e6"/><path d="M20 36 L185 80 L183 86 L16 42 Z" fill="#1b8dc0" opacity="0.45"/><ellipse cx="55.4" cy="59.1" rx="6.4" ry="1.5" fill="#56c0e6" opacity="0.7"/><ellipse cx="33.5" cy="50.1" rx="7.3" ry="1.5" fill="#1f98cc" opacity="0.7"/><ellipse cx="140.1" cy="106.0" rx="5.3" ry="1.5" fill="#1f98cc" opacity="0.7"/><ellipse cx="61.5" cy="63.3" rx="4.6" ry="1.5" fill="#56c0e6" opacity="0.7"/><ellipse cx="161.4" cy="86.1" rx="7.8" ry="1.5" fill="#1f98cc" opacity="0.7"/><ellipse cx="140.1" cy="86.0" rx="5.9" ry="1.5" fill="#1f98cc" opacity="0.7"/><ellipse cx="33.0" cy="70.4" rx="8.0" ry="1.5" fill="#56c0e6" opacity="0.7"/><ellipse cx="46.7" cy="69.6" rx="4.5" ry="1.5" fill="#1f98cc" opacity="0.7"/><ellipse cx="21.1" cy="56.1" rx="8.2" ry="1.5" fill="#1f98cc" opacity="0.7"/><ellipse cx="147.2" cy="99.0" rx="6.5" ry="1.5" fill="#1f98cc" opacity="0.7"/><ellipse cx="84.7" cy="69.4" rx="5.8" ry="1.5" fill="#56c0e6" opacity="0.7"/><ellipse cx="32.2" cy="65.2" rx="10.0" ry="1.5" fill="#1f98cc" opacity="0.7"/><ellipse cx="125.1" cy="80.1" rx="8.0" ry="1.5" fill="#56c0e6" opacity="0.7"/><ellipse cx="81.9" cy="70.0" rx="7.8" ry="1.5" fill="#1f98cc" opacity="0.7"/><ellipse cx="47.6" cy="68.6" rx="7.5" ry="1.5" fill="#56c0e6" opacity="0.7"/><ellipse cx="155.6" cy="87.1" rx="4.4" ry="1.5" fill="#56c0e6" opacity="0.7"/><ellipse cx="61.6" cy="77.6" rx="9.2" ry="1.5" fill="#56c0e6" opacity="0.7"/><ellipse cx="69.7" cy="65.7" rx="6.8" ry="1.5" fill="#56c0e6" opacity="0.7"/><ellipse cx="73.6" cy="63.5" rx="9.8" ry="1.5" fill="#1f98cc" opacity="0.7"/><ellipse cx="130.2" cy="110.1" rx="4.1" ry="1.5" fill="#1f98cc" opacity="0.7"/><ellipse cx="68.3" cy="64.5" rx="7.9" ry="1.5" fill="#56c0e6" opacity="0.7"/><ellipse cx="64.0" cy="64.6" rx="6.7" ry="1.5" fill="#56c0e6" opacity="0.7"/><ellipse cx="57.5" cy="77.1" rx="5.0" ry="1.5" fill="#56c0e6" opacity="0.7"/><ellipse cx="74.5" cy="76.8" rx="6.2" ry="1.5" fill="#1f98cc" opacity="0.7"/><ellipse cx="169.6" cy="107.5" rx="6.6" ry="1.5" fill="#56c0e6" opacity="0.7"/><ellipse cx="122" cy="58" rx="2.5" ry="4" fill="#3a3030"/><ellipse cx="125" cy="78" rx="2.5" ry="4" fill="#3a3030"/><ellipse cx="166" cy="72" rx="3" ry="4" fill="#3a3030"/><path d="M0 88 L22 86 L25 100 L0 112 Z" fill="#5c3c2c"/><path d="M20 115 L50 102 L55 114 L28 132 Z" fill="#5c3c2c"/><path d="M55 110 L82 108 L85 122 L62 140 L50 136 Z" fill="#5c3c2c"/><path d="M42 126 L70 121 L72 139 L47 141 Z" fill="#d47a9a"/><path d="M95 128 L108 126 L110 141 L95 141 Z" fill="#6a4a48"/><path d="M165 105 L193 95 L193 140.79999999999995 L150 140.79999999999995 Z" fill="#e8e8e4"/><path d="M160 120 L193 110 L193 120 L165 128 Z" fill="#b8b8b4"/></svg>
<div style="position:absolute;left:584px;top:1704.5px;width:172.5px;height:33.5px;background:#a6d3ae;"></div>
<div style="position:absolute;left:758px;top:1704.5px;width:173px;height:33.5px;background:#dce14c;"></div>
<div style="position:absolute;left:933px;top:1704.5px;width:172px;height:33.5px;background:#fce53e;"></div>
<div style="position:absolute;left:1107px;top:1704.5px;width:172px;height:33.5px;background:#f8bb44;"></div>
<div style="position:absolute;left:277.5px;top:1738px;width:304.5px;height:34px;background:#e30a15;"></div>
<div style="position:absolute;left:584px;top:1738px;width:172.5px;height:34px;background:#e30a15;"></div>
<div style="position:absolute;left:758px;top:1738px;width:173px;height:34px;background:#e30a15;"></div>
<div style="position:absolute;left:933px;top:1738px;width:172px;height:34px;background:#e30a15;"></div>
<div style="position:absolute;left:1107px;top:1738px;width:172px;height:34px;background:#e30a15;"></div>
<div style="position:absolute;left:220px;top:1770.9px;width:58px;height:2.2px;background:#e30a15;"></div>
<div style="position:absolute;left:584px;top:1772px;width:172.5px;height:34.5px;background:#a6d3ae;"></div>
<div style="position:absolute;left:758px;top:1772px;width:173px;height:34.5px;background:#dce14c;"></div>
<div style="position:absolute;left:933px;top:1772px;width:172px;height:34.5px;background:#fce53e;"></div>
<div style="position:absolute;left:1107px;top:1772px;width:172px;height:34.5px;background:#f8bb44;"></div>
<div style="position:absolute;left:220px;top:1737.1px;width:1059px;height:1.8px;background:#161616;"></div>
<div style="position:absolute;left:584px;top:1772.0px;width:695px;height:0.01px;background:#000;"></div>
<div style="position:absolute;left:220px;top:1805.6px;width:1059px;height:1.8px;background:#161616;"></div>
<div style="position:absolute;left:220px;top:1807.4px;width:1059px;height:37.899999999999956px;background:#e2e2e1;"></div>
<div style="position:absolute;left:27px;top:1845.3px;width:1252px;height:2.5px;background:#0a0a0a;"></div>
<div class="t" style="left:-1.0px;top:12.00px;font-size:50px;font-family:'Liberation Serif', serif;font-weight:normal;color:#111;transform:scaleX(0.8667);transform-origin:0 0;-webkit-text-stroke:0;">340</div>
<div class="t" style="left:27.4px;top:86.80px;font-size:50px;font-family:'Liberation Serif', serif;font-weight:normal;color:#2a2a2a;transform:scaleX(0.9812);transform-origin:0 0;-webkit-text-stroke:0;">Strediská</div>
<div class="t" style="left:224.0px;top:86.80px;font-size:50px;font-family:'Liberation Serif', serif;font-weight:normal;color:#2a2a2a;transform:scaleX(0.7040);transform-origin:0 0;-webkit-text-stroke:0;">»</div>
<div class="t" style="left:256.0px;top:86.80px;font-size:50px;font-family:'Liberation Serif', serif;font-weight:normal;color:#2a2a2a;transform:scaleX(0.8987);transform-origin:0 0;-webkit-text-stroke:0;">Salou,</div>
<div class="t" style="left:384.0px;top:86.80px;font-size:50px;font-family:'Liberation Serif', serif;font-weight:normal;color:#2a2a2a;transform:scaleX(0.9184);transform-origin:0 0;-webkit-text-stroke:0;">Coma-Ruga,</div>
<div class="t" style="left:629.6px;top:86.80px;font-size:50px;font-family:'Liberation Serif', serif;font-weight:normal;color:#2a2a2a;transform:scaleX(0.8690);transform-origin:0 0;-webkit-text-stroke:0;">Calafell,</div>
<div class="t" style="left:792.8px;top:86.80px;font-size:50px;font-family:'Liberation Serif', serif;font-weight:normal;color:#2a2a2a;transform:scaleX(0.8933);transform-origin:0 0;-webkit-text-stroke:0;">Calella</div>
<div class="t" style="left:932.0px;top:86.80px;font-size:50px;font-family:'Liberation Serif', serif;font-weight:normal;color:#2a2a2a;transform:scaleX(0.9458);transform-origin:0 0;-webkit-text-stroke:0;">a</div>
<div class="t" style="left:965.8px;top:86.80px;font-size:50px;font-family:'Liberation Serif', serif;font-weight:normal;color:#2a2a2a;transform:scaleX(0.9469);transform-origin:0 0;-webkit-text-stroke:0;">Santa</div>
<div class="t" style="left:1084.0px;top:86.80px;font-size:50px;font-family:'Liberation Serif', serif;font-weight:normal;color:#2a2a2a;transform:scaleX(0.9631);transform-origin:0 0;-webkit-text-stroke:0;">Susanna</div>
<div class="t" style="left:28.0px;top:166.20px;font-size:30px;font-family:'Liberation Serif', serif;font-weight:normal;color:#1a1a1a;transform:scaleX(0.9065);transform-origin:0 0;font-style:italic;-webkit-text-stroke:0;">Ponúkame vám »</div>
<div class="t" style="left:220.0px;top:169.20px;font-size:19.5px;font-family:'Liberation Sans', sans-serif;font-weight:normal;color:#1a1a1a;transform:scaleX(0.9410);transform-origin:0 0;">8 a 15-dňové letecké po-</div>
<div class="t" style="left:28.0px;top:194.60px;font-size:19.5px;font-family:'Liberation Sans', sans-serif;font-weight:normal;color:#1a1a1a;transform:scaleX(0.9225);transform-origin:0 0;">bytové zájazdy do Španielska.</div>
<div class="t" style="left:28.0px;top:232.60px;font-size:30px;font-family:'Liberation Serif', serif;font-weight:normal;color:#1a1a1a;transform:scaleX(0.8846);transform-origin:0 0;font-style:italic;-webkit-text-stroke:0;">Lietame »</div>
<div class="t" style="left:139.0px;top:235.60px;font-size:19.5px;font-family:'Liberation Sans', sans-serif;font-weight:normal;color:#1a1a1a;transform:scaleX(0.9195);transform-origin:0 0;">priamymi letmi z Bratislavy <i>(BTS)</i></div>
<div class="t" style="left:28.0px;top:262.00px;font-size:19.5px;font-family:'Liberation Sans', sans-serif;font-weight:normal;color:#1a1a1a;transform:scaleX(0.9179);transform-origin:0 0;">na letisko v Barcelone <i>(BCN)</i>. Let trvá približne 2</div>
<div class="t" style="left:28.0px;top:288.60px;font-size:19.5px;font-family:'Liberation Sans', sans-serif;font-weight:normal;color:#1a1a1a;transform:scaleX(0.9538);transform-origin:0 0;">hodiny a 30 minút.</div>
<div class="t" style="left:28.0px;top:326.20px;font-size:30px;font-family:'Liberation Serif', serif;font-weight:normal;color:#1a1a1a;transform:scaleX(0.8897);transform-origin:0 0;font-style:italic;-webkit-text-stroke:0;">Povinné príplatky »</div>
<div class="t" style="left:243.0px;top:329.20px;font-size:19.5px;font-family:'Liberation Sans', sans-serif;font-weight:normal;color:#1a1a1a;transform:scaleX(0.9471);transform-origin:0 0;">servisné poplatky <i>(le-</i></div>
<div class="t" style="left:28.0px;top:354.90px;font-size:19.5px;font-family:'Liberation Sans', sans-serif;font-weight:normal;color:#1a1a1a;transform:scaleX(0.9116);transform-origin:0 0;"><i>tiskové poplatky, bezpečnostná taxa, iné poplatky</i></div>
<div class="t" style="left:28.0px;top:382.40px;font-size:19.5px;font-family:'Liberation Sans', sans-serif;font-weight:normal;color:#1a1a1a;transform:scaleX(0.8944);transform-origin:0 0;"><i>súvisiace s vykonaním leteckej dopravy a transfery</i></div>
<div class="t" style="left:28.0px;top:408.60px;font-size:19.5px;font-family:'Liberation Sans', sans-serif;font-weight:normal;color:#1a1a1a;transform:scaleX(0.9052);transform-origin:0 0;"><i>v cieľovej destinácii)</i> na dieťa do 2 rokov 69 € a na</div>
<div class="t" style="left:28.0px;top:434.90px;font-size:19.5px;font-family:'Liberation Sans', sans-serif;font-weight:normal;color:#1a1a1a;transform:scaleX(0.9386);transform-origin:0 0;">osobu od 2 rokov 199 € » emisný environmentál-</div>
<div class="t" style="left:28.0px;top:461.10px;font-size:19.5px;font-family:'Liberation Sans', sans-serif;font-weight:normal;color:#1a1a1a;transform:scaleX(0.9368);transform-origin:0 0;">ny príplatok 30 € na osobu od 2 rokov » palivový</div>
<div class="t" style="left:28.0px;top:488.00px;font-size:19.5px;font-family:'Liberation Sans', sans-serif;font-weight:normal;color:#1a1a1a;transform:scaleX(0.9683);transform-origin:0 0;">príplatok » ekologická/pobytová/turistická daň</div>
<div class="t" style="left:28.0px;top:514.20px;font-size:19.5px;font-family:'Liberation Sans', sans-serif;font-weight:normal;color:#1a1a1a;transform:scaleX(0.9411);transform-origin:0 0;">hradená na mieste pobytu vo výške približne cca</div>
<div class="t" style="left:28.0px;top:541.10px;font-size:19.5px;font-family:'Liberation Sans', sans-serif;font-weight:normal;color:#1a1a1a;transform:scaleX(0.9127);transform-origin:0 0;">1 až 4 € na osobu a deň zájazdu v závislosti od</div>
<div class="t" style="left:28.0px;top:567.40px;font-size:19.5px;font-family:'Liberation Sans', sans-serif;font-weight:normal;color:#1a1a1a;transform:scaleX(0.9551);transform-origin:0 0;">oficiálnej triedy hotela. Deti do 16 rokov môžu</div>
<div class="t" style="left:28.0px;top:593.60px;font-size:19.5px;font-family:'Liberation Sans', sans-serif;font-weight:normal;color:#1a1a1a;transform:scaleX(0.9380);transform-origin:0 0;">byť od dane oslobodené. CK nemôže ovplyvniť</div>
<div class="t" style="left:28.0px;top:619.60px;font-size:19.5px;font-family:'Liberation Sans', sans-serif;font-weight:normal;color:#1a1a1a;transform:scaleX(0.9412);transform-origin:0 0;">výšku a zmenu poplatku.</div>
<div class="t" style="left:454.7px;top:166.20px;font-size:30px;font-family:'Liberation Serif', serif;font-weight:normal;color:#1a1a1a;transform:scaleX(0.8739);transform-origin:0 0;font-style:italic;-webkit-text-stroke:0;">Príplatok »</div>
<div class="t" style="left:580.5px;top:169.20px;font-size:19.5px;font-family:'Liberation Sans', sans-serif;font-weight:normal;color:#1a1a1a;transform:scaleX(0.9504);transform-origin:0 0;">komplexné cestovné poistenie</div>
<div class="t" style="left:455.0px;top:194.90px;font-size:19.5px;font-family:'Liberation Sans', sans-serif;font-weight:normal;color:#1a1a1a;transform:scaleX(0.8784);transform-origin:0 0;">KOMFORT <i>(4,40 € na osobu a deň zájazdu)</i> ale-</div>
<div class="t" style="left:455.0px;top:221.60px;font-size:19.5px;font-family:'Liberation Sans', sans-serif;font-weight:normal;color:#1a1a1a;transform:scaleX(0.8892);transform-origin:0 0;">bo PLUS <i>(5,60 € na osobu a deň zájazdu)</i> vrátane</div>
<div class="t" style="left:455.0px;top:248.00px;font-size:19.5px;font-family:'Liberation Sans', sans-serif;font-weight:normal;color:#1a1a1a;transform:scaleX(0.9460);transform-origin:0 0;">poistenia stornopoplatkov, COVID poistenia,</div>
<div class="t" style="left:455.0px;top:274.90px;font-size:19.5px;font-family:'Liberation Sans', sans-serif;font-weight:normal;color:#1a1a1a;transform:scaleX(0.9055);transform-origin:0 0;">servisných a asistenčných služieb CK <i>(bližšie in-</i></div>
<div class="t" style="left:455.0px;top:301.10px;font-size:19.5px;font-family:'Liberation Sans', sans-serif;font-weight:normal;color:#1a1a1a;transform:scaleX(0.8984);transform-origin:0 0;"><i>formácie o poistení nájdete na str. 402)</i>. V prípade,</div>
<div class="t" style="left:455.0px;top:328.00px;font-size:19.5px;font-family:'Liberation Sans', sans-serif;font-weight:normal;color:#1a1a1a;transform:scaleX(0.9376);transform-origin:0 0;">že si klient nezakúpi k zájazdu toto cestovné po-</div>
<div class="t" style="left:455.0px;top:354.20px;font-size:19.5px;font-family:'Liberation Sans', sans-serif;font-weight:normal;color:#1a1a1a;transform:scaleX(0.9193);transform-origin:0 0;">istenie, zníži sa mu aktuálne platná zľava na zá-</div>
<div class="t" style="left:455.0px;top:380.60px;font-size:19.5px;font-family:'Liberation Sans', sans-serif;font-weight:normal;color:#1a1a1a;transform:scaleX(0.9005);transform-origin:0 0;">jazd o 2%.</div>
<div class="t" style="left:454.7px;top:418.10px;font-size:30px;font-family:'Liberation Serif', serif;font-weight:normal;color:#1a1a1a;transform:scaleX(0.8785);transform-origin:0 0;font-style:italic;-webkit-text-stroke:0;">Dvojtermín »</div>
<div class="t" style="left:600.8px;top:421.10px;font-size:19.5px;font-family:'Liberation Sans', sans-serif;font-weight:normal;color:#1a1a1a;transform:scaleX(0.9607);transform-origin:0 0;">cena 15-dňového leteckého</div>
<div class="t" style="left:455.0px;top:447.35px;font-size:19.5px;font-family:'Liberation Sans', sans-serif;font-weight:normal;color:#1a1a1a;transform:scaleX(0.9417);transform-origin:0 0;">zájazdu do Španielska predstavuje súčet dvoch</div>
<div class="t" style="left:455.0px;top:474.85px;font-size:19.5px;font-family:'Liberation Sans', sans-serif;font-weight:normal;color:#1a1a1a;transform:scaleX(0.9555);transform-origin:0 0;">za sebou nasledujúcich 7-nocových termínov,</div>
<div class="t" style="left:455.0px;top:501.10px;font-size:19.5px;font-family:'Liberation Sans', sans-serif;font-weight:normal;color:#1a1a1a;transform:scaleX(0.9553);transform-origin:0 0;">od ktorého treba odpočítať čiastku 290 €.</div>
<div class="t" style="left:454.5px;top:538.10px;font-size:30px;font-family:'Liberation Serif', serif;font-weight:normal;color:#1a1a1a;transform:scaleX(0.8612);transform-origin:0 0;font-style:italic;-webkit-text-stroke:0;">Zľavy »</div>
<div class="t" style="left:540.6px;top:541.10px;font-size:19.5px;font-family:'Liberation Sans', sans-serif;font-weight:normal;color:#1a1a1a;transform:scaleX(0.9546);transform-origin:0 0;">podmienky uplatňovania zliav sú uve-</div>
<div class="t" style="left:455.0px;top:566.60px;font-size:19.5px;font-family:'Liberation Sans', sans-serif;font-weight:normal;color:#1a1a1a;transform:scaleX(0.9115);transform-origin:0 0;">dené na str. 400-401.</div>
<div class="t" style="left:1004.0px;top:160.00px;font-size:30px;font-family:'Liberation Sans', sans-serif;font-weight:bold;color:#ae173e;transform:scaleX(1.0282);transform-origin:0 0;">8 alebo 15 dní</div>
<div class="t" style="left:955.0px;top:197.00px;font-size:28px;font-family:'Liberation Sans', sans-serif;font-weight:normal;color:#111;transform:scaleX(0.9282);transform-origin:0 0;">letecky na 7 alebo 14 nocí</div>
<div class="t" style="left:960.8px;top:244.20px;font-size:17.5px;font-family:'Liberation Sans', sans-serif;font-weight:normal;color:#1a1a1a;transform:scaleX(0.8863);transform-origin:0 0;">Kód</div>
<div class="t" style="left:947.3px;top:266.80px;font-size:17.5px;font-family:'Liberation Sans', sans-serif;font-weight:normal;color:#1a1a1a;transform:scaleX(0.9017);transform-origin:0 0;">zájazdu</div>
<div class="t" style="left:1040.0px;top:244.20px;font-size:17.5px;font-family:'Liberation Sans', sans-serif;font-weight:normal;color:#1a1a1a;transform:scaleX(0.8465);transform-origin:0 0;">ODLET</div>
<div class="t" style="left:1053.5px;top:266.80px;font-size:17.5px;font-family:'Liberation Sans', sans-serif;font-weight:bold;color:#1a1a1a;transform:scaleX(0.8702);transform-origin:0 0;">BA</div>
<div class="t" style="left:1137.3px;top:244.20px;font-size:17.5px;font-family:'Liberation Sans', sans-serif;font-weight:normal;color:#1a1a1a;transform:scaleX(0.8029);transform-origin:0 0;">PRÍLET</div>
<div class="t" style="left:1151.2px;top:266.80px;font-size:17.5px;font-family:'Liberation Sans', sans-serif;font-weight:bold;color:#1a1a1a;transform:scaleX(0.8702);transform-origin:0 0;">BA</div>
<div class="t" style="left:1225.3px;top:244.20px;font-size:17.5px;font-family:'Liberation Sans', sans-serif;font-weight:normal;color:#1a1a1a;transform:scaleX(0.8939);transform-origin:0 0;">Počet</div>
<div class="t" style="left:1229.8px;top:266.80px;font-size:17.5px;font-family:'Liberation Sans', sans-serif;font-weight:normal;color:#1a1a1a;transform:scaleX(0.9160);transform-origin:0 0;">nocí</div>
<div class="t" style="left:954.9px;top:297.90px;font-size:17.5px;font-family:'Liberation Sans', sans-serif;font-weight:normal;color:#1a1a1a;transform:scaleX(0.9600);transform-origin:0 0;">4101</div>
<div class="t" style="left:1043.3px;top:297.70px;font-size:17.5px;font-family:'Liberation Sans', sans-serif;font-weight:bold;color:#1a1a1a;transform:scaleX(1.0900);transform-origin:0 0;">12.6.</div>
<div class="t" style="left:1140.3px;top:297.70px;font-size:17.5px;font-family:'Liberation Sans', sans-serif;font-weight:bold;color:#1a1a1a;transform:scaleX(1.0900);transform-origin:0 0;">19.6.</div>
<div class="t" style="left:1240.1px;top:297.70px;font-size:17.5px;font-family:'Liberation Sans', sans-serif;font-weight:normal;color:#1a1a1a;">7</div>
<div class="t" style="left:954.9px;top:325.45px;font-size:17.5px;font-family:'Liberation Sans', sans-serif;font-weight:normal;color:#1a1a1a;transform:scaleX(0.9600);transform-origin:0 0;">4102</div>
<div class="t" style="left:1043.3px;top:325.25px;font-size:17.5px;font-family:'Liberation Sans', sans-serif;font-weight:bold;color:#1a1a1a;transform:scaleX(1.0900);transform-origin:0 0;">19.6.</div>
<div class="t" style="left:1140.3px;top:325.25px;font-size:17.5px;font-family:'Liberation Sans', sans-serif;font-weight:bold;color:#1a1a1a;transform:scaleX(1.0900);transform-origin:0 0;">26.6.</div>
<div class="t" style="left:1240.1px;top:325.25px;font-size:17.5px;font-family:'Liberation Sans', sans-serif;font-weight:normal;color:#1a1a1a;">7</div>
<div class="t" style="left:954.9px;top:353.00px;font-size:17.5px;font-family:'Liberation Sans', sans-serif;font-weight:normal;color:#1a1a1a;transform:scaleX(0.9600);transform-origin:0 0;">4103</div>
<div class="t" style="left:1043.3px;top:352.80px;font-size:17.5px;font-family:'Liberation Sans', sans-serif;font-weight:bold;color:#1a1a1a;transform:scaleX(1.0900);transform-origin:0 0;">26.6.</div>
<div class="t" style="left:1145.6px;top:352.80px;font-size:17.5px;font-family:'Liberation Sans', sans-serif;font-weight:bold;color:#1a1a1a;transform:scaleX(1.0900);transform-origin:0 0;">3.7.</div>
<div class="t" style="left:1240.1px;top:352.80px;font-size:17.5px;font-family:'Liberation Sans', sans-serif;font-weight:normal;color:#1a1a1a;">7</div>
<div class="t" style="left:954.9px;top:380.55px;font-size:17.5px;font-family:'Liberation Sans', sans-serif;font-weight:normal;color:#1a1a1a;transform:scaleX(0.9600);transform-origin:0 0;">4104</div>
<div class="t" style="left:1048.6px;top:380.35px;font-size:17.5px;font-family:'Liberation Sans', sans-serif;font-weight:bold;color:#1a1a1a;transform:scaleX(1.0900);transform-origin:0 0;">3.7.</div>
<div class="t" style="left:1140.3px;top:380.35px;font-size:17.5px;font-family:'Liberation Sans', sans-serif;font-weight:bold;color:#1a1a1a;transform:scaleX(1.0900);transform-origin:0 0;">10.7.</div>
<div class="t" style="left:1240.1px;top:380.35px;font-size:17.5px;font-family:'Liberation Sans', sans-serif;font-weight:normal;color:#1a1a1a;">7</div>
<div class="t" style="left:954.9px;top:408.10px;font-size:17.5px;font-family:'Liberation Sans', sans-serif;font-weight:normal;color:#1a1a1a;transform:scaleX(0.9600);transform-origin:0 0;">4105</div>
<div class="t" style="left:1043.3px;top:407.90px;font-size:17.5px;font-family:'Liberation Sans', sans-serif;font-weight:bold;color:#1a1a1a;transform:scaleX(1.0900);transform-origin:0 0;">10.7.</div>
<div class="t" style="left:1140.3px;top:407.90px;font-size:17.5px;font-family:'Liberation Sans', sans-serif;font-weight:bold;color:#1a1a1a;transform:scaleX(1.0900);transform-origin:0 0;">17.7.</div>
<div class="t" style="left:1240.1px;top:407.90px;font-size:17.5px;font-family:'Liberation Sans', sans-serif;font-weight:normal;color:#1a1a1a;">7</div>
<div class="t" style="left:954.9px;top:435.65px;font-size:17.5px;font-family:'Liberation Sans', sans-serif;font-weight:normal;color:#1a1a1a;transform:scaleX(0.9600);transform-origin:0 0;">4106</div>
<div class="t" style="left:1043.3px;top:435.45px;font-size:17.5px;font-family:'Liberation Sans', sans-serif;font-weight:bold;color:#1a1a1a;transform:scaleX(1.0900);transform-origin:0 0;">17.7.</div>
<div class="t" style="left:1140.3px;top:435.45px;font-size:17.5px;font-family:'Liberation Sans', sans-serif;font-weight:bold;color:#1a1a1a;transform:scaleX(1.0900);transform-origin:0 0;">24.7.</div>
<div class="t" style="left:1240.1px;top:435.45px;font-size:17.5px;font-family:'Liberation Sans', sans-serif;font-weight:normal;color:#1a1a1a;">7</div>
<div class="t" style="left:954.9px;top:463.20px;font-size:17.5px;font-family:'Liberation Sans', sans-serif;font-weight:normal;color:#1a1a1a;transform:scaleX(0.9600);transform-origin:0 0;">4107</div>
<div class="t" style="left:1043.3px;top:463.00px;font-size:17.5px;font-family:'Liberation Sans', sans-serif;font-weight:bold;color:#1a1a1a;transform:scaleX(1.0900);transform-origin:0 0;">24.7.</div>
<div class="t" style="left:1140.3px;top:463.00px;font-size:17.5px;font-family:'Liberation Sans', sans-serif;font-weight:bold;color:#1a1a1a;transform:scaleX(1.0900);transform-origin:0 0;">31.7.</div>
<div class="t" style="left:1240.1px;top:463.00px;font-size:17.5px;font-family:'Liberation Sans', sans-serif;font-weight:normal;color:#1a1a1a;">7</div>
<div class="t" style="left:954.9px;top:490.75px;font-size:17.5px;font-family:'Liberation Sans', sans-serif;font-weight:normal;color:#1a1a1a;transform:scaleX(0.9600);transform-origin:0 0;">4108</div>
<div class="t" style="left:1043.3px;top:490.55px;font-size:17.5px;font-family:'Liberation Sans', sans-serif;font-weight:bold;color:#1a1a1a;transform:scaleX(1.0900);transform-origin:0 0;">31.7.</div>
<div class="t" style="left:1145.6px;top:490.55px;font-size:17.5px;font-family:'Liberation Sans', sans-serif;font-weight:bold;color:#1a1a1a;transform:scaleX(1.0900);transform-origin:0 0;">7.8.</div>
<div class="t" style="left:1240.1px;top:490.55px;font-size:17.5px;font-family:'Liberation Sans', sans-serif;font-weight:normal;color:#1a1a1a;">7</div>
<div class="t" style="left:954.9px;top:518.30px;font-size:17.5px;font-family:'Liberation Sans', sans-serif;font-weight:normal;color:#1a1a1a;transform:scaleX(0.9600);transform-origin:0 0;">4109</div>
<div class="t" style="left:1048.6px;top:518.10px;font-size:17.5px;font-family:'Liberation Sans', sans-serif;font-weight:bold;color:#1a1a1a;transform:scaleX(1.0900);transform-origin:0 0;">7.8.</div>
<div class="t" style="left:1140.3px;top:518.10px;font-size:17.5px;font-family:'Liberation Sans', sans-serif;font-weight:bold;color:#1a1a1a;transform:scaleX(1.0900);transform-origin:0 0;">14.8.</div>
<div class="t" style="left:1240.1px;top:518.10px;font-size:17.5px;font-family:'Liberation Sans', sans-serif;font-weight:normal;color:#1a1a1a;">7</div>
<div class="t" style="left:955.5px;top:545.85px;font-size:17.5px;font-family:'Liberation Sans', sans-serif;font-weight:normal;color:#1a1a1a;transform:scaleX(0.9600);transform-origin:0 0;">4110</div>
<div class="t" style="left:1043.3px;top:545.65px;font-size:17.5px;font-family:'Liberation Sans', sans-serif;font-weight:bold;color:#1a1a1a;transform:scaleX(1.0900);transform-origin:0 0;">14.8.</div>
<div class="t" style="left:1140.3px;top:545.65px;font-size:17.5px;font-family:'Liberation Sans', sans-serif;font-weight:bold;color:#1a1a1a;transform:scaleX(1.0900);transform-origin:0 0;">21.8.</div>
<div class="t" style="left:1240.1px;top:545.65px;font-size:17.5px;font-family:'Liberation Sans', sans-serif;font-weight:normal;color:#1a1a1a;">7</div>
<div class="t" style="left:956.2px;top:573.40px;font-size:17.5px;font-family:'Liberation Sans', sans-serif;font-weight:normal;color:#1a1a1a;transform:scaleX(0.9600);transform-origin:0 0;">4111</div>
<div class="t" style="left:1043.3px;top:573.20px;font-size:17.5px;font-family:'Liberation Sans', sans-serif;font-weight:bold;color:#1a1a1a;transform:scaleX(1.0900);transform-origin:0 0;">21.8.</div>
<div class="t" style="left:1140.3px;top:573.20px;font-size:17.5px;font-family:'Liberation Sans', sans-serif;font-weight:bold;color:#1a1a1a;transform:scaleX(1.0900);transform-origin:0 0;">28.8.</div>
<div class="t" style="left:1240.1px;top:573.20px;font-size:17.5px;font-family:'Liberation Sans', sans-serif;font-weight:normal;color:#1a1a1a;">7</div>
<div class="t" style="left:955.5px;top:600.95px;font-size:17.5px;font-family:'Liberation Sans', sans-serif;font-weight:normal;color:#1a1a1a;transform:scaleX(0.9600);transform-origin:0 0;">4112</div>
<div class="t" style="left:1043.3px;top:600.75px;font-size:17.5px;font-family:'Liberation Sans', sans-serif;font-weight:bold;color:#1a1a1a;transform:scaleX(1.0900);transform-origin:0 0;">28.8.</div>
<div class="t" style="left:1145.6px;top:600.75px;font-size:17.5px;font-family:'Liberation Sans', sans-serif;font-weight:bold;color:#1a1a1a;transform:scaleX(1.0900);transform-origin:0 0;">4.9.</div>
<div class="t" style="left:1240.1px;top:600.75px;font-size:17.5px;font-family:'Liberation Sans', sans-serif;font-weight:normal;color:#1a1a1a;">7</div>
<div class="t" style="left:955.5px;top:628.50px;font-size:17.5px;font-family:'Liberation Sans', sans-serif;font-weight:normal;color:#1a1a1a;transform:scaleX(0.9600);transform-origin:0 0;">4113</div>
<div class="t" style="left:1048.6px;top:628.30px;font-size:17.5px;font-family:'Liberation Sans', sans-serif;font-weight:bold;color:#1a1a1a;transform:scaleX(1.0900);transform-origin:0 0;">4.9.</div>
<div class="t" style="left:1140.8px;top:628.30px;font-size:17.5px;font-family:'Liberation Sans', sans-serif;font-weight:bold;color:#1a1a1a;transform:scaleX(1.0900);transform-origin:0 0;">11.9.</div>
<div class="t" style="left:1240.1px;top:628.30px;font-size:17.5px;font-family:'Liberation Sans', sans-serif;font-weight:normal;color:#1a1a1a;">7</div>
<div class="t" style="left:41.6px;top:683.70px;font-size:18px;font-family:'Liberation Sans', sans-serif;font-weight:normal;color:#1a1a1a;transform:scaleX(0.9750);transform-origin:0 0;">Nájdete na strane » <b>12 - 13</b></div>
<div class="t" style="left:42.0px;top:719.40px;font-size:27px;font-family:'Liberation Sans', sans-serif;font-weight:bold;color:#fff;transform:scaleX(0.9476);transform-origin:0 0;">Salou Park II.</div>
<div class="t" style="left:220.0px;top:721.50px;font-size:21px;font-family:'Liberation Sans', sans-serif;font-weight:normal;color:#f4f4f4;transform:scaleX(0.9689);transform-origin:0 0;">hotelový komplex</div>
<div class="t" style="left:763.5px;top:722.20px;font-size:18px;font-family:'Liberation Sans', sans-serif;font-weight:bold;color:#111;transform:scaleX(0.9678);transform-origin:0 0;">Ceny 8 a 15-dňových leteckých zájazdov</div>
<div class="t" style="left:234.0px;top:760.70px;font-size:18px;font-family:'Liberation Sans', sans-serif;font-weight:normal;color:#111;transform:scaleX(0.9120);transform-origin:0 0;">osoba na základnom lôžku</div>
<div class="t" style="left:650.2px;top:761.50px;font-size:18px;font-family:'Liberation Sans', sans-serif;font-weight:bold;color:#111;">1210</div>
<div class="t" style="left:824.5px;top:761.50px;font-size:18px;font-family:'Liberation Sans', sans-serif;font-weight:bold;color:#111;">1230</div>
<div class="t" style="left:999.0px;top:761.50px;font-size:18px;font-family:'Liberation Sans', sans-serif;font-weight:bold;color:#111;">1330</div>
<div class="t" style="left:1173.0px;top:761.50px;font-size:18px;font-family:'Liberation Sans', sans-serif;font-weight:bold;color:#111;">1350</div>
<div class="t" style="left:296.0px;top:794.30px;font-size:18px;font-family:'Liberation Sans', sans-serif;font-weight:bold;color:#fff;transform:scaleX(0.9800);transform-origin:0 0;">TOP FIRST MINUTE</div>
<div class="t" style="left:655.5px;top:794.40px;font-size:18px;font-family:'Liberation Sans', sans-serif;font-weight:bold;color:#fff;transform:scaleX(0.9850);transform-origin:0 0;">726</div>
<div class="t" style="left:829.7px;top:794.40px;font-size:18px;font-family:'Liberation Sans', sans-serif;font-weight:bold;color:#fff;transform:scaleX(0.9850);transform-origin:0 0;">738</div>
<div class="t" style="left:1004.2px;top:794.40px;font-size:18px;font-family:'Liberation Sans', sans-serif;font-weight:bold;color:#fff;transform:scaleX(0.9850);transform-origin:0 0;">798</div>
<div class="t" style="left:1178.2px;top:794.40px;font-size:18px;font-family:'Liberation Sans', sans-serif;font-weight:bold;color:#fff;transform:scaleX(0.9850);transform-origin:0 0;">810</div>
<div class="t" style="left:234.0px;top:828.20px;font-size:18px;font-family:'Liberation Sans', sans-serif;font-weight:normal;color:#111;transform:scaleX(0.9120);transform-origin:0 0;">dospelá osoba na prístelke</div>
<div class="t" style="left:650.2px;top:829.00px;font-size:18px;font-family:'Liberation Sans', sans-serif;font-weight:bold;color:#111;">1080</div>
<div class="t" style="left:824.5px;top:829.00px;font-size:18px;font-family:'Liberation Sans', sans-serif;font-weight:bold;color:#111;">1090</div>
<div class="t" style="left:999.5px;top:829.00px;font-size:18px;font-family:'Liberation Sans', sans-serif;font-weight:bold;color:#111;">1180</div>
<div class="t" style="left:1173.0px;top:829.00px;font-size:18px;font-family:'Liberation Sans', sans-serif;font-weight:bold;color:#111;">1200</div>
<div class="t" style="left:234.0px;top:862.20px;font-size:18px;font-family:'Liberation Sans', sans-serif;font-weight:normal;color:#111;transform:scaleX(0.9120);transform-origin:0 0;">dieťa do 12 rokov na prístelke</div>
<div class="t" style="left:655.2px;top:863.00px;font-size:18px;font-family:'Liberation Sans', sans-serif;font-weight:bold;color:#111;">750</div>
<div class="t" style="left:829.5px;top:863.00px;font-size:18px;font-family:'Liberation Sans', sans-serif;font-weight:bold;color:#111;">770</div>
<div class="t" style="left:1004.0px;top:863.00px;font-size:18px;font-family:'Liberation Sans', sans-serif;font-weight:bold;color:#111;">830</div>
<div class="t" style="left:1178.0px;top:863.00px;font-size:18px;font-family:'Liberation Sans', sans-serif;font-weight:bold;color:#111;">840</div>
<div class="t" style="left:234.0px;top:899.60px;font-size:18px;font-family:'Liberation Sans', sans-serif;font-weight:normal;color:#111;transform:scaleX(0.8905);transform-origin:0 0;"><b>V cene je zahrnuté</b> » 7x ubytovanie, ultra all inclusive, letecká doprava, služby delegáta, DPH.</div>
<div class="t" style="left:41.6px;top:960.60px;font-size:18px;font-family:'Liberation Sans', sans-serif;font-weight:normal;color:#1a1a1a;transform:scaleX(0.9750);transform-origin:0 0;">Nájdete na strane » <b>19</b></div>
<div class="t" style="left:42.0px;top:996.10px;font-size:27px;font-family:'Liberation Sans', sans-serif;font-weight:bold;color:#fff;transform:scaleX(0.9900);transform-origin:0 0;">Mercury</div>
<div class="t" style="left:161.0px;top:998.20px;font-size:21px;font-family:'Liberation Sans', sans-serif;font-weight:normal;color:#f4f4f4;transform:scaleX(0.9880);transform-origin:0 0;">hotel</div>
<div class="t" style="left:763.5px;top:998.70px;font-size:18px;font-family:'Liberation Sans', sans-serif;font-weight:bold;color:#111;transform:scaleX(0.9678);transform-origin:0 0;">Ceny 8 a 15-dňových leteckých zájazdov</div>
<div class="t" style="left:234.0px;top:1037.20px;font-size:18px;font-family:'Liberation Sans', sans-serif;font-weight:normal;color:#111;transform:scaleX(0.9120);transform-origin:0 0;">osoba na základnom lôžku</div>
<div class="t" style="left:650.7px;top:1038.00px;font-size:18px;font-family:'Liberation Sans', sans-serif;font-weight:bold;color:#111;">1180</div>
<div class="t" style="left:824.5px;top:1038.00px;font-size:18px;font-family:'Liberation Sans', sans-serif;font-weight:bold;color:#111;">1210</div>
<div class="t" style="left:999.0px;top:1038.00px;font-size:18px;font-family:'Liberation Sans', sans-serif;font-weight:bold;color:#111;">1330</div>
<div class="t" style="left:1173.0px;top:1038.00px;font-size:18px;font-family:'Liberation Sans', sans-serif;font-weight:bold;color:#111;">1390</div>
<div class="t" style="left:296.0px;top:1070.80px;font-size:18px;font-family:'Liberation Sans', sans-serif;font-weight:bold;color:#fff;transform:scaleX(0.9800);transform-origin:0 0;">TOP FIRST MINUTE</div>
<div class="t" style="left:655.5px;top:1070.90px;font-size:18px;font-family:'Liberation Sans', sans-serif;font-weight:bold;color:#fff;transform:scaleX(0.9850);transform-origin:0 0;">708</div>
<div class="t" style="left:829.7px;top:1070.90px;font-size:18px;font-family:'Liberation Sans', sans-serif;font-weight:bold;color:#fff;transform:scaleX(0.9850);transform-origin:0 0;">726</div>
<div class="t" style="left:1004.2px;top:1070.90px;font-size:18px;font-family:'Liberation Sans', sans-serif;font-weight:bold;color:#fff;transform:scaleX(0.9850);transform-origin:0 0;">798</div>
<div class="t" style="left:1178.2px;top:1070.90px;font-size:18px;font-family:'Liberation Sans', sans-serif;font-weight:bold;color:#fff;transform:scaleX(0.9850);transform-origin:0 0;">834</div>
<div class="t" style="left:234.0px;top:1104.70px;font-size:18px;font-family:'Liberation Sans', sans-serif;font-weight:normal;color:#111;transform:scaleX(0.9120);transform-origin:0 0;">dospelá osoba na 1. prístelke</div>
<div class="t" style="left:655.2px;top:1105.50px;font-size:18px;font-family:'Liberation Sans', sans-serif;font-weight:bold;color:#111;">980</div>
<div class="t" style="left:824.5px;top:1105.50px;font-size:18px;font-family:'Liberation Sans', sans-serif;font-weight:bold;color:#111;">1000</div>
<div class="t" style="left:999.5px;top:1105.50px;font-size:18px;font-family:'Liberation Sans', sans-serif;font-weight:bold;color:#111;">1100</div>
<div class="t" style="left:1173.5px;top:1105.50px;font-size:18px;font-family:'Liberation Sans', sans-serif;font-weight:bold;color:#111;">1150</div>
<div class="t" style="left:234.0px;top:1139.70px;font-size:18px;font-family:'Liberation Sans', sans-serif;font-weight:normal;color:#111;transform:scaleX(0.9120);transform-origin:0 0;">1. dieťa do 13 rokov na prístelke</div>
<div class="t" style="left:655.2px;top:1140.50px;font-size:18px;font-family:'Liberation Sans', sans-serif;font-weight:bold;color:#111;">290</div>
<div class="t" style="left:829.5px;top:1140.50px;font-size:18px;font-family:'Liberation Sans', sans-serif;font-weight:bold;color:#111;">290</div>
<div class="t" style="left:1004.0px;top:1140.50px;font-size:18px;font-family:'Liberation Sans', sans-serif;font-weight:bold;color:#111;">290</div>
<div class="t" style="left:1178.0px;top:1140.50px;font-size:18px;font-family:'Liberation Sans', sans-serif;font-weight:bold;color:#111;">290</div>
<div class="t" style="left:295.7px;top:1173.50px;font-size:18px;font-family:'Liberation Sans', sans-serif;font-weight:bold;color:#c8122f;transform:scaleX(0.9579);transform-origin:0 0;">TOP FIRST MINUTE</div>
<div class="t" style="left:616.7px;top:1173.50px;font-size:18px;font-family:'Liberation Sans', sans-serif;font-weight:bold;color:#c8122f;transform:scaleX(0.9829);transform-origin:0 0;">špeciálna znížená cena len 149 € - ubytovanie a ultra all inclusive ZDARMA</div>
<div class="t" style="left:234.0px;top:1207.70px;font-size:18px;font-family:'Liberation Sans', sans-serif;font-weight:normal;color:#111;transform:scaleX(0.9120);transform-origin:0 0;">2. dieťa do 13 rokov na prístelke</div>
<div class="t" style="left:655.2px;top:1208.50px;font-size:18px;font-family:'Liberation Sans', sans-serif;font-weight:bold;color:#111;">840</div>
<div class="t" style="left:829.5px;top:1208.50px;font-size:18px;font-family:'Liberation Sans', sans-serif;font-weight:bold;color:#111;">870</div>
<div class="t" style="left:1004.0px;top:1208.50px;font-size:18px;font-family:'Liberation Sans', sans-serif;font-weight:bold;color:#111;">950</div>
<div class="t" style="left:1173.0px;top:1208.50px;font-size:18px;font-family:'Liberation Sans', sans-serif;font-weight:bold;color:#111;">1000</div>
<div class="t" style="left:234.0px;top:1244.00px;font-size:18px;font-family:'Liberation Sans', sans-serif;font-weight:normal;color:#111;transform:scaleX(0.8905);transform-origin:0 0;"><b>V cene je zahrnuté</b> » 7x ubytovanie, ultra all inclusive, letecká doprava, služby delegáta, DPH.</div>
<div class="t" style="left:41.6px;top:1309.50px;font-size:18px;font-family:'Liberation Sans', sans-serif;font-weight:normal;color:#1a1a1a;transform:scaleX(0.9750);transform-origin:0 0;">Nájdete na strane » <b>16 - 17</b></div>
<div class="t" style="left:42.0px;top:1344.90px;font-size:27px;font-family:'Liberation Sans', sans-serif;font-weight:bold;color:#fff;">Miramar</div>
<div class="t" style="left:163.8px;top:1347.00px;font-size:21px;font-family:'Liberation Sans', sans-serif;font-weight:normal;color:#f4f4f4;transform:scaleX(0.9715);transform-origin:0 0;">hotel</div>
<div class="t" style="left:763.5px;top:1348.40px;font-size:18px;font-family:'Liberation Sans', sans-serif;font-weight:bold;color:#111;transform:scaleX(0.9678);transform-origin:0 0;">Ceny 8 a 15-dňových leteckých zájazdov</div>
<div class="t" style="left:234.0px;top:1386.90px;font-size:18px;font-family:'Liberation Sans', sans-serif;font-weight:normal;color:#111;transform:scaleX(0.9120);transform-origin:0 0;">osoba na základnom lôžku</div>
<div class="t" style="left:650.2px;top:1387.70px;font-size:18px;font-family:'Liberation Sans', sans-serif;font-weight:bold;color:#111;">1230</div>
<div class="t" style="left:824.5px;top:1387.70px;font-size:18px;font-family:'Liberation Sans', sans-serif;font-weight:bold;color:#111;">1260</div>
<div class="t" style="left:999.0px;top:1387.70px;font-size:18px;font-family:'Liberation Sans', sans-serif;font-weight:bold;color:#111;">1360</div>
<div class="t" style="left:1173.0px;top:1387.70px;font-size:18px;font-family:'Liberation Sans', sans-serif;font-weight:bold;color:#111;">1390</div>
<div class="t" style="left:296.0px;top:1420.60px;font-size:18px;font-family:'Liberation Sans', sans-serif;font-weight:bold;color:#fff;transform:scaleX(0.9800);transform-origin:0 0;">TOP FIRST MINUTE</div>
<div class="t" style="left:655.5px;top:1420.70px;font-size:18px;font-family:'Liberation Sans', sans-serif;font-weight:bold;color:#fff;transform:scaleX(0.9850);transform-origin:0 0;">738</div>
<div class="t" style="left:829.7px;top:1420.70px;font-size:18px;font-family:'Liberation Sans', sans-serif;font-weight:bold;color:#fff;transform:scaleX(0.9850);transform-origin:0 0;">756</div>
<div class="t" style="left:1004.2px;top:1420.70px;font-size:18px;font-family:'Liberation Sans', sans-serif;font-weight:bold;color:#fff;transform:scaleX(0.9850);transform-origin:0 0;">816</div>
<div class="t" style="left:1178.2px;top:1420.70px;font-size:18px;font-family:'Liberation Sans', sans-serif;font-weight:bold;color:#fff;transform:scaleX(0.9850);transform-origin:0 0;">834</div>
<div class="t" style="left:234.0px;top:1454.30px;font-size:18px;font-family:'Liberation Sans', sans-serif;font-weight:normal;color:#111;transform:scaleX(0.9120);transform-origin:0 0;">dospelá osoba na 1. prístelke</div>
<div class="t" style="left:650.2px;top:1455.10px;font-size:18px;font-family:'Liberation Sans', sans-serif;font-weight:bold;color:#111;">1090</div>
<div class="t" style="left:825.0px;top:1455.10px;font-size:18px;font-family:'Liberation Sans', sans-serif;font-weight:bold;color:#111;">1120</div>
<div class="t" style="left:999.0px;top:1455.10px;font-size:18px;font-family:'Liberation Sans', sans-serif;font-weight:bold;color:#111;">1210</div>
<div class="t" style="left:1173.0px;top:1455.10px;font-size:18px;font-family:'Liberation Sans', sans-serif;font-weight:bold;color:#111;">1230</div>
<div class="t" style="left:234.0px;top:1488.60px;font-size:18px;font-family:'Liberation Sans', sans-serif;font-weight:normal;color:#111;transform:scaleX(0.9120);transform-origin:0 0;">1. dieťa do 12 rokov na prístelke</div>
<div class="t" style="left:655.2px;top:1489.40px;font-size:18px;font-family:'Liberation Sans', sans-serif;font-weight:bold;color:#111;">760</div>
<div class="t" style="left:829.5px;top:1489.40px;font-size:18px;font-family:'Liberation Sans', sans-serif;font-weight:bold;color:#111;">770</div>
<div class="t" style="left:1004.0px;top:1489.40px;font-size:18px;font-family:'Liberation Sans', sans-serif;font-weight:bold;color:#111;">840</div>
<div class="t" style="left:1178.0px;top:1489.40px;font-size:18px;font-family:'Liberation Sans', sans-serif;font-weight:bold;color:#111;">850</div>
<div class="t" style="left:234.0px;top:1523.00px;font-size:18px;font-family:'Liberation Sans', sans-serif;font-weight:normal;color:#111;transform:scaleX(0.9120);transform-origin:0 0;">2. dieťa do 12 rokov na prístelke</div>
<div class="t" style="left:655.2px;top:1523.80px;font-size:18px;font-family:'Liberation Sans', sans-serif;font-weight:bold;color:#111;">890</div>
<div class="t" style="left:829.5px;top:1523.80px;font-size:18px;font-family:'Liberation Sans', sans-serif;font-weight:bold;color:#111;">910</div>
<div class="t" style="left:1004.0px;top:1523.80px;font-size:18px;font-family:'Liberation Sans', sans-serif;font-weight:bold;color:#111;">980</div>
<div class="t" style="left:1173.0px;top:1523.80px;font-size:18px;font-family:'Liberation Sans', sans-serif;font-weight:bold;color:#111;">1010</div>
<div class="t" style="left:234.0px;top:1560.90px;font-size:18px;font-family:'Liberation Sans', sans-serif;font-weight:normal;color:#111;transform:scaleX(0.8905);transform-origin:0 0;"><b>V cene je zahrnuté</b> » 7x ubytovanie, ultra all inclusive, letecká doprava, služby delegáta, DPH.</div>
<div class="t" style="left:234.0px;top:1582.50px;font-size:18px;font-family:'Liberation Sans', sans-serif;font-weight:normal;color:#111;transform:scaleX(0.8915);transform-origin:0 0;"><b>Príplatok</b> » za izbu s priamym výhľadom na more +27 € na izbu a noc pobytu, izby s priamym výhľadom na more sú na vyžiadanie.</div>
<div class="t" style="left:41.6px;top:1645.20px;font-size:18px;font-family:'Liberation Sans', sans-serif;font-weight:normal;color:#1a1a1a;transform:scaleX(0.9750);transform-origin:0 0;">Nájdete na strane » <b>21</b></div>
<div class="t" style="left:42.0px;top:1680.90px;font-size:27px;font-family:'Liberation Sans', sans-serif;font-weight:bold;color:#fff;transform:scaleX(0.9393);transform-origin:0 0;">DWO Sirius</div>
<div class="t" style="left:197.0px;top:1683.00px;font-size:21px;font-family:'Liberation Sans', sans-serif;font-weight:normal;color:#f4f4f4;transform:scaleX(0.9880);transform-origin:0 0;">hotel</div>
<div class="t" style="left:763.5px;top:1683.70px;font-size:18px;font-family:'Liberation Sans', sans-serif;font-weight:bold;color:#111;transform:scaleX(0.9678);transform-origin:0 0;">Ceny 8 a 15-dňových leteckých zájazdov</div>
<div class="t" style="left:234.0px;top:1722.20px;font-size:18px;font-family:'Liberation Sans', sans-serif;font-weight:normal;color:#111;transform:scaleX(0.9120);transform-origin:0 0;">osoba na základnom lôžku</div>
<div class="t" style="left:650.2px;top:1723.00px;font-size:18px;font-family:'Liberation Sans', sans-serif;font-weight:bold;color:#111;">1390</div>
<div class="t" style="left:824.5px;top:1723.00px;font-size:18px;font-family:'Liberation Sans', sans-serif;font-weight:bold;color:#111;">1430</div>
<div class="t" style="left:999.0px;top:1723.00px;font-size:18px;font-family:'Liberation Sans', sans-serif;font-weight:bold;color:#111;">1530</div>
<div class="t" style="left:1173.0px;top:1723.00px;font-size:18px;font-family:'Liberation Sans', sans-serif;font-weight:bold;color:#111;">1550</div>
<div class="t" style="left:296.0px;top:1755.80px;font-size:18px;font-family:'Liberation Sans', sans-serif;font-weight:bold;color:#fff;transform:scaleX(0.9800);transform-origin:0 0;">TOP FIRST MINUTE</div>
<div class="t" style="left:655.5px;top:1755.90px;font-size:18px;font-family:'Liberation Sans', sans-serif;font-weight:bold;color:#fff;transform:scaleX(0.9850);transform-origin:0 0;">834</div>
<div class="t" style="left:829.7px;top:1755.90px;font-size:18px;font-family:'Liberation Sans', sans-serif;font-weight:bold;color:#fff;transform:scaleX(0.9850);transform-origin:0 0;">858</div>
<div class="t" style="left:1004.2px;top:1755.90px;font-size:18px;font-family:'Liberation Sans', sans-serif;font-weight:bold;color:#fff;transform:scaleX(0.9850);transform-origin:0 0;">918</div>
<div class="t" style="left:1178.2px;top:1755.90px;font-size:18px;font-family:'Liberation Sans', sans-serif;font-weight:bold;color:#fff;transform:scaleX(0.9850);transform-origin:0 0;">930</div>
<div class="t" style="left:234.0px;top:1789.70px;font-size:18px;font-family:'Liberation Sans', sans-serif;font-weight:normal;color:#111;transform:scaleX(0.9120);transform-origin:0 0;">dospelá osoba od 16 rokov na prístelke</div>
<div class="t" style="left:650.2px;top:1790.50px;font-size:18px;font-family:'Liberation Sans', sans-serif;font-weight:bold;color:#111;">1260</div>
<div class="t" style="left:824.5px;top:1790.50px;font-size:18px;font-family:'Liberation Sans', sans-serif;font-weight:bold;color:#111;">1300</div>
<div class="t" style="left:999.0px;top:1790.50px;font-size:18px;font-family:'Liberation Sans', sans-serif;font-weight:bold;color:#111;">1390</div>
<div class="t" style="left:1173.0px;top:1790.50px;font-size:18px;font-family:'Liberation Sans', sans-serif;font-weight:bold;color:#111;">1400</div>
<div class="t" style="left:234.0px;top:1827.50px;font-size:18px;font-family:'Liberation Sans', sans-serif;font-weight:normal;color:#111;transform:scaleX(0.8985);transform-origin:0 0;"><b>V cene je zahrnuté</b> » 7x ubytovanie, premium ultra all inclusive, letecká doprava, služby delegáta, DPH.</div>
</body></html>
